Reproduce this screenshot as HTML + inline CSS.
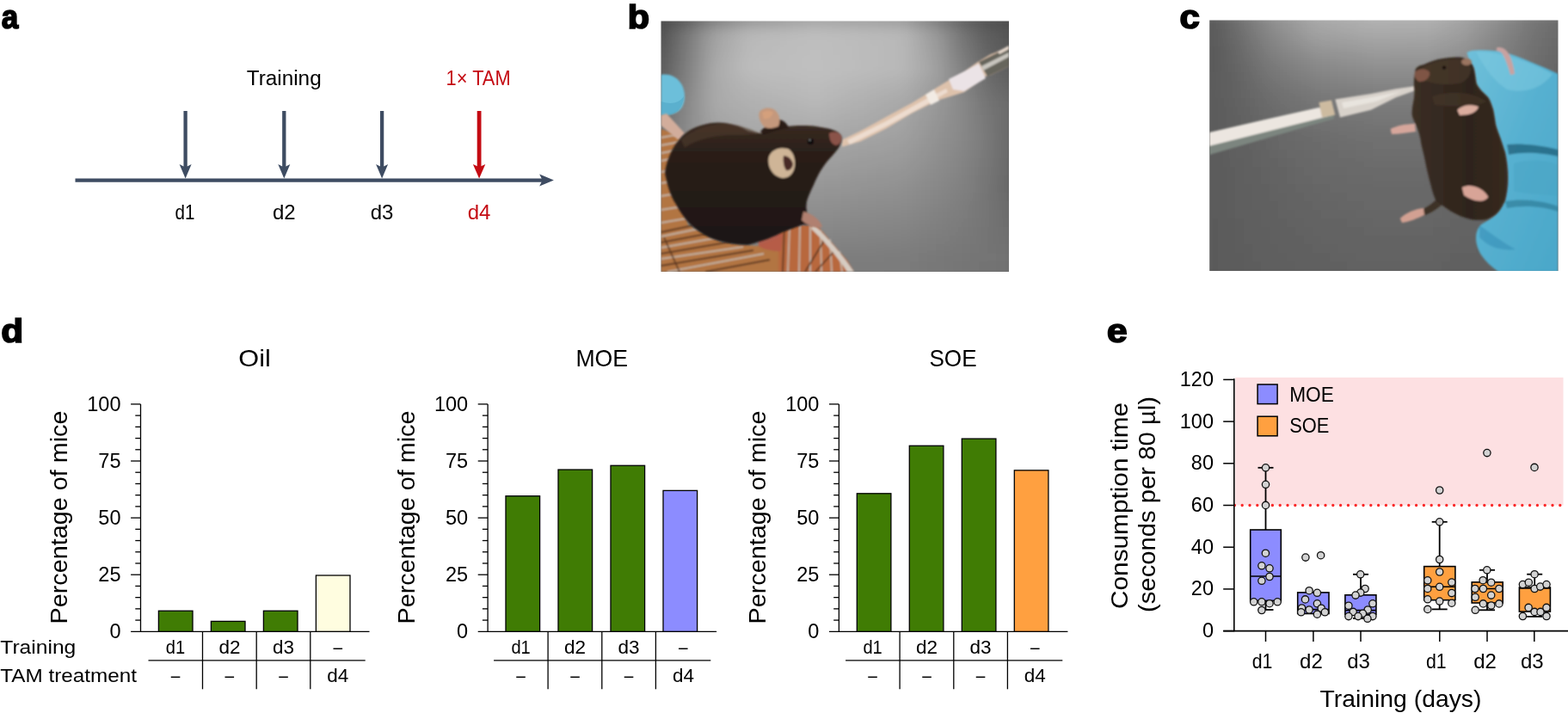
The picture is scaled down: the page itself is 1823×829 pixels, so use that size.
<!DOCTYPE html>
<html><head><meta charset="utf-8"><title>Figure</title>
<style>
html,body{margin:0;padding:0;background:#fff;}
body{width:1823px;height:829px;overflow:hidden;}
svg{display:block;}
svg text{font-family:'Liberation Sans', Arial, sans-serif;}
</style></head>
<body>
<svg width="1823" height="829" viewBox="0 0 1823 829">
<rect width="1823" height="829" fill="#fff"/>
<defs>
<clipPath id="cb"><rect x="768.5" y="24.5" width="404.5" height="291.5"/></clipPath>
<clipPath id="cc"><rect x="1406.2" y="23.5" width="405.3" height="291.5"/></clipPath>
<filter id="bgblur" x="-5%" y="-5%" width="110%" height="110%"><feGaussianBlur stdDeviation="6"/></filter>
<filter id="soft" x="-10%" y="-10%" width="120%" height="120%"><feGaussianBlur stdDeviation="1.1"/></filter>
<filter id="soft2" x="-10%" y="-10%" width="120%" height="120%"><feGaussianBlur stdDeviation="2"/></filter>
<linearGradient id="pip" x1="0" y1="0" x2="0.3" y2="1">
 <stop offset="0" stop-color="#efe6dc"/><stop offset="0.5" stop-color="#e2cdb9"/><stop offset="1" stop-color="#caa993"/>
</linearGradient>
<linearGradient id="glove" x1="0" y1="0" x2="1" y2="1">
 <stop offset="0" stop-color="#6fc0da"/><stop offset="0.5" stop-color="#56b0d0"/><stop offset="1" stop-color="#4aa7c9"/>
</linearGradient>
<linearGradient id="mb" x1="0" y1="0" x2="0" y2="1">
 <stop offset="0" stop-color="#3a2b22"/><stop offset="0.25" stop-color="#2a1f19"/><stop offset="1" stop-color="#1d1613"/>
</linearGradient>
<linearGradient id="mc" x1="0" y1="0" x2="1" y2="0">
 <stop offset="0" stop-color="#3b2e24"/><stop offset="0.6" stop-color="#2e241c"/><stop offset="1" stop-color="#372a20"/>
</linearGradient>
</defs>
<g clip-path="url(#cb)">
<g filter="url(#bgblur)"><rect x="758" y="14" width="10.6" height="10.6" fill="#494949"/>
<rect x="768" y="14" width="10.6" height="10.6" fill="#4b4b4b"/>
<rect x="778" y="14" width="10.6" height="10.6" fill="#515151"/>
<rect x="788" y="14" width="10.6" height="10.6" fill="#565656"/>
<rect x="798" y="14" width="10.6" height="10.6" fill="#5d5d5d"/>
<rect x="808" y="14" width="10.6" height="10.6" fill="#686868"/>
<rect x="818" y="14" width="10.6" height="10.6" fill="#737373"/>
<rect x="828" y="14" width="10.6" height="10.6" fill="#7c7c7c"/>
<rect x="838" y="14" width="10.6" height="10.6" fill="#828282"/>
<rect x="848" y="14" width="10.6" height="10.6" fill="#888888"/>
<rect x="858" y="14" width="10.6" height="10.6" fill="#8e8e8e"/>
<rect x="868" y="14" width="10.6" height="10.6" fill="#929292"/>
<rect x="878" y="14" width="10.6" height="10.6" fill="#949494"/>
<rect x="888" y="14" width="10.6" height="10.6" fill="#969696"/>
<rect x="898" y="14" width="10.6" height="10.6" fill="#989898"/>
<rect x="908" y="14" width="10.6" height="10.6" fill="#9a9a9a"/>
<rect x="918" y="14" width="10.6" height="10.6" fill="#9c9c9c"/>
<rect x="928" y="14" width="10.6" height="10.6" fill="#9e9e9e"/>
<rect x="938" y="14" width="10.6" height="10.6" fill="#a0a0a0"/>
<rect x="948" y="14" width="10.6" height="10.6" fill="#a1a1a1"/>
<rect x="958" y="14" width="10.6" height="10.6" fill="#a0a0a0"/>
<rect x="968" y="14" width="10.6" height="10.6" fill="#9f9f9f"/>
<rect x="978" y="14" width="10.6" height="10.6" fill="#9f9f9f"/>
<rect x="988" y="14" width="10.6" height="10.6" fill="#9e9e9e"/>
<rect x="998" y="14" width="10.6" height="10.6" fill="#9d9d9d"/>
<rect x="1008" y="14" width="10.6" height="10.6" fill="#9c9c9c"/>
<rect x="1018" y="14" width="10.6" height="10.6" fill="#9b9b9b"/>
<rect x="1028" y="14" width="10.6" height="10.6" fill="#9b9b9b"/>
<rect x="1038" y="14" width="10.6" height="10.6" fill="#9a9a9a"/>
<rect x="1048" y="14" width="10.6" height="10.6" fill="#979797"/>
<rect x="1058" y="14" width="10.6" height="10.6" fill="#8f8f8f"/>
<rect x="1068" y="14" width="10.6" height="10.6" fill="#878787"/>
<rect x="1078" y="14" width="10.6" height="10.6" fill="#7f7f7f"/>
<rect x="1088" y="14" width="10.6" height="10.6" fill="#767676"/>
<rect x="1098" y="14" width="10.6" height="10.6" fill="#6e6e6e"/>
<rect x="1108" y="14" width="10.6" height="10.6" fill="#666666"/>
<rect x="1118" y="14" width="10.6" height="10.6" fill="#5f5f5f"/>
<rect x="1128" y="14" width="10.6" height="10.6" fill="#595959"/>
<rect x="1138" y="14" width="10.6" height="10.6" fill="#545454"/>
<rect x="1148" y="14" width="10.6" height="10.6" fill="#505050"/>
<rect x="1158" y="14" width="10.6" height="10.6" fill="#4e4e4e"/>
<rect x="1168" y="14" width="10.6" height="10.6" fill="#4c4c4c"/>
<rect x="1178" y="14" width="10.6" height="10.6" fill="#4c4c4c"/>
<rect x="758" y="24" width="10.6" height="10.6" fill="#4c4c4c"/>
<rect x="768" y="24" width="10.6" height="10.6" fill="#505050"/>
<rect x="778" y="24" width="10.6" height="10.6" fill="#595959"/>
<rect x="788" y="24" width="10.6" height="10.6" fill="#616161"/>
<rect x="798" y="24" width="10.6" height="10.6" fill="#6b6b6b"/>
<rect x="808" y="24" width="10.6" height="10.6" fill="#777777"/>
<rect x="818" y="24" width="10.6" height="10.6" fill="#838383"/>
<rect x="828" y="24" width="10.6" height="10.6" fill="#8c8c8c"/>
<rect x="838" y="24" width="10.6" height="10.6" fill="#929292"/>
<rect x="848" y="24" width="10.6" height="10.6" fill="#989898"/>
<rect x="858" y="24" width="10.6" height="10.6" fill="#9e9e9e"/>
<rect x="868" y="24" width="10.6" height="10.6" fill="#a3a3a3"/>
<rect x="878" y="24" width="10.6" height="10.6" fill="#a4a4a4"/>
<rect x="888" y="24" width="10.6" height="10.6" fill="#a6a6a6"/>
<rect x="898" y="24" width="10.6" height="10.6" fill="#a7a7a7"/>
<rect x="908" y="24" width="10.6" height="10.6" fill="#a9a9a9"/>
<rect x="918" y="24" width="10.6" height="10.6" fill="#ababab"/>
<rect x="928" y="24" width="10.6" height="10.6" fill="#acacac"/>
<rect x="938" y="24" width="10.6" height="10.6" fill="#aeaeae"/>
<rect x="948" y="24" width="10.6" height="10.6" fill="#aeaeae"/>
<rect x="958" y="24" width="10.6" height="10.6" fill="#aeaeae"/>
<rect x="968" y="24" width="10.6" height="10.6" fill="#adadad"/>
<rect x="978" y="24" width="10.6" height="10.6" fill="#acacac"/>
<rect x="988" y="24" width="10.6" height="10.6" fill="#ababab"/>
<rect x="998" y="24" width="10.6" height="10.6" fill="#aaaaaa"/>
<rect x="1008" y="24" width="10.6" height="10.6" fill="#aaaaaa"/>
<rect x="1018" y="24" width="10.6" height="10.6" fill="#a9a9a9"/>
<rect x="1028" y="24" width="10.6" height="10.6" fill="#a8a8a8"/>
<rect x="1038" y="24" width="10.6" height="10.6" fill="#a7a7a7"/>
<rect x="1048" y="24" width="10.6" height="10.6" fill="#a4a4a4"/>
<rect x="1058" y="24" width="10.6" height="10.6" fill="#9c9c9c"/>
<rect x="1068" y="24" width="10.6" height="10.6" fill="#949494"/>
<rect x="1078" y="24" width="10.6" height="10.6" fill="#8c8c8c"/>
<rect x="1088" y="24" width="10.6" height="10.6" fill="#838383"/>
<rect x="1098" y="24" width="10.6" height="10.6" fill="#797979"/>
<rect x="1108" y="24" width="10.6" height="10.6" fill="#6e6e6e"/>
<rect x="1118" y="24" width="10.6" height="10.6" fill="#656565"/>
<rect x="1128" y="24" width="10.6" height="10.6" fill="#5f5f5f"/>
<rect x="1138" y="24" width="10.6" height="10.6" fill="#595959"/>
<rect x="1148" y="24" width="10.6" height="10.6" fill="#545454"/>
<rect x="1158" y="24" width="10.6" height="10.6" fill="#525252"/>
<rect x="1168" y="24" width="10.6" height="10.6" fill="#505050"/>
<rect x="1178" y="24" width="10.6" height="10.6" fill="#505050"/>
<rect x="758" y="34" width="10.6" height="10.6" fill="#505050"/>
<rect x="768" y="34" width="10.6" height="10.6" fill="#575757"/>
<rect x="778" y="34" width="10.6" height="10.6" fill="#636363"/>
<rect x="788" y="34" width="10.6" height="10.6" fill="#6f6f6f"/>
<rect x="798" y="34" width="10.6" height="10.6" fill="#7c7c7c"/>
<rect x="808" y="34" width="10.6" height="10.6" fill="#898989"/>
<rect x="818" y="34" width="10.6" height="10.6" fill="#969696"/>
<rect x="828" y="34" width="10.6" height="10.6" fill="#a1a1a1"/>
<rect x="838" y="34" width="10.6" height="10.6" fill="#a7a7a7"/>
<rect x="848" y="34" width="10.6" height="10.6" fill="#adadad"/>
<rect x="858" y="34" width="10.6" height="10.6" fill="#b3b3b3"/>
<rect x="868" y="34" width="10.6" height="10.6" fill="#b7b7b7"/>
<rect x="878" y="34" width="10.6" height="10.6" fill="#b8b8b8"/>
<rect x="888" y="34" width="10.6" height="10.6" fill="#b9b9b9"/>
<rect x="898" y="34" width="10.6" height="10.6" fill="#bababa"/>
<rect x="908" y="34" width="10.6" height="10.6" fill="#bababa"/>
<rect x="918" y="34" width="10.6" height="10.6" fill="#bbbbbb"/>
<rect x="928" y="34" width="10.6" height="10.6" fill="#bcbcbc"/>
<rect x="938" y="34" width="10.6" height="10.6" fill="#bdbdbd"/>
<rect x="948" y="34" width="10.6" height="10.6" fill="#bdbdbd"/>
<rect x="958" y="34" width="10.6" height="10.6" fill="#bcbcbc"/>
<rect x="968" y="34" width="10.6" height="10.6" fill="#bcbcbc"/>
<rect x="978" y="34" width="10.6" height="10.6" fill="#bbbbbb"/>
<rect x="988" y="34" width="10.6" height="10.6" fill="#bbbbbb"/>
<rect x="998" y="34" width="10.6" height="10.6" fill="#bababa"/>
<rect x="1008" y="34" width="10.6" height="10.6" fill="#b9b9b9"/>
<rect x="1018" y="34" width="10.6" height="10.6" fill="#b9b9b9"/>
<rect x="1028" y="34" width="10.6" height="10.6" fill="#b8b8b8"/>
<rect x="1038" y="34" width="10.6" height="10.6" fill="#b8b8b8"/>
<rect x="1048" y="34" width="10.6" height="10.6" fill="#b4b4b4"/>
<rect x="1058" y="34" width="10.6" height="10.6" fill="#acacac"/>
<rect x="1068" y="34" width="10.6" height="10.6" fill="#a4a4a4"/>
<rect x="1078" y="34" width="10.6" height="10.6" fill="#9c9c9c"/>
<rect x="1088" y="34" width="10.6" height="10.6" fill="#939393"/>
<rect x="1098" y="34" width="10.6" height="10.6" fill="#878787"/>
<rect x="1108" y="34" width="10.6" height="10.6" fill="#7b7b7b"/>
<rect x="1118" y="34" width="10.6" height="10.6" fill="#717171"/>
<rect x="1128" y="34" width="10.6" height="10.6" fill="#696969"/>
<rect x="1138" y="34" width="10.6" height="10.6" fill="#616161"/>
<rect x="1148" y="34" width="10.6" height="10.6" fill="#5b5b5b"/>
<rect x="1158" y="34" width="10.6" height="10.6" fill="#585858"/>
<rect x="1168" y="34" width="10.6" height="10.6" fill="#555555"/>
<rect x="1178" y="34" width="10.6" height="10.6" fill="#555555"/>
<rect x="758" y="44" width="10.6" height="10.6" fill="#535353"/>
<rect x="768" y="44" width="10.6" height="10.6" fill="#595959"/>
<rect x="778" y="44" width="10.6" height="10.6" fill="#666666"/>
<rect x="788" y="44" width="10.6" height="10.6" fill="#727272"/>
<rect x="798" y="44" width="10.6" height="10.6" fill="#7f7f7f"/>
<rect x="808" y="44" width="10.6" height="10.6" fill="#8c8c8c"/>
<rect x="818" y="44" width="10.6" height="10.6" fill="#999999"/>
<rect x="828" y="44" width="10.6" height="10.6" fill="#a4a4a4"/>
<rect x="838" y="44" width="10.6" height="10.6" fill="#aaaaaa"/>
<rect x="848" y="44" width="10.6" height="10.6" fill="#afafaf"/>
<rect x="858" y="44" width="10.6" height="10.6" fill="#b5b5b5"/>
<rect x="868" y="44" width="10.6" height="10.6" fill="#b9b9b9"/>
<rect x="878" y="44" width="10.6" height="10.6" fill="#bababa"/>
<rect x="888" y="44" width="10.6" height="10.6" fill="#bbbbbb"/>
<rect x="898" y="44" width="10.6" height="10.6" fill="#bbbbbb"/>
<rect x="908" y="44" width="10.6" height="10.6" fill="#bcbcbc"/>
<rect x="918" y="44" width="10.6" height="10.6" fill="#bdbdbd"/>
<rect x="928" y="44" width="10.6" height="10.6" fill="#bdbdbd"/>
<rect x="938" y="44" width="10.6" height="10.6" fill="#bebebe"/>
<rect x="948" y="44" width="10.6" height="10.6" fill="#bebebe"/>
<rect x="958" y="44" width="10.6" height="10.6" fill="#bebebe"/>
<rect x="968" y="44" width="10.6" height="10.6" fill="#bdbdbd"/>
<rect x="978" y="44" width="10.6" height="10.6" fill="#bcbcbc"/>
<rect x="988" y="44" width="10.6" height="10.6" fill="#bcbcbc"/>
<rect x="998" y="44" width="10.6" height="10.6" fill="#bbbbbb"/>
<rect x="1008" y="44" width="10.6" height="10.6" fill="#bababa"/>
<rect x="1018" y="44" width="10.6" height="10.6" fill="#bababa"/>
<rect x="1028" y="44" width="10.6" height="10.6" fill="#b9b9b9"/>
<rect x="1038" y="44" width="10.6" height="10.6" fill="#b8b8b8"/>
<rect x="1048" y="44" width="10.6" height="10.6" fill="#b5b5b5"/>
<rect x="1058" y="44" width="10.6" height="10.6" fill="#aeaeae"/>
<rect x="1068" y="44" width="10.6" height="10.6" fill="#a6a6a6"/>
<rect x="1078" y="44" width="10.6" height="10.6" fill="#9f9f9f"/>
<rect x="1088" y="44" width="10.6" height="10.6" fill="#969696"/>
<rect x="1098" y="44" width="10.6" height="10.6" fill="#8a8a8a"/>
<rect x="1108" y="44" width="10.6" height="10.6" fill="#7e7e7e"/>
<rect x="1118" y="44" width="10.6" height="10.6" fill="#747474"/>
<rect x="1128" y="44" width="10.6" height="10.6" fill="#6c6c6c"/>
<rect x="1138" y="44" width="10.6" height="10.6" fill="#646464"/>
<rect x="1148" y="44" width="10.6" height="10.6" fill="#5e5e5e"/>
<rect x="1158" y="44" width="10.6" height="10.6" fill="#5a5a5a"/>
<rect x="1168" y="44" width="10.6" height="10.6" fill="#575757"/>
<rect x="1178" y="44" width="10.6" height="10.6" fill="#575757"/>
<rect x="758" y="54" width="10.6" height="10.6" fill="#555555"/>
<rect x="768" y="54" width="10.6" height="10.6" fill="#5c5c5c"/>
<rect x="778" y="54" width="10.6" height="10.6" fill="#686868"/>
<rect x="788" y="54" width="10.6" height="10.6" fill="#747474"/>
<rect x="798" y="54" width="10.6" height="10.6" fill="#818181"/>
<rect x="808" y="54" width="10.6" height="10.6" fill="#8e8e8e"/>
<rect x="818" y="54" width="10.6" height="10.6" fill="#9b9b9b"/>
<rect x="828" y="54" width="10.6" height="10.6" fill="#a6a6a6"/>
<rect x="838" y="54" width="10.6" height="10.6" fill="#ababab"/>
<rect x="848" y="54" width="10.6" height="10.6" fill="#b1b1b1"/>
<rect x="858" y="54" width="10.6" height="10.6" fill="#b6b6b6"/>
<rect x="868" y="54" width="10.6" height="10.6" fill="#bababa"/>
<rect x="878" y="54" width="10.6" height="10.6" fill="#bbbbbb"/>
<rect x="888" y="54" width="10.6" height="10.6" fill="#bbbbbb"/>
<rect x="898" y="54" width="10.6" height="10.6" fill="#bcbcbc"/>
<rect x="908" y="54" width="10.6" height="10.6" fill="#bdbdbd"/>
<rect x="918" y="54" width="10.6" height="10.6" fill="#bdbdbd"/>
<rect x="928" y="54" width="10.6" height="10.6" fill="#bebebe"/>
<rect x="938" y="54" width="10.6" height="10.6" fill="#bfbfbf"/>
<rect x="948" y="54" width="10.6" height="10.6" fill="#bfbfbf"/>
<rect x="958" y="54" width="10.6" height="10.6" fill="#bebebe"/>
<rect x="968" y="54" width="10.6" height="10.6" fill="#bdbdbd"/>
<rect x="978" y="54" width="10.6" height="10.6" fill="#bdbdbd"/>
<rect x="988" y="54" width="10.6" height="10.6" fill="#bcbcbc"/>
<rect x="998" y="54" width="10.6" height="10.6" fill="#bbbbbb"/>
<rect x="1008" y="54" width="10.6" height="10.6" fill="#bbbbbb"/>
<rect x="1018" y="54" width="10.6" height="10.6" fill="#bababa"/>
<rect x="1028" y="54" width="10.6" height="10.6" fill="#b9b9b9"/>
<rect x="1038" y="54" width="10.6" height="10.6" fill="#b8b8b8"/>
<rect x="1048" y="54" width="10.6" height="10.6" fill="#b6b6b6"/>
<rect x="1058" y="54" width="10.6" height="10.6" fill="#afafaf"/>
<rect x="1068" y="54" width="10.6" height="10.6" fill="#a7a7a7"/>
<rect x="1078" y="54" width="10.6" height="10.6" fill="#a0a0a0"/>
<rect x="1088" y="54" width="10.6" height="10.6" fill="#989898"/>
<rect x="1098" y="54" width="10.6" height="10.6" fill="#8d8d8d"/>
<rect x="1108" y="54" width="10.6" height="10.6" fill="#818181"/>
<rect x="1118" y="54" width="10.6" height="10.6" fill="#777777"/>
<rect x="1128" y="54" width="10.6" height="10.6" fill="#6f6f6f"/>
<rect x="1138" y="54" width="10.6" height="10.6" fill="#676767"/>
<rect x="1148" y="54" width="10.6" height="10.6" fill="#616161"/>
<rect x="1158" y="54" width="10.6" height="10.6" fill="#5d5d5d"/>
<rect x="1168" y="54" width="10.6" height="10.6" fill="#595959"/>
<rect x="1178" y="54" width="10.6" height="10.6" fill="#595959"/>
<rect x="758" y="64" width="10.6" height="10.6" fill="#585858"/>
<rect x="768" y="64" width="10.6" height="10.6" fill="#5e5e5e"/>
<rect x="778" y="64" width="10.6" height="10.6" fill="#6a6a6a"/>
<rect x="788" y="64" width="10.6" height="10.6" fill="#767676"/>
<rect x="798" y="64" width="10.6" height="10.6" fill="#838383"/>
<rect x="808" y="64" width="10.6" height="10.6" fill="#909090"/>
<rect x="818" y="64" width="10.6" height="10.6" fill="#9d9d9d"/>
<rect x="828" y="64" width="10.6" height="10.6" fill="#a8a8a8"/>
<rect x="838" y="64" width="10.6" height="10.6" fill="#adadad"/>
<rect x="848" y="64" width="10.6" height="10.6" fill="#b2b2b2"/>
<rect x="858" y="64" width="10.6" height="10.6" fill="#b8b8b8"/>
<rect x="868" y="64" width="10.6" height="10.6" fill="#bbbbbb"/>
<rect x="878" y="64" width="10.6" height="10.6" fill="#bcbcbc"/>
<rect x="888" y="64" width="10.6" height="10.6" fill="#bcbcbc"/>
<rect x="898" y="64" width="10.6" height="10.6" fill="#bdbdbd"/>
<rect x="908" y="64" width="10.6" height="10.6" fill="#bdbdbd"/>
<rect x="918" y="64" width="10.6" height="10.6" fill="#bebebe"/>
<rect x="928" y="64" width="10.6" height="10.6" fill="#bfbfbf"/>
<rect x="938" y="64" width="10.6" height="10.6" fill="#bfbfbf"/>
<rect x="948" y="64" width="10.6" height="10.6" fill="#bfbfbf"/>
<rect x="958" y="64" width="10.6" height="10.6" fill="#bebebe"/>
<rect x="968" y="64" width="10.6" height="10.6" fill="#bebebe"/>
<rect x="978" y="64" width="10.6" height="10.6" fill="#bdbdbd"/>
<rect x="988" y="64" width="10.6" height="10.6" fill="#bcbcbc"/>
<rect x="998" y="64" width="10.6" height="10.6" fill="#bbbbbb"/>
<rect x="1008" y="64" width="10.6" height="10.6" fill="#bbbbbb"/>
<rect x="1018" y="64" width="10.6" height="10.6" fill="#bababa"/>
<rect x="1028" y="64" width="10.6" height="10.6" fill="#b9b9b9"/>
<rect x="1038" y="64" width="10.6" height="10.6" fill="#b8b8b8"/>
<rect x="1048" y="64" width="10.6" height="10.6" fill="#b6b6b6"/>
<rect x="1058" y="64" width="10.6" height="10.6" fill="#afafaf"/>
<rect x="1068" y="64" width="10.6" height="10.6" fill="#a9a9a9"/>
<rect x="1078" y="64" width="10.6" height="10.6" fill="#a2a2a2"/>
<rect x="1088" y="64" width="10.6" height="10.6" fill="#9a9a9a"/>
<rect x="1098" y="64" width="10.6" height="10.6" fill="#8f8f8f"/>
<rect x="1108" y="64" width="10.6" height="10.6" fill="#848484"/>
<rect x="1118" y="64" width="10.6" height="10.6" fill="#7a7a7a"/>
<rect x="1128" y="64" width="10.6" height="10.6" fill="#727272"/>
<rect x="1138" y="64" width="10.6" height="10.6" fill="#6a6a6a"/>
<rect x="1148" y="64" width="10.6" height="10.6" fill="#636363"/>
<rect x="1158" y="64" width="10.6" height="10.6" fill="#5f5f5f"/>
<rect x="1168" y="64" width="10.6" height="10.6" fill="#5c5c5c"/>
<rect x="1178" y="64" width="10.6" height="10.6" fill="#5c5c5c"/>
<rect x="758" y="74" width="10.6" height="10.6" fill="#5a5a5a"/>
<rect x="768" y="74" width="10.6" height="10.6" fill="#606060"/>
<rect x="778" y="74" width="10.6" height="10.6" fill="#6c6c6c"/>
<rect x="788" y="74" width="10.6" height="10.6" fill="#787878"/>
<rect x="798" y="74" width="10.6" height="10.6" fill="#858585"/>
<rect x="808" y="74" width="10.6" height="10.6" fill="#929292"/>
<rect x="818" y="74" width="10.6" height="10.6" fill="#9f9f9f"/>
<rect x="828" y="74" width="10.6" height="10.6" fill="#aaaaaa"/>
<rect x="838" y="74" width="10.6" height="10.6" fill="#afafaf"/>
<rect x="848" y="74" width="10.6" height="10.6" fill="#b4b4b4"/>
<rect x="858" y="74" width="10.6" height="10.6" fill="#b9b9b9"/>
<rect x="868" y="74" width="10.6" height="10.6" fill="#bcbcbc"/>
<rect x="878" y="74" width="10.6" height="10.6" fill="#bdbdbd"/>
<rect x="888" y="74" width="10.6" height="10.6" fill="#bdbdbd"/>
<rect x="898" y="74" width="10.6" height="10.6" fill="#bebebe"/>
<rect x="908" y="74" width="10.6" height="10.6" fill="#bebebe"/>
<rect x="918" y="74" width="10.6" height="10.6" fill="#bfbfbf"/>
<rect x="928" y="74" width="10.6" height="10.6" fill="#bfbfbf"/>
<rect x="938" y="74" width="10.6" height="10.6" fill="#c0c0c0"/>
<rect x="948" y="74" width="10.6" height="10.6" fill="#c0c0c0"/>
<rect x="958" y="74" width="10.6" height="10.6" fill="#bfbfbf"/>
<rect x="968" y="74" width="10.6" height="10.6" fill="#bebebe"/>
<rect x="978" y="74" width="10.6" height="10.6" fill="#bdbdbd"/>
<rect x="988" y="74" width="10.6" height="10.6" fill="#bdbdbd"/>
<rect x="998" y="74" width="10.6" height="10.6" fill="#bcbcbc"/>
<rect x="1008" y="74" width="10.6" height="10.6" fill="#bbbbbb"/>
<rect x="1018" y="74" width="10.6" height="10.6" fill="#bababa"/>
<rect x="1028" y="74" width="10.6" height="10.6" fill="#b9b9b9"/>
<rect x="1038" y="74" width="10.6" height="10.6" fill="#b9b9b9"/>
<rect x="1048" y="74" width="10.6" height="10.6" fill="#b6b6b6"/>
<rect x="1058" y="74" width="10.6" height="10.6" fill="#b0b0b0"/>
<rect x="1068" y="74" width="10.6" height="10.6" fill="#aaaaaa"/>
<rect x="1078" y="74" width="10.6" height="10.6" fill="#a4a4a4"/>
<rect x="1088" y="74" width="10.6" height="10.6" fill="#9c9c9c"/>
<rect x="1098" y="74" width="10.6" height="10.6" fill="#919191"/>
<rect x="1108" y="74" width="10.6" height="10.6" fill="#878787"/>
<rect x="1118" y="74" width="10.6" height="10.6" fill="#7d7d7d"/>
<rect x="1128" y="74" width="10.6" height="10.6" fill="#757575"/>
<rect x="1138" y="74" width="10.6" height="10.6" fill="#6d6d6d"/>
<rect x="1148" y="74" width="10.6" height="10.6" fill="#666666"/>
<rect x="1158" y="74" width="10.6" height="10.6" fill="#626262"/>
<rect x="1168" y="74" width="10.6" height="10.6" fill="#5e5e5e"/>
<rect x="1178" y="74" width="10.6" height="10.6" fill="#5e5e5e"/>
<rect x="758" y="84" width="10.6" height="10.6" fill="#5d5d5d"/>
<rect x="768" y="84" width="10.6" height="10.6" fill="#636363"/>
<rect x="778" y="84" width="10.6" height="10.6" fill="#6f6f6f"/>
<rect x="788" y="84" width="10.6" height="10.6" fill="#7a7a7a"/>
<rect x="798" y="84" width="10.6" height="10.6" fill="#868686"/>
<rect x="808" y="84" width="10.6" height="10.6" fill="#939393"/>
<rect x="818" y="84" width="10.6" height="10.6" fill="#a0a0a0"/>
<rect x="828" y="84" width="10.6" height="10.6" fill="#aaaaaa"/>
<rect x="838" y="84" width="10.6" height="10.6" fill="#aeaeae"/>
<rect x="848" y="84" width="10.6" height="10.6" fill="#b2b2b2"/>
<rect x="858" y="84" width="10.6" height="10.6" fill="#b6b6b6"/>
<rect x="868" y="84" width="10.6" height="10.6" fill="#b9b9b9"/>
<rect x="878" y="84" width="10.6" height="10.6" fill="#bababa"/>
<rect x="888" y="84" width="10.6" height="10.6" fill="#bbbbbb"/>
<rect x="898" y="84" width="10.6" height="10.6" fill="#bbbbbb"/>
<rect x="908" y="84" width="10.6" height="10.6" fill="#bcbcbc"/>
<rect x="918" y="84" width="10.6" height="10.6" fill="#bcbcbc"/>
<rect x="928" y="84" width="10.6" height="10.6" fill="#bdbdbd"/>
<rect x="938" y="84" width="10.6" height="10.6" fill="#bebebe"/>
<rect x="948" y="84" width="10.6" height="10.6" fill="#bebebe"/>
<rect x="958" y="84" width="10.6" height="10.6" fill="#bdbdbd"/>
<rect x="968" y="84" width="10.6" height="10.6" fill="#bcbcbc"/>
<rect x="978" y="84" width="10.6" height="10.6" fill="#bbbbbb"/>
<rect x="988" y="84" width="10.6" height="10.6" fill="#bababa"/>
<rect x="998" y="84" width="10.6" height="10.6" fill="#b9b9b9"/>
<rect x="1008" y="84" width="10.6" height="10.6" fill="#b8b8b8"/>
<rect x="1018" y="84" width="10.6" height="10.6" fill="#b7b7b7"/>
<rect x="1028" y="84" width="10.6" height="10.6" fill="#b6b6b6"/>
<rect x="1038" y="84" width="10.6" height="10.6" fill="#b5b5b5"/>
<rect x="1048" y="84" width="10.6" height="10.6" fill="#b2b2b2"/>
<rect x="1058" y="84" width="10.6" height="10.6" fill="#adadad"/>
<rect x="1068" y="84" width="10.6" height="10.6" fill="#a7a7a7"/>
<rect x="1078" y="84" width="10.6" height="10.6" fill="#a2a2a2"/>
<rect x="1088" y="84" width="10.6" height="10.6" fill="#9b9b9b"/>
<rect x="1098" y="84" width="10.6" height="10.6" fill="#919191"/>
<rect x="1108" y="84" width="10.6" height="10.6" fill="#888888"/>
<rect x="1118" y="84" width="10.6" height="10.6" fill="#7f7f7f"/>
<rect x="1128" y="84" width="10.6" height="10.6" fill="#787878"/>
<rect x="1138" y="84" width="10.6" height="10.6" fill="#707070"/>
<rect x="1148" y="84" width="10.6" height="10.6" fill="#696969"/>
<rect x="1158" y="84" width="10.6" height="10.6" fill="#656565"/>
<rect x="1168" y="84" width="10.6" height="10.6" fill="#616161"/>
<rect x="1178" y="84" width="10.6" height="10.6" fill="#616161"/>
<rect x="758" y="94" width="10.6" height="10.6" fill="#606060"/>
<rect x="768" y="94" width="10.6" height="10.6" fill="#666666"/>
<rect x="778" y="94" width="10.6" height="10.6" fill="#717171"/>
<rect x="788" y="94" width="10.6" height="10.6" fill="#7d7d7d"/>
<rect x="798" y="94" width="10.6" height="10.6" fill="#888888"/>
<rect x="808" y="94" width="10.6" height="10.6" fill="#949494"/>
<rect x="818" y="94" width="10.6" height="10.6" fill="#a0a0a0"/>
<rect x="828" y="94" width="10.6" height="10.6" fill="#a9a9a9"/>
<rect x="838" y="94" width="10.6" height="10.6" fill="#adadad"/>
<rect x="848" y="94" width="10.6" height="10.6" fill="#b0b0b0"/>
<rect x="858" y="94" width="10.6" height="10.6" fill="#b4b4b4"/>
<rect x="868" y="94" width="10.6" height="10.6" fill="#b6b6b6"/>
<rect x="878" y="94" width="10.6" height="10.6" fill="#b7b7b7"/>
<rect x="888" y="94" width="10.6" height="10.6" fill="#b8b8b8"/>
<rect x="898" y="94" width="10.6" height="10.6" fill="#b9b9b9"/>
<rect x="908" y="94" width="10.6" height="10.6" fill="#b9b9b9"/>
<rect x="918" y="94" width="10.6" height="10.6" fill="#bababa"/>
<rect x="928" y="94" width="10.6" height="10.6" fill="#bbbbbb"/>
<rect x="938" y="94" width="10.6" height="10.6" fill="#bcbcbc"/>
<rect x="948" y="94" width="10.6" height="10.6" fill="#bcbcbc"/>
<rect x="958" y="94" width="10.6" height="10.6" fill="#bababa"/>
<rect x="968" y="94" width="10.6" height="10.6" fill="#b9b9b9"/>
<rect x="978" y="94" width="10.6" height="10.6" fill="#b8b8b8"/>
<rect x="988" y="94" width="10.6" height="10.6" fill="#b7b7b7"/>
<rect x="998" y="94" width="10.6" height="10.6" fill="#b6b6b6"/>
<rect x="1008" y="94" width="10.6" height="10.6" fill="#b5b5b5"/>
<rect x="1018" y="94" width="10.6" height="10.6" fill="#b3b3b3"/>
<rect x="1028" y="94" width="10.6" height="10.6" fill="#b2b2b2"/>
<rect x="1038" y="94" width="10.6" height="10.6" fill="#b1b1b1"/>
<rect x="1048" y="94" width="10.6" height="10.6" fill="#aeaeae"/>
<rect x="1058" y="94" width="10.6" height="10.6" fill="#a9a9a9"/>
<rect x="1068" y="94" width="10.6" height="10.6" fill="#a4a4a4"/>
<rect x="1078" y="94" width="10.6" height="10.6" fill="#9f9f9f"/>
<rect x="1088" y="94" width="10.6" height="10.6" fill="#999999"/>
<rect x="1098" y="94" width="10.6" height="10.6" fill="#919191"/>
<rect x="1108" y="94" width="10.6" height="10.6" fill="#898989"/>
<rect x="1118" y="94" width="10.6" height="10.6" fill="#818181"/>
<rect x="1128" y="94" width="10.6" height="10.6" fill="#7a7a7a"/>
<rect x="1138" y="94" width="10.6" height="10.6" fill="#737373"/>
<rect x="1148" y="94" width="10.6" height="10.6" fill="#6c6c6c"/>
<rect x="1158" y="94" width="10.6" height="10.6" fill="#686868"/>
<rect x="1168" y="94" width="10.6" height="10.6" fill="#646464"/>
<rect x="1178" y="94" width="10.6" height="10.6" fill="#646464"/>
<rect x="758" y="104" width="10.6" height="10.6" fill="#636363"/>
<rect x="768" y="104" width="10.6" height="10.6" fill="#696969"/>
<rect x="778" y="104" width="10.6" height="10.6" fill="#747474"/>
<rect x="788" y="104" width="10.6" height="10.6" fill="#7f7f7f"/>
<rect x="798" y="104" width="10.6" height="10.6" fill="#8a8a8a"/>
<rect x="808" y="104" width="10.6" height="10.6" fill="#959595"/>
<rect x="818" y="104" width="10.6" height="10.6" fill="#a1a1a1"/>
<rect x="828" y="104" width="10.6" height="10.6" fill="#a9a9a9"/>
<rect x="838" y="104" width="10.6" height="10.6" fill="#acacac"/>
<rect x="848" y="104" width="10.6" height="10.6" fill="#afafaf"/>
<rect x="858" y="104" width="10.6" height="10.6" fill="#b1b1b1"/>
<rect x="868" y="104" width="10.6" height="10.6" fill="#b3b3b3"/>
<rect x="878" y="104" width="10.6" height="10.6" fill="#b4b4b4"/>
<rect x="888" y="104" width="10.6" height="10.6" fill="#b5b5b5"/>
<rect x="898" y="104" width="10.6" height="10.6" fill="#b6b6b6"/>
<rect x="908" y="104" width="10.6" height="10.6" fill="#b7b7b7"/>
<rect x="918" y="104" width="10.6" height="10.6" fill="#b8b8b8"/>
<rect x="928" y="104" width="10.6" height="10.6" fill="#b9b9b9"/>
<rect x="938" y="104" width="10.6" height="10.6" fill="#bababa"/>
<rect x="948" y="104" width="10.6" height="10.6" fill="#bababa"/>
<rect x="958" y="104" width="10.6" height="10.6" fill="#b8b8b8"/>
<rect x="968" y="104" width="10.6" height="10.6" fill="#b7b7b7"/>
<rect x="978" y="104" width="10.6" height="10.6" fill="#b5b5b5"/>
<rect x="988" y="104" width="10.6" height="10.6" fill="#b4b4b4"/>
<rect x="998" y="104" width="10.6" height="10.6" fill="#b3b3b3"/>
<rect x="1008" y="104" width="10.6" height="10.6" fill="#b1b1b1"/>
<rect x="1018" y="104" width="10.6" height="10.6" fill="#b0b0b0"/>
<rect x="1028" y="104" width="10.6" height="10.6" fill="#aeaeae"/>
<rect x="1038" y="104" width="10.6" height="10.6" fill="#adadad"/>
<rect x="1048" y="104" width="10.6" height="10.6" fill="#ababab"/>
<rect x="1058" y="104" width="10.6" height="10.6" fill="#a6a6a6"/>
<rect x="1068" y="104" width="10.6" height="10.6" fill="#a2a2a2"/>
<rect x="1078" y="104" width="10.6" height="10.6" fill="#9d9d9d"/>
<rect x="1088" y="104" width="10.6" height="10.6" fill="#989898"/>
<rect x="1098" y="104" width="10.6" height="10.6" fill="#919191"/>
<rect x="1108" y="104" width="10.6" height="10.6" fill="#8a8a8a"/>
<rect x="1118" y="104" width="10.6" height="10.6" fill="#838383"/>
<rect x="1128" y="104" width="10.6" height="10.6" fill="#7c7c7c"/>
<rect x="1138" y="104" width="10.6" height="10.6" fill="#757575"/>
<rect x="1148" y="104" width="10.6" height="10.6" fill="#6f6f6f"/>
<rect x="1158" y="104" width="10.6" height="10.6" fill="#6b6b6b"/>
<rect x="1168" y="104" width="10.6" height="10.6" fill="#676767"/>
<rect x="1178" y="104" width="10.6" height="10.6" fill="#676767"/>
<rect x="758" y="114" width="10.6" height="10.6" fill="#666666"/>
<rect x="768" y="114" width="10.6" height="10.6" fill="#6c6c6c"/>
<rect x="778" y="114" width="10.6" height="10.6" fill="#767676"/>
<rect x="788" y="114" width="10.6" height="10.6" fill="#818181"/>
<rect x="798" y="114" width="10.6" height="10.6" fill="#8c8c8c"/>
<rect x="808" y="114" width="10.6" height="10.6" fill="#969696"/>
<rect x="818" y="114" width="10.6" height="10.6" fill="#a1a1a1"/>
<rect x="828" y="114" width="10.6" height="10.6" fill="#a9a9a9"/>
<rect x="838" y="114" width="10.6" height="10.6" fill="#ababab"/>
<rect x="848" y="114" width="10.6" height="10.6" fill="#adadad"/>
<rect x="858" y="114" width="10.6" height="10.6" fill="#afafaf"/>
<rect x="868" y="114" width="10.6" height="10.6" fill="#b0b0b0"/>
<rect x="878" y="114" width="10.6" height="10.6" fill="#b1b1b1"/>
<rect x="888" y="114" width="10.6" height="10.6" fill="#b2b2b2"/>
<rect x="898" y="114" width="10.6" height="10.6" fill="#b3b3b3"/>
<rect x="908" y="114" width="10.6" height="10.6" fill="#b4b4b4"/>
<rect x="918" y="114" width="10.6" height="10.6" fill="#b5b5b5"/>
<rect x="928" y="114" width="10.6" height="10.6" fill="#b6b6b6"/>
<rect x="938" y="114" width="10.6" height="10.6" fill="#b7b7b7"/>
<rect x="948" y="114" width="10.6" height="10.6" fill="#b8b8b8"/>
<rect x="958" y="114" width="10.6" height="10.6" fill="#b6b6b6"/>
<rect x="968" y="114" width="10.6" height="10.6" fill="#b4b4b4"/>
<rect x="978" y="114" width="10.6" height="10.6" fill="#b3b3b3"/>
<rect x="988" y="114" width="10.6" height="10.6" fill="#b1b1b1"/>
<rect x="998" y="114" width="10.6" height="10.6" fill="#b0b0b0"/>
<rect x="1008" y="114" width="10.6" height="10.6" fill="#aeaeae"/>
<rect x="1018" y="114" width="10.6" height="10.6" fill="#acacac"/>
<rect x="1028" y="114" width="10.6" height="10.6" fill="#ababab"/>
<rect x="1038" y="114" width="10.6" height="10.6" fill="#a9a9a9"/>
<rect x="1048" y="114" width="10.6" height="10.6" fill="#a7a7a7"/>
<rect x="1058" y="114" width="10.6" height="10.6" fill="#a3a3a3"/>
<rect x="1068" y="114" width="10.6" height="10.6" fill="#9f9f9f"/>
<rect x="1078" y="114" width="10.6" height="10.6" fill="#9b9b9b"/>
<rect x="1088" y="114" width="10.6" height="10.6" fill="#969696"/>
<rect x="1098" y="114" width="10.6" height="10.6" fill="#919191"/>
<rect x="1108" y="114" width="10.6" height="10.6" fill="#8b8b8b"/>
<rect x="1118" y="114" width="10.6" height="10.6" fill="#868686"/>
<rect x="1128" y="114" width="10.6" height="10.6" fill="#7f7f7f"/>
<rect x="1138" y="114" width="10.6" height="10.6" fill="#787878"/>
<rect x="1148" y="114" width="10.6" height="10.6" fill="#727272"/>
<rect x="1158" y="114" width="10.6" height="10.6" fill="#6e6e6e"/>
<rect x="1168" y="114" width="10.6" height="10.6" fill="#6a6a6a"/>
<rect x="1178" y="114" width="10.6" height="10.6" fill="#6a6a6a"/>
<rect x="758" y="124" width="10.6" height="10.6" fill="#696969"/>
<rect x="768" y="124" width="10.6" height="10.6" fill="#6e6e6e"/>
<rect x="778" y="124" width="10.6" height="10.6" fill="#787878"/>
<rect x="788" y="124" width="10.6" height="10.6" fill="#828282"/>
<rect x="798" y="124" width="10.6" height="10.6" fill="#8c8c8c"/>
<rect x="808" y="124" width="10.6" height="10.6" fill="#969696"/>
<rect x="818" y="124" width="10.6" height="10.6" fill="#a0a0a0"/>
<rect x="828" y="124" width="10.6" height="10.6" fill="#a7a7a7"/>
<rect x="838" y="124" width="10.6" height="10.6" fill="#a9a9a9"/>
<rect x="848" y="124" width="10.6" height="10.6" fill="#ababab"/>
<rect x="858" y="124" width="10.6" height="10.6" fill="#acacac"/>
<rect x="868" y="124" width="10.6" height="10.6" fill="#aeaeae"/>
<rect x="878" y="124" width="10.6" height="10.6" fill="#afafaf"/>
<rect x="888" y="124" width="10.6" height="10.6" fill="#b0b0b0"/>
<rect x="898" y="124" width="10.6" height="10.6" fill="#b0b0b0"/>
<rect x="908" y="124" width="10.6" height="10.6" fill="#b1b1b1"/>
<rect x="918" y="124" width="10.6" height="10.6" fill="#b2b2b2"/>
<rect x="928" y="124" width="10.6" height="10.6" fill="#b3b3b3"/>
<rect x="938" y="124" width="10.6" height="10.6" fill="#b4b4b4"/>
<rect x="948" y="124" width="10.6" height="10.6" fill="#b4b4b4"/>
<rect x="958" y="124" width="10.6" height="10.6" fill="#b2b2b2"/>
<rect x="968" y="124" width="10.6" height="10.6" fill="#b1b1b1"/>
<rect x="978" y="124" width="10.6" height="10.6" fill="#afafaf"/>
<rect x="988" y="124" width="10.6" height="10.6" fill="#aeaeae"/>
<rect x="998" y="124" width="10.6" height="10.6" fill="#adadad"/>
<rect x="1008" y="124" width="10.6" height="10.6" fill="#ababab"/>
<rect x="1018" y="124" width="10.6" height="10.6" fill="#aaaaaa"/>
<rect x="1028" y="124" width="10.6" height="10.6" fill="#a8a8a8"/>
<rect x="1038" y="124" width="10.6" height="10.6" fill="#a7a7a7"/>
<rect x="1048" y="124" width="10.6" height="10.6" fill="#a5a5a5"/>
<rect x="1058" y="124" width="10.6" height="10.6" fill="#a1a1a1"/>
<rect x="1068" y="124" width="10.6" height="10.6" fill="#9d9d9d"/>
<rect x="1078" y="124" width="10.6" height="10.6" fill="#999999"/>
<rect x="1088" y="124" width="10.6" height="10.6" fill="#959595"/>
<rect x="1098" y="124" width="10.6" height="10.6" fill="#909090"/>
<rect x="1108" y="124" width="10.6" height="10.6" fill="#8b8b8b"/>
<rect x="1118" y="124" width="10.6" height="10.6" fill="#868686"/>
<rect x="1128" y="124" width="10.6" height="10.6" fill="#7f7f7f"/>
<rect x="1138" y="124" width="10.6" height="10.6" fill="#797979"/>
<rect x="1148" y="124" width="10.6" height="10.6" fill="#737373"/>
<rect x="1158" y="124" width="10.6" height="10.6" fill="#6f6f6f"/>
<rect x="1168" y="124" width="10.6" height="10.6" fill="#6a6a6a"/>
<rect x="1178" y="124" width="10.6" height="10.6" fill="#6a6a6a"/>
<rect x="758" y="134" width="10.6" height="10.6" fill="#6b6b6b"/>
<rect x="768" y="134" width="10.6" height="10.6" fill="#707070"/>
<rect x="778" y="134" width="10.6" height="10.6" fill="#7a7a7a"/>
<rect x="788" y="134" width="10.6" height="10.6" fill="#848484"/>
<rect x="798" y="134" width="10.6" height="10.6" fill="#8d8d8d"/>
<rect x="808" y="134" width="10.6" height="10.6" fill="#969696"/>
<rect x="818" y="134" width="10.6" height="10.6" fill="#9e9e9e"/>
<rect x="828" y="134" width="10.6" height="10.6" fill="#a5a5a5"/>
<rect x="838" y="134" width="10.6" height="10.6" fill="#a6a6a6"/>
<rect x="848" y="134" width="10.6" height="10.6" fill="#a8a8a8"/>
<rect x="858" y="134" width="10.6" height="10.6" fill="#aaaaaa"/>
<rect x="868" y="134" width="10.6" height="10.6" fill="#ababab"/>
<rect x="878" y="134" width="10.6" height="10.6" fill="#acacac"/>
<rect x="888" y="134" width="10.6" height="10.6" fill="#adadad"/>
<rect x="898" y="134" width="10.6" height="10.6" fill="#adadad"/>
<rect x="908" y="134" width="10.6" height="10.6" fill="#aeaeae"/>
<rect x="918" y="134" width="10.6" height="10.6" fill="#afafaf"/>
<rect x="928" y="134" width="10.6" height="10.6" fill="#afafaf"/>
<rect x="938" y="134" width="10.6" height="10.6" fill="#b0b0b0"/>
<rect x="948" y="134" width="10.6" height="10.6" fill="#b0b0b0"/>
<rect x="958" y="134" width="10.6" height="10.6" fill="#afafaf"/>
<rect x="968" y="134" width="10.6" height="10.6" fill="#adadad"/>
<rect x="978" y="134" width="10.6" height="10.6" fill="#acacac"/>
<rect x="988" y="134" width="10.6" height="10.6" fill="#ababab"/>
<rect x="998" y="134" width="10.6" height="10.6" fill="#aaaaaa"/>
<rect x="1008" y="134" width="10.6" height="10.6" fill="#a9a9a9"/>
<rect x="1018" y="134" width="10.6" height="10.6" fill="#a7a7a7"/>
<rect x="1028" y="134" width="10.6" height="10.6" fill="#a6a6a6"/>
<rect x="1038" y="134" width="10.6" height="10.6" fill="#a5a5a5"/>
<rect x="1048" y="134" width="10.6" height="10.6" fill="#a3a3a3"/>
<rect x="1058" y="134" width="10.6" height="10.6" fill="#9f9f9f"/>
<rect x="1068" y="134" width="10.6" height="10.6" fill="#9b9b9b"/>
<rect x="1078" y="134" width="10.6" height="10.6" fill="#989898"/>
<rect x="1088" y="134" width="10.6" height="10.6" fill="#949494"/>
<rect x="1098" y="134" width="10.6" height="10.6" fill="#8f8f8f"/>
<rect x="1108" y="134" width="10.6" height="10.6" fill="#8b8b8b"/>
<rect x="1118" y="134" width="10.6" height="10.6" fill="#868686"/>
<rect x="1128" y="134" width="10.6" height="10.6" fill="#808080"/>
<rect x="1138" y="134" width="10.6" height="10.6" fill="#7a7a7a"/>
<rect x="1148" y="134" width="10.6" height="10.6" fill="#747474"/>
<rect x="1158" y="134" width="10.6" height="10.6" fill="#6f6f6f"/>
<rect x="1168" y="134" width="10.6" height="10.6" fill="#6a6a6a"/>
<rect x="1178" y="134" width="10.6" height="10.6" fill="#6a6a6a"/>
<rect x="758" y="144" width="10.6" height="10.6" fill="#6e6e6e"/>
<rect x="768" y="144" width="10.6" height="10.6" fill="#727272"/>
<rect x="778" y="144" width="10.6" height="10.6" fill="#7c7c7c"/>
<rect x="788" y="144" width="10.6" height="10.6" fill="#858585"/>
<rect x="798" y="144" width="10.6" height="10.6" fill="#8e8e8e"/>
<rect x="808" y="144" width="10.6" height="10.6" fill="#959595"/>
<rect x="818" y="144" width="10.6" height="10.6" fill="#9d9d9d"/>
<rect x="828" y="144" width="10.6" height="10.6" fill="#a3a3a3"/>
<rect x="838" y="144" width="10.6" height="10.6" fill="#a4a4a4"/>
<rect x="848" y="144" width="10.6" height="10.6" fill="#a6a6a6"/>
<rect x="858" y="144" width="10.6" height="10.6" fill="#a8a8a8"/>
<rect x="868" y="144" width="10.6" height="10.6" fill="#a9a9a9"/>
<rect x="878" y="144" width="10.6" height="10.6" fill="#a9a9a9"/>
<rect x="888" y="144" width="10.6" height="10.6" fill="#aaaaaa"/>
<rect x="898" y="144" width="10.6" height="10.6" fill="#aaaaaa"/>
<rect x="908" y="144" width="10.6" height="10.6" fill="#ababab"/>
<rect x="918" y="144" width="10.6" height="10.6" fill="#ababab"/>
<rect x="928" y="144" width="10.6" height="10.6" fill="#ababab"/>
<rect x="938" y="144" width="10.6" height="10.6" fill="#acacac"/>
<rect x="948" y="144" width="10.6" height="10.6" fill="#acacac"/>
<rect x="958" y="144" width="10.6" height="10.6" fill="#ababab"/>
<rect x="968" y="144" width="10.6" height="10.6" fill="#aaaaaa"/>
<rect x="978" y="144" width="10.6" height="10.6" fill="#a9a9a9"/>
<rect x="988" y="144" width="10.6" height="10.6" fill="#a8a8a8"/>
<rect x="998" y="144" width="10.6" height="10.6" fill="#a7a7a7"/>
<rect x="1008" y="144" width="10.6" height="10.6" fill="#a6a6a6"/>
<rect x="1018" y="144" width="10.6" height="10.6" fill="#a5a5a5"/>
<rect x="1028" y="144" width="10.6" height="10.6" fill="#a4a4a4"/>
<rect x="1038" y="144" width="10.6" height="10.6" fill="#a3a3a3"/>
<rect x="1048" y="144" width="10.6" height="10.6" fill="#a1a1a1"/>
<rect x="1058" y="144" width="10.6" height="10.6" fill="#9d9d9d"/>
<rect x="1068" y="144" width="10.6" height="10.6" fill="#9a9a9a"/>
<rect x="1078" y="144" width="10.6" height="10.6" fill="#969696"/>
<rect x="1088" y="144" width="10.6" height="10.6" fill="#929292"/>
<rect x="1098" y="144" width="10.6" height="10.6" fill="#8e8e8e"/>
<rect x="1108" y="144" width="10.6" height="10.6" fill="#8b8b8b"/>
<rect x="1118" y="144" width="10.6" height="10.6" fill="#868686"/>
<rect x="1128" y="144" width="10.6" height="10.6" fill="#808080"/>
<rect x="1138" y="144" width="10.6" height="10.6" fill="#7b7b7b"/>
<rect x="1148" y="144" width="10.6" height="10.6" fill="#757575"/>
<rect x="1158" y="144" width="10.6" height="10.6" fill="#6f6f6f"/>
<rect x="1168" y="144" width="10.6" height="10.6" fill="#6a6a6a"/>
<rect x="1178" y="144" width="10.6" height="10.6" fill="#6a6a6a"/>
<rect x="758" y="154" width="10.6" height="10.6" fill="#707070"/>
<rect x="768" y="154" width="10.6" height="10.6" fill="#757575"/>
<rect x="778" y="154" width="10.6" height="10.6" fill="#7d7d7d"/>
<rect x="788" y="154" width="10.6" height="10.6" fill="#868686"/>
<rect x="798" y="154" width="10.6" height="10.6" fill="#8e8e8e"/>
<rect x="808" y="154" width="10.6" height="10.6" fill="#959595"/>
<rect x="818" y="154" width="10.6" height="10.6" fill="#9c9c9c"/>
<rect x="828" y="154" width="10.6" height="10.6" fill="#a1a1a1"/>
<rect x="838" y="154" width="10.6" height="10.6" fill="#a2a2a2"/>
<rect x="848" y="154" width="10.6" height="10.6" fill="#a4a4a4"/>
<rect x="858" y="154" width="10.6" height="10.6" fill="#a5a5a5"/>
<rect x="868" y="154" width="10.6" height="10.6" fill="#a6a6a6"/>
<rect x="878" y="154" width="10.6" height="10.6" fill="#a6a6a6"/>
<rect x="888" y="154" width="10.6" height="10.6" fill="#a7a7a7"/>
<rect x="898" y="154" width="10.6" height="10.6" fill="#a7a7a7"/>
<rect x="908" y="154" width="10.6" height="10.6" fill="#a7a7a7"/>
<rect x="918" y="154" width="10.6" height="10.6" fill="#a8a8a8"/>
<rect x="928" y="154" width="10.6" height="10.6" fill="#a8a8a8"/>
<rect x="938" y="154" width="10.6" height="10.6" fill="#a8a8a8"/>
<rect x="948" y="154" width="10.6" height="10.6" fill="#a8a8a8"/>
<rect x="958" y="154" width="10.6" height="10.6" fill="#a7a7a7"/>
<rect x="968" y="154" width="10.6" height="10.6" fill="#a6a6a6"/>
<rect x="978" y="154" width="10.6" height="10.6" fill="#a5a5a5"/>
<rect x="988" y="154" width="10.6" height="10.6" fill="#a5a5a5"/>
<rect x="998" y="154" width="10.6" height="10.6" fill="#a4a4a4"/>
<rect x="1008" y="154" width="10.6" height="10.6" fill="#a3a3a3"/>
<rect x="1018" y="154" width="10.6" height="10.6" fill="#a2a2a2"/>
<rect x="1028" y="154" width="10.6" height="10.6" fill="#a1a1a1"/>
<rect x="1038" y="154" width="10.6" height="10.6" fill="#a1a1a1"/>
<rect x="1048" y="154" width="10.6" height="10.6" fill="#9f9f9f"/>
<rect x="1058" y="154" width="10.6" height="10.6" fill="#9b9b9b"/>
<rect x="1068" y="154" width="10.6" height="10.6" fill="#989898"/>
<rect x="1078" y="154" width="10.6" height="10.6" fill="#949494"/>
<rect x="1088" y="154" width="10.6" height="10.6" fill="#919191"/>
<rect x="1098" y="154" width="10.6" height="10.6" fill="#8e8e8e"/>
<rect x="1108" y="154" width="10.6" height="10.6" fill="#8a8a8a"/>
<rect x="1118" y="154" width="10.6" height="10.6" fill="#868686"/>
<rect x="1128" y="154" width="10.6" height="10.6" fill="#818181"/>
<rect x="1138" y="154" width="10.6" height="10.6" fill="#7b7b7b"/>
<rect x="1148" y="154" width="10.6" height="10.6" fill="#767676"/>
<rect x="1158" y="154" width="10.6" height="10.6" fill="#707070"/>
<rect x="1168" y="154" width="10.6" height="10.6" fill="#6a6a6a"/>
<rect x="1178" y="154" width="10.6" height="10.6" fill="#6a6a6a"/>
<rect x="758" y="164" width="10.6" height="10.6" fill="#717171"/>
<rect x="768" y="164" width="10.6" height="10.6" fill="#757575"/>
<rect x="778" y="164" width="10.6" height="10.6" fill="#7e7e7e"/>
<rect x="788" y="164" width="10.6" height="10.6" fill="#868686"/>
<rect x="798" y="164" width="10.6" height="10.6" fill="#8d8d8d"/>
<rect x="808" y="164" width="10.6" height="10.6" fill="#949494"/>
<rect x="818" y="164" width="10.6" height="10.6" fill="#9a9a9a"/>
<rect x="828" y="164" width="10.6" height="10.6" fill="#9e9e9e"/>
<rect x="838" y="164" width="10.6" height="10.6" fill="#9f9f9f"/>
<rect x="848" y="164" width="10.6" height="10.6" fill="#a1a1a1"/>
<rect x="858" y="164" width="10.6" height="10.6" fill="#a2a2a2"/>
<rect x="868" y="164" width="10.6" height="10.6" fill="#a3a3a3"/>
<rect x="878" y="164" width="10.6" height="10.6" fill="#a3a3a3"/>
<rect x="888" y="164" width="10.6" height="10.6" fill="#a4a4a4"/>
<rect x="898" y="164" width="10.6" height="10.6" fill="#a4a4a4"/>
<rect x="908" y="164" width="10.6" height="10.6" fill="#a4a4a4"/>
<rect x="918" y="164" width="10.6" height="10.6" fill="#a4a4a4"/>
<rect x="928" y="164" width="10.6" height="10.6" fill="#a5a5a5"/>
<rect x="938" y="164" width="10.6" height="10.6" fill="#a5a5a5"/>
<rect x="948" y="164" width="10.6" height="10.6" fill="#a5a5a5"/>
<rect x="958" y="164" width="10.6" height="10.6" fill="#a4a4a4"/>
<rect x="968" y="164" width="10.6" height="10.6" fill="#a3a3a3"/>
<rect x="978" y="164" width="10.6" height="10.6" fill="#a3a3a3"/>
<rect x="988" y="164" width="10.6" height="10.6" fill="#a2a2a2"/>
<rect x="998" y="164" width="10.6" height="10.6" fill="#a1a1a1"/>
<rect x="1008" y="164" width="10.6" height="10.6" fill="#a0a0a0"/>
<rect x="1018" y="164" width="10.6" height="10.6" fill="#a0a0a0"/>
<rect x="1028" y="164" width="10.6" height="10.6" fill="#9f9f9f"/>
<rect x="1038" y="164" width="10.6" height="10.6" fill="#9e9e9e"/>
<rect x="1048" y="164" width="10.6" height="10.6" fill="#9c9c9c"/>
<rect x="1058" y="164" width="10.6" height="10.6" fill="#999999"/>
<rect x="1068" y="164" width="10.6" height="10.6" fill="#969696"/>
<rect x="1078" y="164" width="10.6" height="10.6" fill="#939393"/>
<rect x="1088" y="164" width="10.6" height="10.6" fill="#8f8f8f"/>
<rect x="1098" y="164" width="10.6" height="10.6" fill="#8c8c8c"/>
<rect x="1108" y="164" width="10.6" height="10.6" fill="#898989"/>
<rect x="1118" y="164" width="10.6" height="10.6" fill="#858585"/>
<rect x="1128" y="164" width="10.6" height="10.6" fill="#808080"/>
<rect x="1138" y="164" width="10.6" height="10.6" fill="#7b7b7b"/>
<rect x="1148" y="164" width="10.6" height="10.6" fill="#757575"/>
<rect x="1158" y="164" width="10.6" height="10.6" fill="#6f6f6f"/>
<rect x="1168" y="164" width="10.6" height="10.6" fill="#6a6a6a"/>
<rect x="1178" y="164" width="10.6" height="10.6" fill="#6a6a6a"/>
<rect x="758" y="174" width="10.6" height="10.6" fill="#727272"/>
<rect x="768" y="174" width="10.6" height="10.6" fill="#767676"/>
<rect x="778" y="174" width="10.6" height="10.6" fill="#7e7e7e"/>
<rect x="788" y="174" width="10.6" height="10.6" fill="#868686"/>
<rect x="798" y="174" width="10.6" height="10.6" fill="#8d8d8d"/>
<rect x="808" y="174" width="10.6" height="10.6" fill="#929292"/>
<rect x="818" y="174" width="10.6" height="10.6" fill="#979797"/>
<rect x="828" y="174" width="10.6" height="10.6" fill="#9b9b9b"/>
<rect x="838" y="174" width="10.6" height="10.6" fill="#9d9d9d"/>
<rect x="848" y="174" width="10.6" height="10.6" fill="#9e9e9e"/>
<rect x="858" y="174" width="10.6" height="10.6" fill="#9f9f9f"/>
<rect x="868" y="174" width="10.6" height="10.6" fill="#a0a0a0"/>
<rect x="878" y="174" width="10.6" height="10.6" fill="#a0a0a0"/>
<rect x="888" y="174" width="10.6" height="10.6" fill="#a1a1a1"/>
<rect x="898" y="174" width="10.6" height="10.6" fill="#a1a1a1"/>
<rect x="908" y="174" width="10.6" height="10.6" fill="#a1a1a1"/>
<rect x="918" y="174" width="10.6" height="10.6" fill="#a1a1a1"/>
<rect x="928" y="174" width="10.6" height="10.6" fill="#a2a2a2"/>
<rect x="938" y="174" width="10.6" height="10.6" fill="#a2a2a2"/>
<rect x="948" y="174" width="10.6" height="10.6" fill="#a2a2a2"/>
<rect x="958" y="174" width="10.6" height="10.6" fill="#a1a1a1"/>
<rect x="968" y="174" width="10.6" height="10.6" fill="#a0a0a0"/>
<rect x="978" y="174" width="10.6" height="10.6" fill="#a0a0a0"/>
<rect x="988" y="174" width="10.6" height="10.6" fill="#9f9f9f"/>
<rect x="998" y="174" width="10.6" height="10.6" fill="#9e9e9e"/>
<rect x="1008" y="174" width="10.6" height="10.6" fill="#9d9d9d"/>
<rect x="1018" y="174" width="10.6" height="10.6" fill="#9d9d9d"/>
<rect x="1028" y="174" width="10.6" height="10.6" fill="#9c9c9c"/>
<rect x="1038" y="174" width="10.6" height="10.6" fill="#9b9b9b"/>
<rect x="1048" y="174" width="10.6" height="10.6" fill="#9a9a9a"/>
<rect x="1058" y="174" width="10.6" height="10.6" fill="#979797"/>
<rect x="1068" y="174" width="10.6" height="10.6" fill="#949494"/>
<rect x="1078" y="174" width="10.6" height="10.6" fill="#919191"/>
<rect x="1088" y="174" width="10.6" height="10.6" fill="#8e8e8e"/>
<rect x="1098" y="174" width="10.6" height="10.6" fill="#8b8b8b"/>
<rect x="1108" y="174" width="10.6" height="10.6" fill="#878787"/>
<rect x="1118" y="174" width="10.6" height="10.6" fill="#848484"/>
<rect x="1128" y="174" width="10.6" height="10.6" fill="#7f7f7f"/>
<rect x="1138" y="174" width="10.6" height="10.6" fill="#7a7a7a"/>
<rect x="1148" y="174" width="10.6" height="10.6" fill="#757575"/>
<rect x="1158" y="174" width="10.6" height="10.6" fill="#6f6f6f"/>
<rect x="1168" y="174" width="10.6" height="10.6" fill="#696969"/>
<rect x="1178" y="174" width="10.6" height="10.6" fill="#696969"/>
<rect x="758" y="184" width="10.6" height="10.6" fill="#727272"/>
<rect x="768" y="184" width="10.6" height="10.6" fill="#767676"/>
<rect x="778" y="184" width="10.6" height="10.6" fill="#7e7e7e"/>
<rect x="788" y="184" width="10.6" height="10.6" fill="#858585"/>
<rect x="798" y="184" width="10.6" height="10.6" fill="#8c8c8c"/>
<rect x="808" y="184" width="10.6" height="10.6" fill="#909090"/>
<rect x="818" y="184" width="10.6" height="10.6" fill="#959595"/>
<rect x="828" y="184" width="10.6" height="10.6" fill="#999999"/>
<rect x="838" y="184" width="10.6" height="10.6" fill="#9a9a9a"/>
<rect x="848" y="184" width="10.6" height="10.6" fill="#9b9b9b"/>
<rect x="858" y="184" width="10.6" height="10.6" fill="#9c9c9c"/>
<rect x="868" y="184" width="10.6" height="10.6" fill="#9d9d9d"/>
<rect x="878" y="184" width="10.6" height="10.6" fill="#9d9d9d"/>
<rect x="888" y="184" width="10.6" height="10.6" fill="#9e9e9e"/>
<rect x="898" y="184" width="10.6" height="10.6" fill="#9e9e9e"/>
<rect x="908" y="184" width="10.6" height="10.6" fill="#9e9e9e"/>
<rect x="918" y="184" width="10.6" height="10.6" fill="#9e9e9e"/>
<rect x="928" y="184" width="10.6" height="10.6" fill="#9f9f9f"/>
<rect x="938" y="184" width="10.6" height="10.6" fill="#9f9f9f"/>
<rect x="948" y="184" width="10.6" height="10.6" fill="#9f9f9f"/>
<rect x="958" y="184" width="10.6" height="10.6" fill="#9e9e9e"/>
<rect x="968" y="184" width="10.6" height="10.6" fill="#9e9e9e"/>
<rect x="978" y="184" width="10.6" height="10.6" fill="#9d9d9d"/>
<rect x="988" y="184" width="10.6" height="10.6" fill="#9c9c9c"/>
<rect x="998" y="184" width="10.6" height="10.6" fill="#9b9b9b"/>
<rect x="1008" y="184" width="10.6" height="10.6" fill="#9b9b9b"/>
<rect x="1018" y="184" width="10.6" height="10.6" fill="#9a9a9a"/>
<rect x="1028" y="184" width="10.6" height="10.6" fill="#999999"/>
<rect x="1038" y="184" width="10.6" height="10.6" fill="#999999"/>
<rect x="1048" y="184" width="10.6" height="10.6" fill="#979797"/>
<rect x="1058" y="184" width="10.6" height="10.6" fill="#949494"/>
<rect x="1068" y="184" width="10.6" height="10.6" fill="#929292"/>
<rect x="1078" y="184" width="10.6" height="10.6" fill="#8f8f8f"/>
<rect x="1088" y="184" width="10.6" height="10.6" fill="#8c8c8c"/>
<rect x="1098" y="184" width="10.6" height="10.6" fill="#898989"/>
<rect x="1108" y="184" width="10.6" height="10.6" fill="#868686"/>
<rect x="1118" y="184" width="10.6" height="10.6" fill="#828282"/>
<rect x="1128" y="184" width="10.6" height="10.6" fill="#7e7e7e"/>
<rect x="1138" y="184" width="10.6" height="10.6" fill="#797979"/>
<rect x="1148" y="184" width="10.6" height="10.6" fill="#747474"/>
<rect x="1158" y="184" width="10.6" height="10.6" fill="#6e6e6e"/>
<rect x="1168" y="184" width="10.6" height="10.6" fill="#696969"/>
<rect x="1178" y="184" width="10.6" height="10.6" fill="#696969"/>
<rect x="758" y="194" width="10.6" height="10.6" fill="#737373"/>
<rect x="768" y="194" width="10.6" height="10.6" fill="#777777"/>
<rect x="778" y="194" width="10.6" height="10.6" fill="#7e7e7e"/>
<rect x="788" y="194" width="10.6" height="10.6" fill="#858585"/>
<rect x="798" y="194" width="10.6" height="10.6" fill="#8b8b8b"/>
<rect x="808" y="194" width="10.6" height="10.6" fill="#8f8f8f"/>
<rect x="818" y="194" width="10.6" height="10.6" fill="#939393"/>
<rect x="828" y="194" width="10.6" height="10.6" fill="#969696"/>
<rect x="838" y="194" width="10.6" height="10.6" fill="#979797"/>
<rect x="848" y="194" width="10.6" height="10.6" fill="#989898"/>
<rect x="858" y="194" width="10.6" height="10.6" fill="#999999"/>
<rect x="868" y="194" width="10.6" height="10.6" fill="#9a9a9a"/>
<rect x="878" y="194" width="10.6" height="10.6" fill="#9a9a9a"/>
<rect x="888" y="194" width="10.6" height="10.6" fill="#9b9b9b"/>
<rect x="898" y="194" width="10.6" height="10.6" fill="#9b9b9b"/>
<rect x="908" y="194" width="10.6" height="10.6" fill="#9b9b9b"/>
<rect x="918" y="194" width="10.6" height="10.6" fill="#9b9b9b"/>
<rect x="928" y="194" width="10.6" height="10.6" fill="#9c9c9c"/>
<rect x="938" y="194" width="10.6" height="10.6" fill="#9c9c9c"/>
<rect x="948" y="194" width="10.6" height="10.6" fill="#9c9c9c"/>
<rect x="958" y="194" width="10.6" height="10.6" fill="#9b9b9b"/>
<rect x="968" y="194" width="10.6" height="10.6" fill="#9b9b9b"/>
<rect x="978" y="194" width="10.6" height="10.6" fill="#9a9a9a"/>
<rect x="988" y="194" width="10.6" height="10.6" fill="#999999"/>
<rect x="998" y="194" width="10.6" height="10.6" fill="#999999"/>
<rect x="1008" y="194" width="10.6" height="10.6" fill="#989898"/>
<rect x="1018" y="194" width="10.6" height="10.6" fill="#979797"/>
<rect x="1028" y="194" width="10.6" height="10.6" fill="#979797"/>
<rect x="1038" y="194" width="10.6" height="10.6" fill="#969696"/>
<rect x="1048" y="194" width="10.6" height="10.6" fill="#959595"/>
<rect x="1058" y="194" width="10.6" height="10.6" fill="#929292"/>
<rect x="1068" y="194" width="10.6" height="10.6" fill="#909090"/>
<rect x="1078" y="194" width="10.6" height="10.6" fill="#8d8d8d"/>
<rect x="1088" y="194" width="10.6" height="10.6" fill="#8a8a8a"/>
<rect x="1098" y="194" width="10.6" height="10.6" fill="#888888"/>
<rect x="1108" y="194" width="10.6" height="10.6" fill="#858585"/>
<rect x="1118" y="194" width="10.6" height="10.6" fill="#818181"/>
<rect x="1128" y="194" width="10.6" height="10.6" fill="#7d7d7d"/>
<rect x="1138" y="194" width="10.6" height="10.6" fill="#787878"/>
<rect x="1148" y="194" width="10.6" height="10.6" fill="#737373"/>
<rect x="1158" y="194" width="10.6" height="10.6" fill="#6e6e6e"/>
<rect x="1168" y="194" width="10.6" height="10.6" fill="#696969"/>
<rect x="1178" y="194" width="10.6" height="10.6" fill="#696969"/>
<rect x="758" y="204" width="10.6" height="10.6" fill="#747474"/>
<rect x="768" y="204" width="10.6" height="10.6" fill="#777777"/>
<rect x="778" y="204" width="10.6" height="10.6" fill="#7e7e7e"/>
<rect x="788" y="204" width="10.6" height="10.6" fill="#848484"/>
<rect x="798" y="204" width="10.6" height="10.6" fill="#8a8a8a"/>
<rect x="808" y="204" width="10.6" height="10.6" fill="#8d8d8d"/>
<rect x="818" y="204" width="10.6" height="10.6" fill="#919191"/>
<rect x="828" y="204" width="10.6" height="10.6" fill="#939393"/>
<rect x="838" y="204" width="10.6" height="10.6" fill="#949494"/>
<rect x="848" y="204" width="10.6" height="10.6" fill="#959595"/>
<rect x="858" y="204" width="10.6" height="10.6" fill="#969696"/>
<rect x="868" y="204" width="10.6" height="10.6" fill="#979797"/>
<rect x="878" y="204" width="10.6" height="10.6" fill="#979797"/>
<rect x="888" y="204" width="10.6" height="10.6" fill="#989898"/>
<rect x="898" y="204" width="10.6" height="10.6" fill="#989898"/>
<rect x="908" y="204" width="10.6" height="10.6" fill="#989898"/>
<rect x="918" y="204" width="10.6" height="10.6" fill="#989898"/>
<rect x="928" y="204" width="10.6" height="10.6" fill="#999999"/>
<rect x="938" y="204" width="10.6" height="10.6" fill="#999999"/>
<rect x="948" y="204" width="10.6" height="10.6" fill="#999999"/>
<rect x="958" y="204" width="10.6" height="10.6" fill="#989898"/>
<rect x="968" y="204" width="10.6" height="10.6" fill="#989898"/>
<rect x="978" y="204" width="10.6" height="10.6" fill="#979797"/>
<rect x="988" y="204" width="10.6" height="10.6" fill="#969696"/>
<rect x="998" y="204" width="10.6" height="10.6" fill="#969696"/>
<rect x="1008" y="204" width="10.6" height="10.6" fill="#959595"/>
<rect x="1018" y="204" width="10.6" height="10.6" fill="#949494"/>
<rect x="1028" y="204" width="10.6" height="10.6" fill="#949494"/>
<rect x="1038" y="204" width="10.6" height="10.6" fill="#939393"/>
<rect x="1048" y="204" width="10.6" height="10.6" fill="#929292"/>
<rect x="1058" y="204" width="10.6" height="10.6" fill="#909090"/>
<rect x="1068" y="204" width="10.6" height="10.6" fill="#8d8d8d"/>
<rect x="1078" y="204" width="10.6" height="10.6" fill="#8b8b8b"/>
<rect x="1088" y="204" width="10.6" height="10.6" fill="#898989"/>
<rect x="1098" y="204" width="10.6" height="10.6" fill="#868686"/>
<rect x="1108" y="204" width="10.6" height="10.6" fill="#838383"/>
<rect x="1118" y="204" width="10.6" height="10.6" fill="#808080"/>
<rect x="1128" y="204" width="10.6" height="10.6" fill="#7c7c7c"/>
<rect x="1138" y="204" width="10.6" height="10.6" fill="#777777"/>
<rect x="1148" y="204" width="10.6" height="10.6" fill="#737373"/>
<rect x="1158" y="204" width="10.6" height="10.6" fill="#6d6d6d"/>
<rect x="1168" y="204" width="10.6" height="10.6" fill="#686868"/>
<rect x="1178" y="204" width="10.6" height="10.6" fill="#686868"/>
<rect x="758" y="214" width="10.6" height="10.6" fill="#747474"/>
<rect x="768" y="214" width="10.6" height="10.6" fill="#777777"/>
<rect x="778" y="214" width="10.6" height="10.6" fill="#7e7e7e"/>
<rect x="788" y="214" width="10.6" height="10.6" fill="#848484"/>
<rect x="798" y="214" width="10.6" height="10.6" fill="#898989"/>
<rect x="808" y="214" width="10.6" height="10.6" fill="#8c8c8c"/>
<rect x="818" y="214" width="10.6" height="10.6" fill="#8e8e8e"/>
<rect x="828" y="214" width="10.6" height="10.6" fill="#909090"/>
<rect x="838" y="214" width="10.6" height="10.6" fill="#919191"/>
<rect x="848" y="214" width="10.6" height="10.6" fill="#929292"/>
<rect x="858" y="214" width="10.6" height="10.6" fill="#939393"/>
<rect x="868" y="214" width="10.6" height="10.6" fill="#949494"/>
<rect x="878" y="214" width="10.6" height="10.6" fill="#949494"/>
<rect x="888" y="214" width="10.6" height="10.6" fill="#959595"/>
<rect x="898" y="214" width="10.6" height="10.6" fill="#959595"/>
<rect x="908" y="214" width="10.6" height="10.6" fill="#959595"/>
<rect x="918" y="214" width="10.6" height="10.6" fill="#959595"/>
<rect x="928" y="214" width="10.6" height="10.6" fill="#969696"/>
<rect x="938" y="214" width="10.6" height="10.6" fill="#969696"/>
<rect x="948" y="214" width="10.6" height="10.6" fill="#969696"/>
<rect x="958" y="214" width="10.6" height="10.6" fill="#959595"/>
<rect x="968" y="214" width="10.6" height="10.6" fill="#959595"/>
<rect x="978" y="214" width="10.6" height="10.6" fill="#949494"/>
<rect x="988" y="214" width="10.6" height="10.6" fill="#949494"/>
<rect x="998" y="214" width="10.6" height="10.6" fill="#939393"/>
<rect x="1008" y="214" width="10.6" height="10.6" fill="#929292"/>
<rect x="1018" y="214" width="10.6" height="10.6" fill="#929292"/>
<rect x="1028" y="214" width="10.6" height="10.6" fill="#919191"/>
<rect x="1038" y="214" width="10.6" height="10.6" fill="#919191"/>
<rect x="1048" y="214" width="10.6" height="10.6" fill="#8f8f8f"/>
<rect x="1058" y="214" width="10.6" height="10.6" fill="#8d8d8d"/>
<rect x="1068" y="214" width="10.6" height="10.6" fill="#8b8b8b"/>
<rect x="1078" y="214" width="10.6" height="10.6" fill="#898989"/>
<rect x="1088" y="214" width="10.6" height="10.6" fill="#878787"/>
<rect x="1098" y="214" width="10.6" height="10.6" fill="#848484"/>
<rect x="1108" y="214" width="10.6" height="10.6" fill="#828282"/>
<rect x="1118" y="214" width="10.6" height="10.6" fill="#7f7f7f"/>
<rect x="1128" y="214" width="10.6" height="10.6" fill="#7b7b7b"/>
<rect x="1138" y="214" width="10.6" height="10.6" fill="#777777"/>
<rect x="1148" y="214" width="10.6" height="10.6" fill="#727272"/>
<rect x="1158" y="214" width="10.6" height="10.6" fill="#6d6d6d"/>
<rect x="1168" y="214" width="10.6" height="10.6" fill="#686868"/>
<rect x="1178" y="214" width="10.6" height="10.6" fill="#686868"/>
<rect x="758" y="224" width="10.6" height="10.6" fill="#757575"/>
<rect x="768" y="224" width="10.6" height="10.6" fill="#787878"/>
<rect x="778" y="224" width="10.6" height="10.6" fill="#7d7d7d"/>
<rect x="788" y="224" width="10.6" height="10.6" fill="#838383"/>
<rect x="798" y="224" width="10.6" height="10.6" fill="#878787"/>
<rect x="808" y="224" width="10.6" height="10.6" fill="#8a8a8a"/>
<rect x="818" y="224" width="10.6" height="10.6" fill="#8c8c8c"/>
<rect x="828" y="224" width="10.6" height="10.6" fill="#8e8e8e"/>
<rect x="838" y="224" width="10.6" height="10.6" fill="#8f8f8f"/>
<rect x="848" y="224" width="10.6" height="10.6" fill="#909090"/>
<rect x="858" y="224" width="10.6" height="10.6" fill="#919191"/>
<rect x="868" y="224" width="10.6" height="10.6" fill="#919191"/>
<rect x="878" y="224" width="10.6" height="10.6" fill="#929292"/>
<rect x="888" y="224" width="10.6" height="10.6" fill="#929292"/>
<rect x="898" y="224" width="10.6" height="10.6" fill="#929292"/>
<rect x="908" y="224" width="10.6" height="10.6" fill="#929292"/>
<rect x="918" y="224" width="10.6" height="10.6" fill="#939393"/>
<rect x="928" y="224" width="10.6" height="10.6" fill="#939393"/>
<rect x="938" y="224" width="10.6" height="10.6" fill="#939393"/>
<rect x="948" y="224" width="10.6" height="10.6" fill="#939393"/>
<rect x="958" y="224" width="10.6" height="10.6" fill="#929292"/>
<rect x="968" y="224" width="10.6" height="10.6" fill="#929292"/>
<rect x="978" y="224" width="10.6" height="10.6" fill="#919191"/>
<rect x="988" y="224" width="10.6" height="10.6" fill="#919191"/>
<rect x="998" y="224" width="10.6" height="10.6" fill="#909090"/>
<rect x="1008" y="224" width="10.6" height="10.6" fill="#909090"/>
<rect x="1018" y="224" width="10.6" height="10.6" fill="#8f8f8f"/>
<rect x="1028" y="224" width="10.6" height="10.6" fill="#8f8f8f"/>
<rect x="1038" y="224" width="10.6" height="10.6" fill="#8e8e8e"/>
<rect x="1048" y="224" width="10.6" height="10.6" fill="#8d8d8d"/>
<rect x="1058" y="224" width="10.6" height="10.6" fill="#8b8b8b"/>
<rect x="1068" y="224" width="10.6" height="10.6" fill="#898989"/>
<rect x="1078" y="224" width="10.6" height="10.6" fill="#878787"/>
<rect x="1088" y="224" width="10.6" height="10.6" fill="#858585"/>
<rect x="1098" y="224" width="10.6" height="10.6" fill="#838383"/>
<rect x="1108" y="224" width="10.6" height="10.6" fill="#808080"/>
<rect x="1118" y="224" width="10.6" height="10.6" fill="#7e7e7e"/>
<rect x="1128" y="224" width="10.6" height="10.6" fill="#7a7a7a"/>
<rect x="1138" y="224" width="10.6" height="10.6" fill="#767676"/>
<rect x="1148" y="224" width="10.6" height="10.6" fill="#727272"/>
<rect x="1158" y="224" width="10.6" height="10.6" fill="#6e6e6e"/>
<rect x="1168" y="224" width="10.6" height="10.6" fill="#696969"/>
<rect x="1178" y="224" width="10.6" height="10.6" fill="#696969"/>
<rect x="758" y="234" width="10.6" height="10.6" fill="#757575"/>
<rect x="768" y="234" width="10.6" height="10.6" fill="#787878"/>
<rect x="778" y="234" width="10.6" height="10.6" fill="#7d7d7d"/>
<rect x="788" y="234" width="10.6" height="10.6" fill="#828282"/>
<rect x="798" y="234" width="10.6" height="10.6" fill="#868686"/>
<rect x="808" y="234" width="10.6" height="10.6" fill="#888888"/>
<rect x="818" y="234" width="10.6" height="10.6" fill="#8a8a8a"/>
<rect x="828" y="234" width="10.6" height="10.6" fill="#8c8c8c"/>
<rect x="838" y="234" width="10.6" height="10.6" fill="#8d8d8d"/>
<rect x="848" y="234" width="10.6" height="10.6" fill="#8d8d8d"/>
<rect x="858" y="234" width="10.6" height="10.6" fill="#8e8e8e"/>
<rect x="868" y="234" width="10.6" height="10.6" fill="#8f8f8f"/>
<rect x="878" y="234" width="10.6" height="10.6" fill="#8f8f8f"/>
<rect x="888" y="234" width="10.6" height="10.6" fill="#8f8f8f"/>
<rect x="898" y="234" width="10.6" height="10.6" fill="#8f8f8f"/>
<rect x="908" y="234" width="10.6" height="10.6" fill="#8f8f8f"/>
<rect x="918" y="234" width="10.6" height="10.6" fill="#909090"/>
<rect x="928" y="234" width="10.6" height="10.6" fill="#909090"/>
<rect x="938" y="234" width="10.6" height="10.6" fill="#909090"/>
<rect x="948" y="234" width="10.6" height="10.6" fill="#909090"/>
<rect x="958" y="234" width="10.6" height="10.6" fill="#8f8f8f"/>
<rect x="968" y="234" width="10.6" height="10.6" fill="#8f8f8f"/>
<rect x="978" y="234" width="10.6" height="10.6" fill="#8e8e8e"/>
<rect x="988" y="234" width="10.6" height="10.6" fill="#8e8e8e"/>
<rect x="998" y="234" width="10.6" height="10.6" fill="#8d8d8d"/>
<rect x="1008" y="234" width="10.6" height="10.6" fill="#8d8d8d"/>
<rect x="1018" y="234" width="10.6" height="10.6" fill="#8c8c8c"/>
<rect x="1028" y="234" width="10.6" height="10.6" fill="#8c8c8c"/>
<rect x="1038" y="234" width="10.6" height="10.6" fill="#8b8b8b"/>
<rect x="1048" y="234" width="10.6" height="10.6" fill="#8b8b8b"/>
<rect x="1058" y="234" width="10.6" height="10.6" fill="#898989"/>
<rect x="1068" y="234" width="10.6" height="10.6" fill="#878787"/>
<rect x="1078" y="234" width="10.6" height="10.6" fill="#858585"/>
<rect x="1088" y="234" width="10.6" height="10.6" fill="#838383"/>
<rect x="1098" y="234" width="10.6" height="10.6" fill="#818181"/>
<rect x="1108" y="234" width="10.6" height="10.6" fill="#7f7f7f"/>
<rect x="1118" y="234" width="10.6" height="10.6" fill="#7c7c7c"/>
<rect x="1128" y="234" width="10.6" height="10.6" fill="#797979"/>
<rect x="1138" y="234" width="10.6" height="10.6" fill="#767676"/>
<rect x="1148" y="234" width="10.6" height="10.6" fill="#737373"/>
<rect x="1158" y="234" width="10.6" height="10.6" fill="#6e6e6e"/>
<rect x="1168" y="234" width="10.6" height="10.6" fill="#6a6a6a"/>
<rect x="1178" y="234" width="10.6" height="10.6" fill="#6a6a6a"/>
<rect x="758" y="244" width="10.6" height="10.6" fill="#767676"/>
<rect x="768" y="244" width="10.6" height="10.6" fill="#787878"/>
<rect x="778" y="244" width="10.6" height="10.6" fill="#7c7c7c"/>
<rect x="788" y="244" width="10.6" height="10.6" fill="#818181"/>
<rect x="798" y="244" width="10.6" height="10.6" fill="#848484"/>
<rect x="808" y="244" width="10.6" height="10.6" fill="#868686"/>
<rect x="818" y="244" width="10.6" height="10.6" fill="#888888"/>
<rect x="828" y="244" width="10.6" height="10.6" fill="#8a8a8a"/>
<rect x="838" y="244" width="10.6" height="10.6" fill="#8a8a8a"/>
<rect x="848" y="244" width="10.6" height="10.6" fill="#8b8b8b"/>
<rect x="858" y="244" width="10.6" height="10.6" fill="#8b8b8b"/>
<rect x="868" y="244" width="10.6" height="10.6" fill="#8c8c8c"/>
<rect x="878" y="244" width="10.6" height="10.6" fill="#8c8c8c"/>
<rect x="888" y="244" width="10.6" height="10.6" fill="#8c8c8c"/>
<rect x="898" y="244" width="10.6" height="10.6" fill="#8c8c8c"/>
<rect x="908" y="244" width="10.6" height="10.6" fill="#8d8d8d"/>
<rect x="918" y="244" width="10.6" height="10.6" fill="#8d8d8d"/>
<rect x="928" y="244" width="10.6" height="10.6" fill="#8d8d8d"/>
<rect x="938" y="244" width="10.6" height="10.6" fill="#8d8d8d"/>
<rect x="948" y="244" width="10.6" height="10.6" fill="#8d8d8d"/>
<rect x="958" y="244" width="10.6" height="10.6" fill="#8d8d8d"/>
<rect x="968" y="244" width="10.6" height="10.6" fill="#8c8c8c"/>
<rect x="978" y="244" width="10.6" height="10.6" fill="#8c8c8c"/>
<rect x="988" y="244" width="10.6" height="10.6" fill="#8b8b8b"/>
<rect x="998" y="244" width="10.6" height="10.6" fill="#8b8b8b"/>
<rect x="1008" y="244" width="10.6" height="10.6" fill="#8a8a8a"/>
<rect x="1018" y="244" width="10.6" height="10.6" fill="#8a8a8a"/>
<rect x="1028" y="244" width="10.6" height="10.6" fill="#898989"/>
<rect x="1038" y="244" width="10.6" height="10.6" fill="#898989"/>
<rect x="1048" y="244" width="10.6" height="10.6" fill="#888888"/>
<rect x="1058" y="244" width="10.6" height="10.6" fill="#868686"/>
<rect x="1068" y="244" width="10.6" height="10.6" fill="#858585"/>
<rect x="1078" y="244" width="10.6" height="10.6" fill="#838383"/>
<rect x="1088" y="244" width="10.6" height="10.6" fill="#818181"/>
<rect x="1098" y="244" width="10.6" height="10.6" fill="#7f7f7f"/>
<rect x="1108" y="244" width="10.6" height="10.6" fill="#7e7e7e"/>
<rect x="1118" y="244" width="10.6" height="10.6" fill="#7b7b7b"/>
<rect x="1128" y="244" width="10.6" height="10.6" fill="#797979"/>
<rect x="1138" y="244" width="10.6" height="10.6" fill="#767676"/>
<rect x="1148" y="244" width="10.6" height="10.6" fill="#737373"/>
<rect x="1158" y="244" width="10.6" height="10.6" fill="#6f6f6f"/>
<rect x="1168" y="244" width="10.6" height="10.6" fill="#6c6c6c"/>
<rect x="1178" y="244" width="10.6" height="10.6" fill="#6c6c6c"/>
<rect x="758" y="254" width="10.6" height="10.6" fill="#767676"/>
<rect x="768" y="254" width="10.6" height="10.6" fill="#787878"/>
<rect x="778" y="254" width="10.6" height="10.6" fill="#7c7c7c"/>
<rect x="788" y="254" width="10.6" height="10.6" fill="#808080"/>
<rect x="798" y="254" width="10.6" height="10.6" fill="#838383"/>
<rect x="808" y="254" width="10.6" height="10.6" fill="#848484"/>
<rect x="818" y="254" width="10.6" height="10.6" fill="#868686"/>
<rect x="828" y="254" width="10.6" height="10.6" fill="#878787"/>
<rect x="838" y="254" width="10.6" height="10.6" fill="#888888"/>
<rect x="848" y="254" width="10.6" height="10.6" fill="#888888"/>
<rect x="858" y="254" width="10.6" height="10.6" fill="#898989"/>
<rect x="868" y="254" width="10.6" height="10.6" fill="#898989"/>
<rect x="878" y="254" width="10.6" height="10.6" fill="#898989"/>
<rect x="888" y="254" width="10.6" height="10.6" fill="#898989"/>
<rect x="898" y="254" width="10.6" height="10.6" fill="#8a8a8a"/>
<rect x="908" y="254" width="10.6" height="10.6" fill="#8a8a8a"/>
<rect x="918" y="254" width="10.6" height="10.6" fill="#8a8a8a"/>
<rect x="928" y="254" width="10.6" height="10.6" fill="#8a8a8a"/>
<rect x="938" y="254" width="10.6" height="10.6" fill="#8a8a8a"/>
<rect x="948" y="254" width="10.6" height="10.6" fill="#8a8a8a"/>
<rect x="958" y="254" width="10.6" height="10.6" fill="#8a8a8a"/>
<rect x="968" y="254" width="10.6" height="10.6" fill="#898989"/>
<rect x="978" y="254" width="10.6" height="10.6" fill="#898989"/>
<rect x="988" y="254" width="10.6" height="10.6" fill="#888888"/>
<rect x="998" y="254" width="10.6" height="10.6" fill="#888888"/>
<rect x="1008" y="254" width="10.6" height="10.6" fill="#888888"/>
<rect x="1018" y="254" width="10.6" height="10.6" fill="#878787"/>
<rect x="1028" y="254" width="10.6" height="10.6" fill="#878787"/>
<rect x="1038" y="254" width="10.6" height="10.6" fill="#868686"/>
<rect x="1048" y="254" width="10.6" height="10.6" fill="#868686"/>
<rect x="1058" y="254" width="10.6" height="10.6" fill="#848484"/>
<rect x="1068" y="254" width="10.6" height="10.6" fill="#838383"/>
<rect x="1078" y="254" width="10.6" height="10.6" fill="#818181"/>
<rect x="1088" y="254" width="10.6" height="10.6" fill="#808080"/>
<rect x="1098" y="254" width="10.6" height="10.6" fill="#7e7e7e"/>
<rect x="1108" y="254" width="10.6" height="10.6" fill="#7c7c7c"/>
<rect x="1118" y="254" width="10.6" height="10.6" fill="#7a7a7a"/>
<rect x="1128" y="254" width="10.6" height="10.6" fill="#787878"/>
<rect x="1138" y="254" width="10.6" height="10.6" fill="#767676"/>
<rect x="1148" y="254" width="10.6" height="10.6" fill="#737373"/>
<rect x="1158" y="254" width="10.6" height="10.6" fill="#707070"/>
<rect x="1168" y="254" width="10.6" height="10.6" fill="#6d6d6d"/>
<rect x="1178" y="254" width="10.6" height="10.6" fill="#6d6d6d"/>
<rect x="758" y="264" width="10.6" height="10.6" fill="#777777"/>
<rect x="768" y="264" width="10.6" height="10.6" fill="#787878"/>
<rect x="778" y="264" width="10.6" height="10.6" fill="#7b7b7b"/>
<rect x="788" y="264" width="10.6" height="10.6" fill="#7f7f7f"/>
<rect x="798" y="264" width="10.6" height="10.6" fill="#818181"/>
<rect x="808" y="264" width="10.6" height="10.6" fill="#838383"/>
<rect x="818" y="264" width="10.6" height="10.6" fill="#848484"/>
<rect x="828" y="264" width="10.6" height="10.6" fill="#858585"/>
<rect x="838" y="264" width="10.6" height="10.6" fill="#858585"/>
<rect x="848" y="264" width="10.6" height="10.6" fill="#868686"/>
<rect x="858" y="264" width="10.6" height="10.6" fill="#868686"/>
<rect x="868" y="264" width="10.6" height="10.6" fill="#868686"/>
<rect x="878" y="264" width="10.6" height="10.6" fill="#878787"/>
<rect x="888" y="264" width="10.6" height="10.6" fill="#878787"/>
<rect x="898" y="264" width="10.6" height="10.6" fill="#878787"/>
<rect x="908" y="264" width="10.6" height="10.6" fill="#878787"/>
<rect x="918" y="264" width="10.6" height="10.6" fill="#878787"/>
<rect x="928" y="264" width="10.6" height="10.6" fill="#878787"/>
<rect x="938" y="264" width="10.6" height="10.6" fill="#878787"/>
<rect x="948" y="264" width="10.6" height="10.6" fill="#878787"/>
<rect x="958" y="264" width="10.6" height="10.6" fill="#878787"/>
<rect x="968" y="264" width="10.6" height="10.6" fill="#868686"/>
<rect x="978" y="264" width="10.6" height="10.6" fill="#868686"/>
<rect x="988" y="264" width="10.6" height="10.6" fill="#868686"/>
<rect x="998" y="264" width="10.6" height="10.6" fill="#858585"/>
<rect x="1008" y="264" width="10.6" height="10.6" fill="#858585"/>
<rect x="1018" y="264" width="10.6" height="10.6" fill="#858585"/>
<rect x="1028" y="264" width="10.6" height="10.6" fill="#848484"/>
<rect x="1038" y="264" width="10.6" height="10.6" fill="#848484"/>
<rect x="1048" y="264" width="10.6" height="10.6" fill="#838383"/>
<rect x="1058" y="264" width="10.6" height="10.6" fill="#828282"/>
<rect x="1068" y="264" width="10.6" height="10.6" fill="#808080"/>
<rect x="1078" y="264" width="10.6" height="10.6" fill="#7f7f7f"/>
<rect x="1088" y="264" width="10.6" height="10.6" fill="#7e7e7e"/>
<rect x="1098" y="264" width="10.6" height="10.6" fill="#7c7c7c"/>
<rect x="1108" y="264" width="10.6" height="10.6" fill="#7b7b7b"/>
<rect x="1118" y="264" width="10.6" height="10.6" fill="#797979"/>
<rect x="1128" y="264" width="10.6" height="10.6" fill="#777777"/>
<rect x="1138" y="264" width="10.6" height="10.6" fill="#757575"/>
<rect x="1148" y="264" width="10.6" height="10.6" fill="#737373"/>
<rect x="1158" y="264" width="10.6" height="10.6" fill="#717171"/>
<rect x="1168" y="264" width="10.6" height="10.6" fill="#6e6e6e"/>
<rect x="1178" y="264" width="10.6" height="10.6" fill="#6e6e6e"/>
<rect x="758" y="274" width="10.6" height="10.6" fill="#777777"/>
<rect x="768" y="274" width="10.6" height="10.6" fill="#787878"/>
<rect x="778" y="274" width="10.6" height="10.6" fill="#7b7b7b"/>
<rect x="788" y="274" width="10.6" height="10.6" fill="#7d7d7d"/>
<rect x="798" y="274" width="10.6" height="10.6" fill="#7f7f7f"/>
<rect x="808" y="274" width="10.6" height="10.6" fill="#818181"/>
<rect x="818" y="274" width="10.6" height="10.6" fill="#828282"/>
<rect x="828" y="274" width="10.6" height="10.6" fill="#838383"/>
<rect x="838" y="274" width="10.6" height="10.6" fill="#838383"/>
<rect x="848" y="274" width="10.6" height="10.6" fill="#838383"/>
<rect x="858" y="274" width="10.6" height="10.6" fill="#838383"/>
<rect x="868" y="274" width="10.6" height="10.6" fill="#848484"/>
<rect x="878" y="274" width="10.6" height="10.6" fill="#848484"/>
<rect x="888" y="274" width="10.6" height="10.6" fill="#848484"/>
<rect x="898" y="274" width="10.6" height="10.6" fill="#848484"/>
<rect x="908" y="274" width="10.6" height="10.6" fill="#848484"/>
<rect x="918" y="274" width="10.6" height="10.6" fill="#848484"/>
<rect x="928" y="274" width="10.6" height="10.6" fill="#848484"/>
<rect x="938" y="274" width="10.6" height="10.6" fill="#848484"/>
<rect x="948" y="274" width="10.6" height="10.6" fill="#848484"/>
<rect x="958" y="274" width="10.6" height="10.6" fill="#848484"/>
<rect x="968" y="274" width="10.6" height="10.6" fill="#838383"/>
<rect x="978" y="274" width="10.6" height="10.6" fill="#838383"/>
<rect x="988" y="274" width="10.6" height="10.6" fill="#838383"/>
<rect x="998" y="274" width="10.6" height="10.6" fill="#838383"/>
<rect x="1008" y="274" width="10.6" height="10.6" fill="#828282"/>
<rect x="1018" y="274" width="10.6" height="10.6" fill="#828282"/>
<rect x="1028" y="274" width="10.6" height="10.6" fill="#828282"/>
<rect x="1038" y="274" width="10.6" height="10.6" fill="#818181"/>
<rect x="1048" y="274" width="10.6" height="10.6" fill="#818181"/>
<rect x="1058" y="274" width="10.6" height="10.6" fill="#7f7f7f"/>
<rect x="1068" y="274" width="10.6" height="10.6" fill="#7e7e7e"/>
<rect x="1078" y="274" width="10.6" height="10.6" fill="#7d7d7d"/>
<rect x="1088" y="274" width="10.6" height="10.6" fill="#7c7c7c"/>
<rect x="1098" y="274" width="10.6" height="10.6" fill="#7b7b7b"/>
<rect x="1108" y="274" width="10.6" height="10.6" fill="#797979"/>
<rect x="1118" y="274" width="10.6" height="10.6" fill="#787878"/>
<rect x="1128" y="274" width="10.6" height="10.6" fill="#777777"/>
<rect x="1138" y="274" width="10.6" height="10.6" fill="#757575"/>
<rect x="1148" y="274" width="10.6" height="10.6" fill="#737373"/>
<rect x="1158" y="274" width="10.6" height="10.6" fill="#717171"/>
<rect x="1168" y="274" width="10.6" height="10.6" fill="#6f6f6f"/>
<rect x="1178" y="274" width="10.6" height="10.6" fill="#6f6f6f"/>
<rect x="758" y="284" width="10.6" height="10.6" fill="#787878"/>
<rect x="768" y="284" width="10.6" height="10.6" fill="#797979"/>
<rect x="778" y="284" width="10.6" height="10.6" fill="#7a7a7a"/>
<rect x="788" y="284" width="10.6" height="10.6" fill="#7c7c7c"/>
<rect x="798" y="284" width="10.6" height="10.6" fill="#7e7e7e"/>
<rect x="808" y="284" width="10.6" height="10.6" fill="#7f7f7f"/>
<rect x="818" y="284" width="10.6" height="10.6" fill="#808080"/>
<rect x="828" y="284" width="10.6" height="10.6" fill="#808080"/>
<rect x="838" y="284" width="10.6" height="10.6" fill="#818181"/>
<rect x="848" y="284" width="10.6" height="10.6" fill="#818181"/>
<rect x="858" y="284" width="10.6" height="10.6" fill="#818181"/>
<rect x="868" y="284" width="10.6" height="10.6" fill="#818181"/>
<rect x="878" y="284" width="10.6" height="10.6" fill="#818181"/>
<rect x="888" y="284" width="10.6" height="10.6" fill="#818181"/>
<rect x="898" y="284" width="10.6" height="10.6" fill="#818181"/>
<rect x="908" y="284" width="10.6" height="10.6" fill="#818181"/>
<rect x="918" y="284" width="10.6" height="10.6" fill="#818181"/>
<rect x="928" y="284" width="10.6" height="10.6" fill="#818181"/>
<rect x="938" y="284" width="10.6" height="10.6" fill="#818181"/>
<rect x="948" y="284" width="10.6" height="10.6" fill="#818181"/>
<rect x="958" y="284" width="10.6" height="10.6" fill="#818181"/>
<rect x="968" y="284" width="10.6" height="10.6" fill="#818181"/>
<rect x="978" y="284" width="10.6" height="10.6" fill="#808080"/>
<rect x="988" y="284" width="10.6" height="10.6" fill="#808080"/>
<rect x="998" y="284" width="10.6" height="10.6" fill="#808080"/>
<rect x="1008" y="284" width="10.6" height="10.6" fill="#808080"/>
<rect x="1018" y="284" width="10.6" height="10.6" fill="#7f7f7f"/>
<rect x="1028" y="284" width="10.6" height="10.6" fill="#7f7f7f"/>
<rect x="1038" y="284" width="10.6" height="10.6" fill="#7f7f7f"/>
<rect x="1048" y="284" width="10.6" height="10.6" fill="#7e7e7e"/>
<rect x="1058" y="284" width="10.6" height="10.6" fill="#7d7d7d"/>
<rect x="1068" y="284" width="10.6" height="10.6" fill="#7c7c7c"/>
<rect x="1078" y="284" width="10.6" height="10.6" fill="#7b7b7b"/>
<rect x="1088" y="284" width="10.6" height="10.6" fill="#7a7a7a"/>
<rect x="1098" y="284" width="10.6" height="10.6" fill="#797979"/>
<rect x="1108" y="284" width="10.6" height="10.6" fill="#787878"/>
<rect x="1118" y="284" width="10.6" height="10.6" fill="#777777"/>
<rect x="1128" y="284" width="10.6" height="10.6" fill="#767676"/>
<rect x="1138" y="284" width="10.6" height="10.6" fill="#757575"/>
<rect x="1148" y="284" width="10.6" height="10.6" fill="#737373"/>
<rect x="1158" y="284" width="10.6" height="10.6" fill="#727272"/>
<rect x="1168" y="284" width="10.6" height="10.6" fill="#717171"/>
<rect x="1178" y="284" width="10.6" height="10.6" fill="#717171"/>
<rect x="758" y="294" width="10.6" height="10.6" fill="#787878"/>
<rect x="768" y="294" width="10.6" height="10.6" fill="#797979"/>
<rect x="778" y="294" width="10.6" height="10.6" fill="#7a7a7a"/>
<rect x="788" y="294" width="10.6" height="10.6" fill="#7b7b7b"/>
<rect x="798" y="294" width="10.6" height="10.6" fill="#7c7c7c"/>
<rect x="808" y="294" width="10.6" height="10.6" fill="#7d7d7d"/>
<rect x="818" y="294" width="10.6" height="10.6" fill="#7e7e7e"/>
<rect x="828" y="294" width="10.6" height="10.6" fill="#7e7e7e"/>
<rect x="838" y="294" width="10.6" height="10.6" fill="#7e7e7e"/>
<rect x="848" y="294" width="10.6" height="10.6" fill="#7e7e7e"/>
<rect x="858" y="294" width="10.6" height="10.6" fill="#7e7e7e"/>
<rect x="868" y="294" width="10.6" height="10.6" fill="#7e7e7e"/>
<rect x="878" y="294" width="10.6" height="10.6" fill="#7e7e7e"/>
<rect x="888" y="294" width="10.6" height="10.6" fill="#7e7e7e"/>
<rect x="898" y="294" width="10.6" height="10.6" fill="#7e7e7e"/>
<rect x="908" y="294" width="10.6" height="10.6" fill="#7e7e7e"/>
<rect x="918" y="294" width="10.6" height="10.6" fill="#7e7e7e"/>
<rect x="928" y="294" width="10.6" height="10.6" fill="#7e7e7e"/>
<rect x="938" y="294" width="10.6" height="10.6" fill="#7e7e7e"/>
<rect x="948" y="294" width="10.6" height="10.6" fill="#7e7e7e"/>
<rect x="958" y="294" width="10.6" height="10.6" fill="#7e7e7e"/>
<rect x="968" y="294" width="10.6" height="10.6" fill="#7e7e7e"/>
<rect x="978" y="294" width="10.6" height="10.6" fill="#7d7d7d"/>
<rect x="988" y="294" width="10.6" height="10.6" fill="#7d7d7d"/>
<rect x="998" y="294" width="10.6" height="10.6" fill="#7d7d7d"/>
<rect x="1008" y="294" width="10.6" height="10.6" fill="#7d7d7d"/>
<rect x="1018" y="294" width="10.6" height="10.6" fill="#7d7d7d"/>
<rect x="1028" y="294" width="10.6" height="10.6" fill="#7c7c7c"/>
<rect x="1038" y="294" width="10.6" height="10.6" fill="#7c7c7c"/>
<rect x="1048" y="294" width="10.6" height="10.6" fill="#7c7c7c"/>
<rect x="1058" y="294" width="10.6" height="10.6" fill="#7b7b7b"/>
<rect x="1068" y="294" width="10.6" height="10.6" fill="#7a7a7a"/>
<rect x="1078" y="294" width="10.6" height="10.6" fill="#797979"/>
<rect x="1088" y="294" width="10.6" height="10.6" fill="#787878"/>
<rect x="1098" y="294" width="10.6" height="10.6" fill="#777777"/>
<rect x="1108" y="294" width="10.6" height="10.6" fill="#777777"/>
<rect x="1118" y="294" width="10.6" height="10.6" fill="#767676"/>
<rect x="1128" y="294" width="10.6" height="10.6" fill="#757575"/>
<rect x="1138" y="294" width="10.6" height="10.6" fill="#747474"/>
<rect x="1148" y="294" width="10.6" height="10.6" fill="#747474"/>
<rect x="1158" y="294" width="10.6" height="10.6" fill="#737373"/>
<rect x="1168" y="294" width="10.6" height="10.6" fill="#727272"/>
<rect x="1178" y="294" width="10.6" height="10.6" fill="#727272"/>
<rect x="758" y="304" width="10.6" height="10.6" fill="#787878"/>
<rect x="768" y="304" width="10.6" height="10.6" fill="#787878"/>
<rect x="778" y="304" width="10.6" height="10.6" fill="#797979"/>
<rect x="788" y="304" width="10.6" height="10.6" fill="#7a7a7a"/>
<rect x="798" y="304" width="10.6" height="10.6" fill="#7b7b7b"/>
<rect x="808" y="304" width="10.6" height="10.6" fill="#7c7c7c"/>
<rect x="818" y="304" width="10.6" height="10.6" fill="#7c7c7c"/>
<rect x="828" y="304" width="10.6" height="10.6" fill="#7d7d7d"/>
<rect x="838" y="304" width="10.6" height="10.6" fill="#7d7d7d"/>
<rect x="848" y="304" width="10.6" height="10.6" fill="#7d7d7d"/>
<rect x="858" y="304" width="10.6" height="10.6" fill="#7d7d7d"/>
<rect x="868" y="304" width="10.6" height="10.6" fill="#7d7d7d"/>
<rect x="878" y="304" width="10.6" height="10.6" fill="#7d7d7d"/>
<rect x="888" y="304" width="10.6" height="10.6" fill="#7d7d7d"/>
<rect x="898" y="304" width="10.6" height="10.6" fill="#7d7d7d"/>
<rect x="908" y="304" width="10.6" height="10.6" fill="#7d7d7d"/>
<rect x="918" y="304" width="10.6" height="10.6" fill="#7d7d7d"/>
<rect x="928" y="304" width="10.6" height="10.6" fill="#7d7d7d"/>
<rect x="938" y="304" width="10.6" height="10.6" fill="#7d7d7d"/>
<rect x="948" y="304" width="10.6" height="10.6" fill="#7d7d7d"/>
<rect x="958" y="304" width="10.6" height="10.6" fill="#7d7d7d"/>
<rect x="968" y="304" width="10.6" height="10.6" fill="#7c7c7c"/>
<rect x="978" y="304" width="10.6" height="10.6" fill="#7c7c7c"/>
<rect x="988" y="304" width="10.6" height="10.6" fill="#7c7c7c"/>
<rect x="998" y="304" width="10.6" height="10.6" fill="#7c7c7c"/>
<rect x="1008" y="304" width="10.6" height="10.6" fill="#7c7c7c"/>
<rect x="1018" y="304" width="10.6" height="10.6" fill="#7b7b7b"/>
<rect x="1028" y="304" width="10.6" height="10.6" fill="#7b7b7b"/>
<rect x="1038" y="304" width="10.6" height="10.6" fill="#7b7b7b"/>
<rect x="1048" y="304" width="10.6" height="10.6" fill="#7b7b7b"/>
<rect x="1058" y="304" width="10.6" height="10.6" fill="#7a7a7a"/>
<rect x="1068" y="304" width="10.6" height="10.6" fill="#797979"/>
<rect x="1078" y="304" width="10.6" height="10.6" fill="#787878"/>
<rect x="1088" y="304" width="10.6" height="10.6" fill="#787878"/>
<rect x="1098" y="304" width="10.6" height="10.6" fill="#777777"/>
<rect x="1108" y="304" width="10.6" height="10.6" fill="#767676"/>
<rect x="1118" y="304" width="10.6" height="10.6" fill="#757575"/>
<rect x="1128" y="304" width="10.6" height="10.6" fill="#747474"/>
<rect x="1138" y="304" width="10.6" height="10.6" fill="#737373"/>
<rect x="1148" y="304" width="10.6" height="10.6" fill="#737373"/>
<rect x="1158" y="304" width="10.6" height="10.6" fill="#727272"/>
<rect x="1168" y="304" width="10.6" height="10.6" fill="#717171"/>
<rect x="1178" y="304" width="10.6" height="10.6" fill="#717171"/>
<rect x="758" y="314" width="10.6" height="10.6" fill="#787878"/>
<rect x="768" y="314" width="10.6" height="10.6" fill="#787878"/>
<rect x="778" y="314" width="10.6" height="10.6" fill="#797979"/>
<rect x="788" y="314" width="10.6" height="10.6" fill="#7a7a7a"/>
<rect x="798" y="314" width="10.6" height="10.6" fill="#7a7a7a"/>
<rect x="808" y="314" width="10.6" height="10.6" fill="#7b7b7b"/>
<rect x="818" y="314" width="10.6" height="10.6" fill="#7c7c7c"/>
<rect x="828" y="314" width="10.6" height="10.6" fill="#7c7c7c"/>
<rect x="838" y="314" width="10.6" height="10.6" fill="#7c7c7c"/>
<rect x="848" y="314" width="10.6" height="10.6" fill="#7c7c7c"/>
<rect x="858" y="314" width="10.6" height="10.6" fill="#7c7c7c"/>
<rect x="868" y="314" width="10.6" height="10.6" fill="#7c7c7c"/>
<rect x="878" y="314" width="10.6" height="10.6" fill="#7c7c7c"/>
<rect x="888" y="314" width="10.6" height="10.6" fill="#7c7c7c"/>
<rect x="898" y="314" width="10.6" height="10.6" fill="#7c7c7c"/>
<rect x="908" y="314" width="10.6" height="10.6" fill="#7c7c7c"/>
<rect x="918" y="314" width="10.6" height="10.6" fill="#7c7c7c"/>
<rect x="928" y="314" width="10.6" height="10.6" fill="#7c7c7c"/>
<rect x="938" y="314" width="10.6" height="10.6" fill="#7c7c7c"/>
<rect x="948" y="314" width="10.6" height="10.6" fill="#7c7c7c"/>
<rect x="958" y="314" width="10.6" height="10.6" fill="#7c7c7c"/>
<rect x="968" y="314" width="10.6" height="10.6" fill="#7c7c7c"/>
<rect x="978" y="314" width="10.6" height="10.6" fill="#7b7b7b"/>
<rect x="988" y="314" width="10.6" height="10.6" fill="#7b7b7b"/>
<rect x="998" y="314" width="10.6" height="10.6" fill="#7b7b7b"/>
<rect x="1008" y="314" width="10.6" height="10.6" fill="#7b7b7b"/>
<rect x="1018" y="314" width="10.6" height="10.6" fill="#7b7b7b"/>
<rect x="1028" y="314" width="10.6" height="10.6" fill="#7a7a7a"/>
<rect x="1038" y="314" width="10.6" height="10.6" fill="#7a7a7a"/>
<rect x="1048" y="314" width="10.6" height="10.6" fill="#7a7a7a"/>
<rect x="1058" y="314" width="10.6" height="10.6" fill="#797979"/>
<rect x="1068" y="314" width="10.6" height="10.6" fill="#797979"/>
<rect x="1078" y="314" width="10.6" height="10.6" fill="#787878"/>
<rect x="1088" y="314" width="10.6" height="10.6" fill="#787878"/>
<rect x="1098" y="314" width="10.6" height="10.6" fill="#767676"/>
<rect x="1108" y="314" width="10.6" height="10.6" fill="#757575"/>
<rect x="1118" y="314" width="10.6" height="10.6" fill="#747474"/>
<rect x="1128" y="314" width="10.6" height="10.6" fill="#737373"/>
<rect x="1138" y="314" width="10.6" height="10.6" fill="#727272"/>
<rect x="1148" y="314" width="10.6" height="10.6" fill="#727272"/>
<rect x="1158" y="314" width="10.6" height="10.6" fill="#717171"/>
<rect x="1168" y="314" width="10.6" height="10.6" fill="#707070"/>
<rect x="1178" y="314" width="10.6" height="10.6" fill="#707070"/>
<rect x="758" y="324" width="10.6" height="10.6" fill="#787878"/>
<rect x="768" y="324" width="10.6" height="10.6" fill="#787878"/>
<rect x="778" y="324" width="10.6" height="10.6" fill="#797979"/>
<rect x="788" y="324" width="10.6" height="10.6" fill="#7a7a7a"/>
<rect x="798" y="324" width="10.6" height="10.6" fill="#7a7a7a"/>
<rect x="808" y="324" width="10.6" height="10.6" fill="#7b7b7b"/>
<rect x="818" y="324" width="10.6" height="10.6" fill="#7c7c7c"/>
<rect x="828" y="324" width="10.6" height="10.6" fill="#7c7c7c"/>
<rect x="838" y="324" width="10.6" height="10.6" fill="#7c7c7c"/>
<rect x="848" y="324" width="10.6" height="10.6" fill="#7c7c7c"/>
<rect x="858" y="324" width="10.6" height="10.6" fill="#7c7c7c"/>
<rect x="868" y="324" width="10.6" height="10.6" fill="#7c7c7c"/>
<rect x="878" y="324" width="10.6" height="10.6" fill="#7c7c7c"/>
<rect x="888" y="324" width="10.6" height="10.6" fill="#7c7c7c"/>
<rect x="898" y="324" width="10.6" height="10.6" fill="#7c7c7c"/>
<rect x="908" y="324" width="10.6" height="10.6" fill="#7c7c7c"/>
<rect x="918" y="324" width="10.6" height="10.6" fill="#7c7c7c"/>
<rect x="928" y="324" width="10.6" height="10.6" fill="#7c7c7c"/>
<rect x="938" y="324" width="10.6" height="10.6" fill="#7c7c7c"/>
<rect x="948" y="324" width="10.6" height="10.6" fill="#7c7c7c"/>
<rect x="958" y="324" width="10.6" height="10.6" fill="#7c7c7c"/>
<rect x="968" y="324" width="10.6" height="10.6" fill="#7c7c7c"/>
<rect x="978" y="324" width="10.6" height="10.6" fill="#7b7b7b"/>
<rect x="988" y="324" width="10.6" height="10.6" fill="#7b7b7b"/>
<rect x="998" y="324" width="10.6" height="10.6" fill="#7b7b7b"/>
<rect x="1008" y="324" width="10.6" height="10.6" fill="#7b7b7b"/>
<rect x="1018" y="324" width="10.6" height="10.6" fill="#7b7b7b"/>
<rect x="1028" y="324" width="10.6" height="10.6" fill="#7a7a7a"/>
<rect x="1038" y="324" width="10.6" height="10.6" fill="#7a7a7a"/>
<rect x="1048" y="324" width="10.6" height="10.6" fill="#7a7a7a"/>
<rect x="1058" y="324" width="10.6" height="10.6" fill="#797979"/>
<rect x="1068" y="324" width="10.6" height="10.6" fill="#797979"/>
<rect x="1078" y="324" width="10.6" height="10.6" fill="#787878"/>
<rect x="1088" y="324" width="10.6" height="10.6" fill="#787878"/>
<rect x="1098" y="324" width="10.6" height="10.6" fill="#767676"/>
<rect x="1108" y="324" width="10.6" height="10.6" fill="#757575"/>
<rect x="1118" y="324" width="10.6" height="10.6" fill="#747474"/>
<rect x="1128" y="324" width="10.6" height="10.6" fill="#737373"/>
<rect x="1138" y="324" width="10.6" height="10.6" fill="#727272"/>
<rect x="1148" y="324" width="10.6" height="10.6" fill="#727272"/>
<rect x="1158" y="324" width="10.6" height="10.6" fill="#717171"/>
<rect x="1168" y="324" width="10.6" height="10.6" fill="#707070"/>
<rect x="1178" y="324" width="10.6" height="10.6" fill="#707070"/></g>
<!-- cage left strip & floor -->
<g filter="url(#soft)">
 <polygon points="768.5,150 790,156 792,230 800,262 840,282 880,286 915,272 935,263 950,262 968,283 985,303 993,316 768.5,316" fill="#b27442"/>
 <polygon points="905,262 935,262 950,262 968,283 985,303 993,316 905,316" fill="#b8683c"/>
 <g stroke="#c4b8ac" stroke-width="2" fill="none" opacity="0.9">
  <path d="M768.5,160 L790,156 M768.5,169 L790,165 M768.5,178 L790,174 M768.5,187 L790,183 M768.5,200 L791,196 M768.5,213 L791,209 M768.5,228 L792,224 M768.5,244 L794,240 M768.5,259 L798,254"/>
  <path d="M768.5,275 L812,266 M768.5,288 L836,276 M768.5,301 L864,287 M776,316 L888,295"/>
  <path d="M918,262 L916,316 M930,262 L929,316 M942,263 L942,316 M954,268 L955,316 M965,278 L967,316 M976,292 L979,316"/>
 </g>
 <g stroke="#4e2e1c" stroke-width="1.8" fill="none" opacity="0.85">
  <path d="M768.5,270 L806,262 M768.5,282 L826,271 M768.5,295 L850,281 M768.5,309 L876,291 M820,316 L895,302"/>
  <path d="M772,276 L790,316 M912,262 L910,316 M936,316 L958,280 M948,316 L970,292"/>
 </g>
 <path d="M946,261 C962,276 978,294 993,316 L985,316 C973,298 959,281 943,266 Z" fill="#d6ccc2"/>
 <path d="M880,268 C890,266 902,268 910,272 L908,292 C898,292 888,290 882,286 Z" fill="#b65a48" opacity="0.9"/>
</g>
<!-- glove + stick -->
<path d="M768.5,87 C785,84 797,98 796,114 C795,128 786,134 772,134 L768.5,134 Z" fill="#6cbfda" filter="url(#soft)"/>
<path d="M768.5,118 C780,122 790,120 795,112 C794,126 786,134 772,134 L768.5,134 Z" fill="#4aa2c2" opacity="0.5"/>
<polygon points="768.5,134 775,132 796,155 789,163 768.5,146" fill="#d2ad9b" filter="url(#soft)"/>
<!-- pipette -->
<g filter="url(#soft)">
 <polygon points="979,162.4 1000,152.6 1030,136 1060.5,119.4 1075.6,110.3 1099.7,95.2 1120.8,83.2 1136,72.6 1151,63.6 1173,54.5 1173,77.1 1151,87.7 1143.5,89.2 1136,96.8 1120.8,107.3 1090.7,116.4 1060.5,131.4 1030.3,149.5 1000.2,164.6 979,170.7" fill="#e2c4ad" opacity="0.95"/>
 <polygon points="985,163 1030,141 1075,116 1100,103 1102,107 1078,121 1032,146 988,168" fill="#f1e4d8" opacity="0.8"/>
 <polygon points="1103,92 1121,83 1138,74 1146,91 1136,97 1121,106 1108,104" fill="#ebe3e6"/>
 <polygon points="1076,110 1086,104 1092,117 1082,122" fill="#f2ebe4"/>
 <polygon points="1138,72 1173,54.5 1173,77.1 1148,89" fill="#66655c"/>
 <polygon points="1141,77 1173,61 1173,66 1143,82" fill="#c9c6bf"/>
 <polygon points="1160,60 1173,53 1173,57 1162,63" fill="#e6d8cc"/>
</g>
<!-- mouse b -->
<g filter="url(#soft)">
 <path d="M774.7,208.5 C773,203 773,200 773.6,197.3 C775,190 777,184 779.2,179.3 C782,172 786,166 790.4,161.4 C794,157 799,153 803.9,150.2 C810,147 817,145 824,143.5 C831,142 839,142 846.5,143.5 C854,145 862,148 870,152.4 C876,154 881,155 886,155 C890,153 894,150 900,148 C906,147 911,147 917,146.8 C923,146 930,146 936,146.1 C943,146 949,147 955,148 C961,149 966,150 970.3,151.8 C974,153 976,155 977.9,156.9 C979,159 979,162 978.5,164.5 C977,168 976,171 974,173.4 C972,176 970,178 967.7,181 C965,184 962,187 960.1,189.8 C957,194 955,197 952.5,201.3 C950,206 948,210 946,215 C943,221 940,227 938,234 C937,240 937,244 939,248 C944,252 949,257 951,261 C946,263 940,262 934,261 C926,264 918,267 910,270 C900,275 888,280 870,284.7 C862,285 854,284 846.5,282.5 C838,281 831,279 824,275.7 C816,272 808,266 801.6,260 C796,254 790,246 786,237.6 C781,230 777,220 774.7,208.5 Z" fill="url(#mb)"/>
 <path d="M792,162 C806,150 826,143 848,144 C862,146 872,150 884,155 C870,158 852,156 836,158 C818,160 804,166 796,172 Z" fill="#4f3b2c" opacity="0.6"/>
 <path d="M884,153 C890,146 898,140 906,139 C912,140 916,145 917,149 C908,150 896,154 888,157 Z" fill="#2a1d17"/>
 <path d="M883,130 C887,125 895,124 901,128 C906,132 908,140 905,147 C900,149 893,150 889,148 C884,143 881,136 883,130 Z" fill="#c4987c"/>
 <path d="M886,131 C890,128 896,128 899,131 C897,136 893,139 888,138 Z" fill="#d8a27a" opacity="0.8"/>
 <path d="M895,180 C899,173 908,171 916,173 C922,176 925,184 924,193 C923,201 918,207 910,207 C902,206 896,200 894,192 C893,187 893,183 895,180 Z" fill="#cfb597"/>
 <path d="M911,181 C916,181 921,185 922,191 C921,196 918,199 914,198 C911,194 910,187 911,181 Z" fill="#4a2b28"/>
 <circle cx="942.4" cy="164.5" r="3.6" fill="#0a0807"/>
 <circle cx="941.5" cy="162.8" r="1" fill="#9a9a9a"/>
 <path d="M964,155 C970,152 976,154 978,158 C979,163 977,168 972,169 C967,168 964,163 964,155 Z" fill="#8a5248"/>
 <path d="M934,246 C944,248 954,256 956,264 C948,266 938,262 932,256 Z" fill="#b08070"/>
</g>

</g>
<g clip-path="url(#cc)">
<g filter="url(#bgblur)"><rect x="1396" y="14" width="10.6" height="10.6" fill="#585858"/>
<rect x="1406" y="14" width="10.6" height="10.6" fill="#5c5c5c"/>
<rect x="1416" y="14" width="10.6" height="10.6" fill="#636363"/>
<rect x="1426" y="14" width="10.6" height="10.6" fill="#6a6a6a"/>
<rect x="1436" y="14" width="10.6" height="10.6" fill="#717171"/>
<rect x="1446" y="14" width="10.6" height="10.6" fill="#797979"/>
<rect x="1456" y="14" width="10.6" height="10.6" fill="#818181"/>
<rect x="1466" y="14" width="10.6" height="10.6" fill="#898989"/>
<rect x="1476" y="14" width="10.6" height="10.6" fill="#919191"/>
<rect x="1486" y="14" width="10.6" height="10.6" fill="#959595"/>
<rect x="1496" y="14" width="10.6" height="10.6" fill="#9a9a9a"/>
<rect x="1506" y="14" width="10.6" height="10.6" fill="#9f9f9f"/>
<rect x="1516" y="14" width="10.6" height="10.6" fill="#a4a4a4"/>
<rect x="1526" y="14" width="10.6" height="10.6" fill="#a8a8a8"/>
<rect x="1536" y="14" width="10.6" height="10.6" fill="#aaaaaa"/>
<rect x="1546" y="14" width="10.6" height="10.6" fill="#ababab"/>
<rect x="1556" y="14" width="10.6" height="10.6" fill="#acacac"/>
<rect x="1566" y="14" width="10.6" height="10.6" fill="#aeaeae"/>
<rect x="1576" y="14" width="10.6" height="10.6" fill="#afafaf"/>
<rect x="1586" y="14" width="10.6" height="10.6" fill="#b1b1b1"/>
<rect x="1596" y="14" width="10.6" height="10.6" fill="#b2b2b2"/>
<rect x="1606" y="14" width="10.6" height="10.6" fill="#b2b2b2"/>
<rect x="1616" y="14" width="10.6" height="10.6" fill="#b1b1b1"/>
<rect x="1626" y="14" width="10.6" height="10.6" fill="#b1b1b1"/>
<rect x="1636" y="14" width="10.6" height="10.6" fill="#b1b1b1"/>
<rect x="1646" y="14" width="10.6" height="10.6" fill="#b0b0b0"/>
<rect x="1656" y="14" width="10.6" height="10.6" fill="#b0b0b0"/>
<rect x="1666" y="14" width="10.6" height="10.6" fill="#adadad"/>
<rect x="1676" y="14" width="10.6" height="10.6" fill="#aaaaaa"/>
<rect x="1686" y="14" width="10.6" height="10.6" fill="#a7a7a7"/>
<rect x="1696" y="14" width="10.6" height="10.6" fill="#a3a3a3"/>
<rect x="1706" y="14" width="10.6" height="10.6" fill="#9e9e9e"/>
<rect x="1716" y="14" width="10.6" height="10.6" fill="#999999"/>
<rect x="1726" y="14" width="10.6" height="10.6" fill="#949494"/>
<rect x="1736" y="14" width="10.6" height="10.6" fill="#8f8f8f"/>
<rect x="1746" y="14" width="10.6" height="10.6" fill="#898989"/>
<rect x="1756" y="14" width="10.6" height="10.6" fill="#838383"/>
<rect x="1766" y="14" width="10.6" height="10.6" fill="#7d7d7d"/>
<rect x="1776" y="14" width="10.6" height="10.6" fill="#787878"/>
<rect x="1786" y="14" width="10.6" height="10.6" fill="#747474"/>
<rect x="1796" y="14" width="10.6" height="10.6" fill="#707070"/>
<rect x="1806" y="14" width="10.6" height="10.6" fill="#6c6c6c"/>
<rect x="1816" y="14" width="10.6" height="10.6" fill="#6c6c6c"/>
<rect x="1396" y="24" width="10.6" height="10.6" fill="#585858"/>
<rect x="1406" y="24" width="10.6" height="10.6" fill="#5b5b5b"/>
<rect x="1416" y="24" width="10.6" height="10.6" fill="#626262"/>
<rect x="1426" y="24" width="10.6" height="10.6" fill="#696969"/>
<rect x="1436" y="24" width="10.6" height="10.6" fill="#707070"/>
<rect x="1446" y="24" width="10.6" height="10.6" fill="#787878"/>
<rect x="1456" y="24" width="10.6" height="10.6" fill="#7f7f7f"/>
<rect x="1466" y="24" width="10.6" height="10.6" fill="#878787"/>
<rect x="1476" y="24" width="10.6" height="10.6" fill="#8e8e8e"/>
<rect x="1486" y="24" width="10.6" height="10.6" fill="#939393"/>
<rect x="1496" y="24" width="10.6" height="10.6" fill="#989898"/>
<rect x="1506" y="24" width="10.6" height="10.6" fill="#9d9d9d"/>
<rect x="1516" y="24" width="10.6" height="10.6" fill="#a2a2a2"/>
<rect x="1526" y="24" width="10.6" height="10.6" fill="#a6a6a6"/>
<rect x="1536" y="24" width="10.6" height="10.6" fill="#a7a7a7"/>
<rect x="1546" y="24" width="10.6" height="10.6" fill="#a9a9a9"/>
<rect x="1556" y="24" width="10.6" height="10.6" fill="#aaaaaa"/>
<rect x="1566" y="24" width="10.6" height="10.6" fill="#ababab"/>
<rect x="1576" y="24" width="10.6" height="10.6" fill="#adadad"/>
<rect x="1586" y="24" width="10.6" height="10.6" fill="#aeaeae"/>
<rect x="1596" y="24" width="10.6" height="10.6" fill="#afafaf"/>
<rect x="1606" y="24" width="10.6" height="10.6" fill="#afafaf"/>
<rect x="1616" y="24" width="10.6" height="10.6" fill="#aeaeae"/>
<rect x="1626" y="24" width="10.6" height="10.6" fill="#aeaeae"/>
<rect x="1636" y="24" width="10.6" height="10.6" fill="#aeaeae"/>
<rect x="1646" y="24" width="10.6" height="10.6" fill="#adadad"/>
<rect x="1656" y="24" width="10.6" height="10.6" fill="#adadad"/>
<rect x="1666" y="24" width="10.6" height="10.6" fill="#aaaaaa"/>
<rect x="1676" y="24" width="10.6" height="10.6" fill="#a7a7a7"/>
<rect x="1686" y="24" width="10.6" height="10.6" fill="#a4a4a4"/>
<rect x="1696" y="24" width="10.6" height="10.6" fill="#a1a1a1"/>
<rect x="1706" y="24" width="10.6" height="10.6" fill="#9c9c9c"/>
<rect x="1716" y="24" width="10.6" height="10.6" fill="#979797"/>
<rect x="1726" y="24" width="10.6" height="10.6" fill="#929292"/>
<rect x="1736" y="24" width="10.6" height="10.6" fill="#8d8d8d"/>
<rect x="1746" y="24" width="10.6" height="10.6" fill="#878787"/>
<rect x="1756" y="24" width="10.6" height="10.6" fill="#828282"/>
<rect x="1766" y="24" width="10.6" height="10.6" fill="#7c7c7c"/>
<rect x="1776" y="24" width="10.6" height="10.6" fill="#767676"/>
<rect x="1786" y="24" width="10.6" height="10.6" fill="#737373"/>
<rect x="1796" y="24" width="10.6" height="10.6" fill="#6f6f6f"/>
<rect x="1806" y="24" width="10.6" height="10.6" fill="#6b6b6b"/>
<rect x="1816" y="24" width="10.6" height="10.6" fill="#6b6b6b"/>
<rect x="1396" y="34" width="10.6" height="10.6" fill="#585858"/>
<rect x="1406" y="34" width="10.6" height="10.6" fill="#5b5b5b"/>
<rect x="1416" y="34" width="10.6" height="10.6" fill="#616161"/>
<rect x="1426" y="34" width="10.6" height="10.6" fill="#676767"/>
<rect x="1436" y="34" width="10.6" height="10.6" fill="#6d6d6d"/>
<rect x="1446" y="34" width="10.6" height="10.6" fill="#747474"/>
<rect x="1456" y="34" width="10.6" height="10.6" fill="#7b7b7b"/>
<rect x="1466" y="34" width="10.6" height="10.6" fill="#838383"/>
<rect x="1476" y="34" width="10.6" height="10.6" fill="#898989"/>
<rect x="1486" y="34" width="10.6" height="10.6" fill="#8e8e8e"/>
<rect x="1496" y="34" width="10.6" height="10.6" fill="#939393"/>
<rect x="1506" y="34" width="10.6" height="10.6" fill="#989898"/>
<rect x="1516" y="34" width="10.6" height="10.6" fill="#9d9d9d"/>
<rect x="1526" y="34" width="10.6" height="10.6" fill="#a1a1a1"/>
<rect x="1536" y="34" width="10.6" height="10.6" fill="#a2a2a2"/>
<rect x="1546" y="34" width="10.6" height="10.6" fill="#a3a3a3"/>
<rect x="1556" y="34" width="10.6" height="10.6" fill="#a4a4a4"/>
<rect x="1566" y="34" width="10.6" height="10.6" fill="#a6a6a6"/>
<rect x="1576" y="34" width="10.6" height="10.6" fill="#a7a7a7"/>
<rect x="1586" y="34" width="10.6" height="10.6" fill="#a8a8a8"/>
<rect x="1596" y="34" width="10.6" height="10.6" fill="#a9a9a9"/>
<rect x="1606" y="34" width="10.6" height="10.6" fill="#a9a9a9"/>
<rect x="1616" y="34" width="10.6" height="10.6" fill="#a8a8a8"/>
<rect x="1626" y="34" width="10.6" height="10.6" fill="#a8a8a8"/>
<rect x="1636" y="34" width="10.6" height="10.6" fill="#a8a8a8"/>
<rect x="1646" y="34" width="10.6" height="10.6" fill="#a7a7a7"/>
<rect x="1656" y="34" width="10.6" height="10.6" fill="#a7a7a7"/>
<rect x="1666" y="34" width="10.6" height="10.6" fill="#a4a4a4"/>
<rect x="1676" y="34" width="10.6" height="10.6" fill="#a2a2a2"/>
<rect x="1686" y="34" width="10.6" height="10.6" fill="#9f9f9f"/>
<rect x="1696" y="34" width="10.6" height="10.6" fill="#9c9c9c"/>
<rect x="1706" y="34" width="10.6" height="10.6" fill="#979797"/>
<rect x="1716" y="34" width="10.6" height="10.6" fill="#929292"/>
<rect x="1726" y="34" width="10.6" height="10.6" fill="#8d8d8d"/>
<rect x="1736" y="34" width="10.6" height="10.6" fill="#888888"/>
<rect x="1746" y="34" width="10.6" height="10.6" fill="#838383"/>
<rect x="1756" y="34" width="10.6" height="10.6" fill="#7e7e7e"/>
<rect x="1766" y="34" width="10.6" height="10.6" fill="#797979"/>
<rect x="1776" y="34" width="10.6" height="10.6" fill="#747474"/>
<rect x="1786" y="34" width="10.6" height="10.6" fill="#717171"/>
<rect x="1796" y="34" width="10.6" height="10.6" fill="#6d6d6d"/>
<rect x="1806" y="34" width="10.6" height="10.6" fill="#6a6a6a"/>
<rect x="1816" y="34" width="10.6" height="10.6" fill="#6a6a6a"/>
<rect x="1396" y="44" width="10.6" height="10.6" fill="#585858"/>
<rect x="1406" y="44" width="10.6" height="10.6" fill="#5b5b5b"/>
<rect x="1416" y="44" width="10.6" height="10.6" fill="#606060"/>
<rect x="1426" y="44" width="10.6" height="10.6" fill="#666666"/>
<rect x="1436" y="44" width="10.6" height="10.6" fill="#6b6b6b"/>
<rect x="1446" y="44" width="10.6" height="10.6" fill="#727272"/>
<rect x="1456" y="44" width="10.6" height="10.6" fill="#787878"/>
<rect x="1466" y="44" width="10.6" height="10.6" fill="#7f7f7f"/>
<rect x="1476" y="44" width="10.6" height="10.6" fill="#858585"/>
<rect x="1486" y="44" width="10.6" height="10.6" fill="#898989"/>
<rect x="1496" y="44" width="10.6" height="10.6" fill="#8e8e8e"/>
<rect x="1506" y="44" width="10.6" height="10.6" fill="#929292"/>
<rect x="1516" y="44" width="10.6" height="10.6" fill="#979797"/>
<rect x="1526" y="44" width="10.6" height="10.6" fill="#9a9a9a"/>
<rect x="1536" y="44" width="10.6" height="10.6" fill="#9c9c9c"/>
<rect x="1546" y="44" width="10.6" height="10.6" fill="#9d9d9d"/>
<rect x="1556" y="44" width="10.6" height="10.6" fill="#9e9e9e"/>
<rect x="1566" y="44" width="10.6" height="10.6" fill="#9f9f9f"/>
<rect x="1576" y="44" width="10.6" height="10.6" fill="#a0a0a0"/>
<rect x="1586" y="44" width="10.6" height="10.6" fill="#a1a1a1"/>
<rect x="1596" y="44" width="10.6" height="10.6" fill="#a2a2a2"/>
<rect x="1606" y="44" width="10.6" height="10.6" fill="#a2a2a2"/>
<rect x="1616" y="44" width="10.6" height="10.6" fill="#a2a2a2"/>
<rect x="1626" y="44" width="10.6" height="10.6" fill="#a2a2a2"/>
<rect x="1636" y="44" width="10.6" height="10.6" fill="#a1a1a1"/>
<rect x="1646" y="44" width="10.6" height="10.6" fill="#a1a1a1"/>
<rect x="1656" y="44" width="10.6" height="10.6" fill="#a1a1a1"/>
<rect x="1666" y="44" width="10.6" height="10.6" fill="#9e9e9e"/>
<rect x="1676" y="44" width="10.6" height="10.6" fill="#9c9c9c"/>
<rect x="1686" y="44" width="10.6" height="10.6" fill="#9a9a9a"/>
<rect x="1696" y="44" width="10.6" height="10.6" fill="#979797"/>
<rect x="1706" y="44" width="10.6" height="10.6" fill="#939393"/>
<rect x="1716" y="44" width="10.6" height="10.6" fill="#8e8e8e"/>
<rect x="1726" y="44" width="10.6" height="10.6" fill="#8a8a8a"/>
<rect x="1736" y="44" width="10.6" height="10.6" fill="#858585"/>
<rect x="1746" y="44" width="10.6" height="10.6" fill="#808080"/>
<rect x="1756" y="44" width="10.6" height="10.6" fill="#7c7c7c"/>
<rect x="1766" y="44" width="10.6" height="10.6" fill="#777777"/>
<rect x="1776" y="44" width="10.6" height="10.6" fill="#727272"/>
<rect x="1786" y="44" width="10.6" height="10.6" fill="#6f6f6f"/>
<rect x="1796" y="44" width="10.6" height="10.6" fill="#6c6c6c"/>
<rect x="1806" y="44" width="10.6" height="10.6" fill="#696969"/>
<rect x="1816" y="44" width="10.6" height="10.6" fill="#696969"/>
<rect x="1396" y="54" width="10.6" height="10.6" fill="#585858"/>
<rect x="1406" y="54" width="10.6" height="10.6" fill="#5a5a5a"/>
<rect x="1416" y="54" width="10.6" height="10.6" fill="#5f5f5f"/>
<rect x="1426" y="54" width="10.6" height="10.6" fill="#646464"/>
<rect x="1436" y="54" width="10.6" height="10.6" fill="#696969"/>
<rect x="1446" y="54" width="10.6" height="10.6" fill="#6f6f6f"/>
<rect x="1456" y="54" width="10.6" height="10.6" fill="#757575"/>
<rect x="1466" y="54" width="10.6" height="10.6" fill="#7b7b7b"/>
<rect x="1476" y="54" width="10.6" height="10.6" fill="#818181"/>
<rect x="1486" y="54" width="10.6" height="10.6" fill="#858585"/>
<rect x="1496" y="54" width="10.6" height="10.6" fill="#898989"/>
<rect x="1506" y="54" width="10.6" height="10.6" fill="#8c8c8c"/>
<rect x="1516" y="54" width="10.6" height="10.6" fill="#909090"/>
<rect x="1526" y="54" width="10.6" height="10.6" fill="#949494"/>
<rect x="1536" y="54" width="10.6" height="10.6" fill="#959595"/>
<rect x="1546" y="54" width="10.6" height="10.6" fill="#969696"/>
<rect x="1556" y="54" width="10.6" height="10.6" fill="#979797"/>
<rect x="1566" y="54" width="10.6" height="10.6" fill="#989898"/>
<rect x="1576" y="54" width="10.6" height="10.6" fill="#9a9a9a"/>
<rect x="1586" y="54" width="10.6" height="10.6" fill="#9b9b9b"/>
<rect x="1596" y="54" width="10.6" height="10.6" fill="#9c9c9c"/>
<rect x="1606" y="54" width="10.6" height="10.6" fill="#9c9c9c"/>
<rect x="1616" y="54" width="10.6" height="10.6" fill="#9b9b9b"/>
<rect x="1626" y="54" width="10.6" height="10.6" fill="#9b9b9b"/>
<rect x="1636" y="54" width="10.6" height="10.6" fill="#9b9b9b"/>
<rect x="1646" y="54" width="10.6" height="10.6" fill="#9b9b9b"/>
<rect x="1656" y="54" width="10.6" height="10.6" fill="#9b9b9b"/>
<rect x="1666" y="54" width="10.6" height="10.6" fill="#989898"/>
<rect x="1676" y="54" width="10.6" height="10.6" fill="#969696"/>
<rect x="1686" y="54" width="10.6" height="10.6" fill="#949494"/>
<rect x="1696" y="54" width="10.6" height="10.6" fill="#929292"/>
<rect x="1706" y="54" width="10.6" height="10.6" fill="#8e8e8e"/>
<rect x="1716" y="54" width="10.6" height="10.6" fill="#8a8a8a"/>
<rect x="1726" y="54" width="10.6" height="10.6" fill="#868686"/>
<rect x="1736" y="54" width="10.6" height="10.6" fill="#838383"/>
<rect x="1746" y="54" width="10.6" height="10.6" fill="#7e7e7e"/>
<rect x="1756" y="54" width="10.6" height="10.6" fill="#7a7a7a"/>
<rect x="1766" y="54" width="10.6" height="10.6" fill="#757575"/>
<rect x="1776" y="54" width="10.6" height="10.6" fill="#717171"/>
<rect x="1786" y="54" width="10.6" height="10.6" fill="#6e6e6e"/>
<rect x="1796" y="54" width="10.6" height="10.6" fill="#6b6b6b"/>
<rect x="1806" y="54" width="10.6" height="10.6" fill="#686868"/>
<rect x="1816" y="54" width="10.6" height="10.6" fill="#686868"/>
<rect x="1396" y="64" width="10.6" height="10.6" fill="#585858"/>
<rect x="1406" y="64" width="10.6" height="10.6" fill="#5a5a5a"/>
<rect x="1416" y="64" width="10.6" height="10.6" fill="#5e5e5e"/>
<rect x="1426" y="64" width="10.6" height="10.6" fill="#636363"/>
<rect x="1436" y="64" width="10.6" height="10.6" fill="#676767"/>
<rect x="1446" y="64" width="10.6" height="10.6" fill="#6d6d6d"/>
<rect x="1456" y="64" width="10.6" height="10.6" fill="#727272"/>
<rect x="1466" y="64" width="10.6" height="10.6" fill="#787878"/>
<rect x="1476" y="64" width="10.6" height="10.6" fill="#7d7d7d"/>
<rect x="1486" y="64" width="10.6" height="10.6" fill="#808080"/>
<rect x="1496" y="64" width="10.6" height="10.6" fill="#848484"/>
<rect x="1506" y="64" width="10.6" height="10.6" fill="#878787"/>
<rect x="1516" y="64" width="10.6" height="10.6" fill="#8a8a8a"/>
<rect x="1526" y="64" width="10.6" height="10.6" fill="#8d8d8d"/>
<rect x="1536" y="64" width="10.6" height="10.6" fill="#8e8e8e"/>
<rect x="1546" y="64" width="10.6" height="10.6" fill="#8f8f8f"/>
<rect x="1556" y="64" width="10.6" height="10.6" fill="#919191"/>
<rect x="1566" y="64" width="10.6" height="10.6" fill="#929292"/>
<rect x="1576" y="64" width="10.6" height="10.6" fill="#939393"/>
<rect x="1586" y="64" width="10.6" height="10.6" fill="#949494"/>
<rect x="1596" y="64" width="10.6" height="10.6" fill="#959595"/>
<rect x="1606" y="64" width="10.6" height="10.6" fill="#959595"/>
<rect x="1616" y="64" width="10.6" height="10.6" fill="#959595"/>
<rect x="1626" y="64" width="10.6" height="10.6" fill="#959595"/>
<rect x="1636" y="64" width="10.6" height="10.6" fill="#959595"/>
<rect x="1646" y="64" width="10.6" height="10.6" fill="#959595"/>
<rect x="1656" y="64" width="10.6" height="10.6" fill="#959595"/>
<rect x="1666" y="64" width="10.6" height="10.6" fill="#939393"/>
<rect x="1676" y="64" width="10.6" height="10.6" fill="#919191"/>
<rect x="1686" y="64" width="10.6" height="10.6" fill="#8f8f8f"/>
<rect x="1696" y="64" width="10.6" height="10.6" fill="#8c8c8c"/>
<rect x="1706" y="64" width="10.6" height="10.6" fill="#898989"/>
<rect x="1716" y="64" width="10.6" height="10.6" fill="#868686"/>
<rect x="1726" y="64" width="10.6" height="10.6" fill="#838383"/>
<rect x="1736" y="64" width="10.6" height="10.6" fill="#808080"/>
<rect x="1746" y="64" width="10.6" height="10.6" fill="#7c7c7c"/>
<rect x="1756" y="64" width="10.6" height="10.6" fill="#787878"/>
<rect x="1766" y="64" width="10.6" height="10.6" fill="#747474"/>
<rect x="1776" y="64" width="10.6" height="10.6" fill="#707070"/>
<rect x="1786" y="64" width="10.6" height="10.6" fill="#6d6d6d"/>
<rect x="1796" y="64" width="10.6" height="10.6" fill="#696969"/>
<rect x="1806" y="64" width="10.6" height="10.6" fill="#666666"/>
<rect x="1816" y="64" width="10.6" height="10.6" fill="#666666"/>
<rect x="1396" y="74" width="10.6" height="10.6" fill="#585858"/>
<rect x="1406" y="74" width="10.6" height="10.6" fill="#5a5a5a"/>
<rect x="1416" y="74" width="10.6" height="10.6" fill="#5e5e5e"/>
<rect x="1426" y="74" width="10.6" height="10.6" fill="#626262"/>
<rect x="1436" y="74" width="10.6" height="10.6" fill="#666666"/>
<rect x="1446" y="74" width="10.6" height="10.6" fill="#6b6b6b"/>
<rect x="1456" y="74" width="10.6" height="10.6" fill="#707070"/>
<rect x="1466" y="74" width="10.6" height="10.6" fill="#757575"/>
<rect x="1476" y="74" width="10.6" height="10.6" fill="#797979"/>
<rect x="1486" y="74" width="10.6" height="10.6" fill="#7c7c7c"/>
<rect x="1496" y="74" width="10.6" height="10.6" fill="#7f7f7f"/>
<rect x="1506" y="74" width="10.6" height="10.6" fill="#828282"/>
<rect x="1516" y="74" width="10.6" height="10.6" fill="#858585"/>
<rect x="1526" y="74" width="10.6" height="10.6" fill="#888888"/>
<rect x="1536" y="74" width="10.6" height="10.6" fill="#898989"/>
<rect x="1546" y="74" width="10.6" height="10.6" fill="#8a8a8a"/>
<rect x="1556" y="74" width="10.6" height="10.6" fill="#8b8b8b"/>
<rect x="1566" y="74" width="10.6" height="10.6" fill="#8c8c8c"/>
<rect x="1576" y="74" width="10.6" height="10.6" fill="#8d8d8d"/>
<rect x="1586" y="74" width="10.6" height="10.6" fill="#8e8e8e"/>
<rect x="1596" y="74" width="10.6" height="10.6" fill="#8f8f8f"/>
<rect x="1606" y="74" width="10.6" height="10.6" fill="#8f8f8f"/>
<rect x="1616" y="74" width="10.6" height="10.6" fill="#8f8f8f"/>
<rect x="1626" y="74" width="10.6" height="10.6" fill="#8f8f8f"/>
<rect x="1636" y="74" width="10.6" height="10.6" fill="#8f8f8f"/>
<rect x="1646" y="74" width="10.6" height="10.6" fill="#8f8f8f"/>
<rect x="1656" y="74" width="10.6" height="10.6" fill="#8f8f8f"/>
<rect x="1666" y="74" width="10.6" height="10.6" fill="#8d8d8d"/>
<rect x="1676" y="74" width="10.6" height="10.6" fill="#8c8c8c"/>
<rect x="1686" y="74" width="10.6" height="10.6" fill="#8a8a8a"/>
<rect x="1696" y="74" width="10.6" height="10.6" fill="#888888"/>
<rect x="1706" y="74" width="10.6" height="10.6" fill="#858585"/>
<rect x="1716" y="74" width="10.6" height="10.6" fill="#828282"/>
<rect x="1726" y="74" width="10.6" height="10.6" fill="#808080"/>
<rect x="1736" y="74" width="10.6" height="10.6" fill="#7d7d7d"/>
<rect x="1746" y="74" width="10.6" height="10.6" fill="#797979"/>
<rect x="1756" y="74" width="10.6" height="10.6" fill="#767676"/>
<rect x="1766" y="74" width="10.6" height="10.6" fill="#727272"/>
<rect x="1776" y="74" width="10.6" height="10.6" fill="#6e6e6e"/>
<rect x="1786" y="74" width="10.6" height="10.6" fill="#6b6b6b"/>
<rect x="1796" y="74" width="10.6" height="10.6" fill="#686868"/>
<rect x="1806" y="74" width="10.6" height="10.6" fill="#666666"/>
<rect x="1816" y="74" width="10.6" height="10.6" fill="#666666"/>
<rect x="1396" y="84" width="10.6" height="10.6" fill="#595959"/>
<rect x="1406" y="84" width="10.6" height="10.6" fill="#5b5b5b"/>
<rect x="1416" y="84" width="10.6" height="10.6" fill="#5e5e5e"/>
<rect x="1426" y="84" width="10.6" height="10.6" fill="#616161"/>
<rect x="1436" y="84" width="10.6" height="10.6" fill="#656565"/>
<rect x="1446" y="84" width="10.6" height="10.6" fill="#696969"/>
<rect x="1456" y="84" width="10.6" height="10.6" fill="#6d6d6d"/>
<rect x="1466" y="84" width="10.6" height="10.6" fill="#727272"/>
<rect x="1476" y="84" width="10.6" height="10.6" fill="#767676"/>
<rect x="1486" y="84" width="10.6" height="10.6" fill="#787878"/>
<rect x="1496" y="84" width="10.6" height="10.6" fill="#7b7b7b"/>
<rect x="1506" y="84" width="10.6" height="10.6" fill="#7e7e7e"/>
<rect x="1516" y="84" width="10.6" height="10.6" fill="#808080"/>
<rect x="1526" y="84" width="10.6" height="10.6" fill="#838383"/>
<rect x="1536" y="84" width="10.6" height="10.6" fill="#848484"/>
<rect x="1546" y="84" width="10.6" height="10.6" fill="#858585"/>
<rect x="1556" y="84" width="10.6" height="10.6" fill="#868686"/>
<rect x="1566" y="84" width="10.6" height="10.6" fill="#878787"/>
<rect x="1576" y="84" width="10.6" height="10.6" fill="#888888"/>
<rect x="1586" y="84" width="10.6" height="10.6" fill="#898989"/>
<rect x="1596" y="84" width="10.6" height="10.6" fill="#8a8a8a"/>
<rect x="1606" y="84" width="10.6" height="10.6" fill="#8a8a8a"/>
<rect x="1616" y="84" width="10.6" height="10.6" fill="#8a8a8a"/>
<rect x="1626" y="84" width="10.6" height="10.6" fill="#8a8a8a"/>
<rect x="1636" y="84" width="10.6" height="10.6" fill="#8a8a8a"/>
<rect x="1646" y="84" width="10.6" height="10.6" fill="#8a8a8a"/>
<rect x="1656" y="84" width="10.6" height="10.6" fill="#8a8a8a"/>
<rect x="1666" y="84" width="10.6" height="10.6" fill="#888888"/>
<rect x="1676" y="84" width="10.6" height="10.6" fill="#878787"/>
<rect x="1686" y="84" width="10.6" height="10.6" fill="#858585"/>
<rect x="1696" y="84" width="10.6" height="10.6" fill="#838383"/>
<rect x="1706" y="84" width="10.6" height="10.6" fill="#818181"/>
<rect x="1716" y="84" width="10.6" height="10.6" fill="#7f7f7f"/>
<rect x="1726" y="84" width="10.6" height="10.6" fill="#7c7c7c"/>
<rect x="1736" y="84" width="10.6" height="10.6" fill="#7a7a7a"/>
<rect x="1746" y="84" width="10.6" height="10.6" fill="#777777"/>
<rect x="1756" y="84" width="10.6" height="10.6" fill="#737373"/>
<rect x="1766" y="84" width="10.6" height="10.6" fill="#707070"/>
<rect x="1776" y="84" width="10.6" height="10.6" fill="#6d6d6d"/>
<rect x="1786" y="84" width="10.6" height="10.6" fill="#6a6a6a"/>
<rect x="1796" y="84" width="10.6" height="10.6" fill="#686868"/>
<rect x="1806" y="84" width="10.6" height="10.6" fill="#656565"/>
<rect x="1816" y="84" width="10.6" height="10.6" fill="#656565"/>
<rect x="1396" y="94" width="10.6" height="10.6" fill="#595959"/>
<rect x="1406" y="94" width="10.6" height="10.6" fill="#5b5b5b"/>
<rect x="1416" y="94" width="10.6" height="10.6" fill="#5e5e5e"/>
<rect x="1426" y="94" width="10.6" height="10.6" fill="#616161"/>
<rect x="1436" y="94" width="10.6" height="10.6" fill="#646464"/>
<rect x="1446" y="94" width="10.6" height="10.6" fill="#676767"/>
<rect x="1456" y="94" width="10.6" height="10.6" fill="#6b6b6b"/>
<rect x="1466" y="94" width="10.6" height="10.6" fill="#6f6f6f"/>
<rect x="1476" y="94" width="10.6" height="10.6" fill="#727272"/>
<rect x="1486" y="94" width="10.6" height="10.6" fill="#757575"/>
<rect x="1496" y="94" width="10.6" height="10.6" fill="#777777"/>
<rect x="1506" y="94" width="10.6" height="10.6" fill="#797979"/>
<rect x="1516" y="94" width="10.6" height="10.6" fill="#7c7c7c"/>
<rect x="1526" y="94" width="10.6" height="10.6" fill="#7e7e7e"/>
<rect x="1536" y="94" width="10.6" height="10.6" fill="#7f7f7f"/>
<rect x="1546" y="94" width="10.6" height="10.6" fill="#808080"/>
<rect x="1556" y="94" width="10.6" height="10.6" fill="#818181"/>
<rect x="1566" y="94" width="10.6" height="10.6" fill="#828282"/>
<rect x="1576" y="94" width="10.6" height="10.6" fill="#838383"/>
<rect x="1586" y="94" width="10.6" height="10.6" fill="#838383"/>
<rect x="1596" y="94" width="10.6" height="10.6" fill="#848484"/>
<rect x="1606" y="94" width="10.6" height="10.6" fill="#848484"/>
<rect x="1616" y="94" width="10.6" height="10.6" fill="#848484"/>
<rect x="1626" y="94" width="10.6" height="10.6" fill="#848484"/>
<rect x="1636" y="94" width="10.6" height="10.6" fill="#848484"/>
<rect x="1646" y="94" width="10.6" height="10.6" fill="#848484"/>
<rect x="1656" y="94" width="10.6" height="10.6" fill="#848484"/>
<rect x="1666" y="94" width="10.6" height="10.6" fill="#838383"/>
<rect x="1676" y="94" width="10.6" height="10.6" fill="#828282"/>
<rect x="1686" y="94" width="10.6" height="10.6" fill="#808080"/>
<rect x="1696" y="94" width="10.6" height="10.6" fill="#7f7f7f"/>
<rect x="1706" y="94" width="10.6" height="10.6" fill="#7d7d7d"/>
<rect x="1716" y="94" width="10.6" height="10.6" fill="#7b7b7b"/>
<rect x="1726" y="94" width="10.6" height="10.6" fill="#797979"/>
<rect x="1736" y="94" width="10.6" height="10.6" fill="#777777"/>
<rect x="1746" y="94" width="10.6" height="10.6" fill="#747474"/>
<rect x="1756" y="94" width="10.6" height="10.6" fill="#717171"/>
<rect x="1766" y="94" width="10.6" height="10.6" fill="#6e6e6e"/>
<rect x="1776" y="94" width="10.6" height="10.6" fill="#6b6b6b"/>
<rect x="1786" y="94" width="10.6" height="10.6" fill="#696969"/>
<rect x="1796" y="94" width="10.6" height="10.6" fill="#676767"/>
<rect x="1806" y="94" width="10.6" height="10.6" fill="#656565"/>
<rect x="1816" y="94" width="10.6" height="10.6" fill="#656565"/>
<rect x="1396" y="104" width="10.6" height="10.6" fill="#5a5a5a"/>
<rect x="1406" y="104" width="10.6" height="10.6" fill="#5b5b5b"/>
<rect x="1416" y="104" width="10.6" height="10.6" fill="#5e5e5e"/>
<rect x="1426" y="104" width="10.6" height="10.6" fill="#606060"/>
<rect x="1436" y="104" width="10.6" height="10.6" fill="#636363"/>
<rect x="1446" y="104" width="10.6" height="10.6" fill="#666666"/>
<rect x="1456" y="104" width="10.6" height="10.6" fill="#696969"/>
<rect x="1466" y="104" width="10.6" height="10.6" fill="#6c6c6c"/>
<rect x="1476" y="104" width="10.6" height="10.6" fill="#6f6f6f"/>
<rect x="1486" y="104" width="10.6" height="10.6" fill="#717171"/>
<rect x="1496" y="104" width="10.6" height="10.6" fill="#737373"/>
<rect x="1506" y="104" width="10.6" height="10.6" fill="#757575"/>
<rect x="1516" y="104" width="10.6" height="10.6" fill="#777777"/>
<rect x="1526" y="104" width="10.6" height="10.6" fill="#797979"/>
<rect x="1536" y="104" width="10.6" height="10.6" fill="#7a7a7a"/>
<rect x="1546" y="104" width="10.6" height="10.6" fill="#7b7b7b"/>
<rect x="1556" y="104" width="10.6" height="10.6" fill="#7b7b7b"/>
<rect x="1566" y="104" width="10.6" height="10.6" fill="#7c7c7c"/>
<rect x="1576" y="104" width="10.6" height="10.6" fill="#7d7d7d"/>
<rect x="1586" y="104" width="10.6" height="10.6" fill="#7e7e7e"/>
<rect x="1596" y="104" width="10.6" height="10.6" fill="#7f7f7f"/>
<rect x="1606" y="104" width="10.6" height="10.6" fill="#7f7f7f"/>
<rect x="1616" y="104" width="10.6" height="10.6" fill="#7f7f7f"/>
<rect x="1626" y="104" width="10.6" height="10.6" fill="#7f7f7f"/>
<rect x="1636" y="104" width="10.6" height="10.6" fill="#7f7f7f"/>
<rect x="1646" y="104" width="10.6" height="10.6" fill="#7f7f7f"/>
<rect x="1656" y="104" width="10.6" height="10.6" fill="#7f7f7f"/>
<rect x="1666" y="104" width="10.6" height="10.6" fill="#7e7e7e"/>
<rect x="1676" y="104" width="10.6" height="10.6" fill="#7d7d7d"/>
<rect x="1686" y="104" width="10.6" height="10.6" fill="#7c7c7c"/>
<rect x="1696" y="104" width="10.6" height="10.6" fill="#7a7a7a"/>
<rect x="1706" y="104" width="10.6" height="10.6" fill="#797979"/>
<rect x="1716" y="104" width="10.6" height="10.6" fill="#777777"/>
<rect x="1726" y="104" width="10.6" height="10.6" fill="#767676"/>
<rect x="1736" y="104" width="10.6" height="10.6" fill="#747474"/>
<rect x="1746" y="104" width="10.6" height="10.6" fill="#727272"/>
<rect x="1756" y="104" width="10.6" height="10.6" fill="#6f6f6f"/>
<rect x="1766" y="104" width="10.6" height="10.6" fill="#6c6c6c"/>
<rect x="1776" y="104" width="10.6" height="10.6" fill="#6a6a6a"/>
<rect x="1786" y="104" width="10.6" height="10.6" fill="#686868"/>
<rect x="1796" y="104" width="10.6" height="10.6" fill="#666666"/>
<rect x="1806" y="104" width="10.6" height="10.6" fill="#646464"/>
<rect x="1816" y="104" width="10.6" height="10.6" fill="#646464"/>
<rect x="1396" y="114" width="10.6" height="10.6" fill="#5a5a5a"/>
<rect x="1406" y="114" width="10.6" height="10.6" fill="#5b5b5b"/>
<rect x="1416" y="114" width="10.6" height="10.6" fill="#5d5d5d"/>
<rect x="1426" y="114" width="10.6" height="10.6" fill="#606060"/>
<rect x="1436" y="114" width="10.6" height="10.6" fill="#626262"/>
<rect x="1446" y="114" width="10.6" height="10.6" fill="#656565"/>
<rect x="1456" y="114" width="10.6" height="10.6" fill="#676767"/>
<rect x="1466" y="114" width="10.6" height="10.6" fill="#6a6a6a"/>
<rect x="1476" y="114" width="10.6" height="10.6" fill="#6d6d6d"/>
<rect x="1486" y="114" width="10.6" height="10.6" fill="#6f6f6f"/>
<rect x="1496" y="114" width="10.6" height="10.6" fill="#717171"/>
<rect x="1506" y="114" width="10.6" height="10.6" fill="#727272"/>
<rect x="1516" y="114" width="10.6" height="10.6" fill="#747474"/>
<rect x="1526" y="114" width="10.6" height="10.6" fill="#767676"/>
<rect x="1536" y="114" width="10.6" height="10.6" fill="#777777"/>
<rect x="1546" y="114" width="10.6" height="10.6" fill="#787878"/>
<rect x="1556" y="114" width="10.6" height="10.6" fill="#787878"/>
<rect x="1566" y="114" width="10.6" height="10.6" fill="#797979"/>
<rect x="1576" y="114" width="10.6" height="10.6" fill="#7a7a7a"/>
<rect x="1586" y="114" width="10.6" height="10.6" fill="#7b7b7b"/>
<rect x="1596" y="114" width="10.6" height="10.6" fill="#7c7c7c"/>
<rect x="1606" y="114" width="10.6" height="10.6" fill="#7c7c7c"/>
<rect x="1616" y="114" width="10.6" height="10.6" fill="#7c7c7c"/>
<rect x="1626" y="114" width="10.6" height="10.6" fill="#7c7c7c"/>
<rect x="1636" y="114" width="10.6" height="10.6" fill="#7c7c7c"/>
<rect x="1646" y="114" width="10.6" height="10.6" fill="#7c7c7c"/>
<rect x="1656" y="114" width="10.6" height="10.6" fill="#7c7c7c"/>
<rect x="1666" y="114" width="10.6" height="10.6" fill="#7b7b7b"/>
<rect x="1676" y="114" width="10.6" height="10.6" fill="#7a7a7a"/>
<rect x="1686" y="114" width="10.6" height="10.6" fill="#797979"/>
<rect x="1696" y="114" width="10.6" height="10.6" fill="#787878"/>
<rect x="1706" y="114" width="10.6" height="10.6" fill="#767676"/>
<rect x="1716" y="114" width="10.6" height="10.6" fill="#757575"/>
<rect x="1726" y="114" width="10.6" height="10.6" fill="#747474"/>
<rect x="1736" y="114" width="10.6" height="10.6" fill="#727272"/>
<rect x="1746" y="114" width="10.6" height="10.6" fill="#707070"/>
<rect x="1756" y="114" width="10.6" height="10.6" fill="#6e6e6e"/>
<rect x="1766" y="114" width="10.6" height="10.6" fill="#6b6b6b"/>
<rect x="1776" y="114" width="10.6" height="10.6" fill="#696969"/>
<rect x="1786" y="114" width="10.6" height="10.6" fill="#676767"/>
<rect x="1796" y="114" width="10.6" height="10.6" fill="#656565"/>
<rect x="1806" y="114" width="10.6" height="10.6" fill="#646464"/>
<rect x="1816" y="114" width="10.6" height="10.6" fill="#646464"/>
<rect x="1396" y="124" width="10.6" height="10.6" fill="#5a5a5a"/>
<rect x="1406" y="124" width="10.6" height="10.6" fill="#5b5b5b"/>
<rect x="1416" y="124" width="10.6" height="10.6" fill="#5d5d5d"/>
<rect x="1426" y="124" width="10.6" height="10.6" fill="#5f5f5f"/>
<rect x="1436" y="124" width="10.6" height="10.6" fill="#626262"/>
<rect x="1446" y="124" width="10.6" height="10.6" fill="#646464"/>
<rect x="1456" y="124" width="10.6" height="10.6" fill="#666666"/>
<rect x="1466" y="124" width="10.6" height="10.6" fill="#696969"/>
<rect x="1476" y="124" width="10.6" height="10.6" fill="#6b6b6b"/>
<rect x="1486" y="124" width="10.6" height="10.6" fill="#6d6d6d"/>
<rect x="1496" y="124" width="10.6" height="10.6" fill="#6f6f6f"/>
<rect x="1506" y="124" width="10.6" height="10.6" fill="#707070"/>
<rect x="1516" y="124" width="10.6" height="10.6" fill="#727272"/>
<rect x="1526" y="124" width="10.6" height="10.6" fill="#747474"/>
<rect x="1536" y="124" width="10.6" height="10.6" fill="#747474"/>
<rect x="1546" y="124" width="10.6" height="10.6" fill="#757575"/>
<rect x="1556" y="124" width="10.6" height="10.6" fill="#767676"/>
<rect x="1566" y="124" width="10.6" height="10.6" fill="#777777"/>
<rect x="1576" y="124" width="10.6" height="10.6" fill="#777777"/>
<rect x="1586" y="124" width="10.6" height="10.6" fill="#787878"/>
<rect x="1596" y="124" width="10.6" height="10.6" fill="#797979"/>
<rect x="1606" y="124" width="10.6" height="10.6" fill="#797979"/>
<rect x="1616" y="124" width="10.6" height="10.6" fill="#797979"/>
<rect x="1626" y="124" width="10.6" height="10.6" fill="#797979"/>
<rect x="1636" y="124" width="10.6" height="10.6" fill="#797979"/>
<rect x="1646" y="124" width="10.6" height="10.6" fill="#797979"/>
<rect x="1656" y="124" width="10.6" height="10.6" fill="#797979"/>
<rect x="1666" y="124" width="10.6" height="10.6" fill="#787878"/>
<rect x="1676" y="124" width="10.6" height="10.6" fill="#777777"/>
<rect x="1686" y="124" width="10.6" height="10.6" fill="#767676"/>
<rect x="1696" y="124" width="10.6" height="10.6" fill="#757575"/>
<rect x="1706" y="124" width="10.6" height="10.6" fill="#747474"/>
<rect x="1716" y="124" width="10.6" height="10.6" fill="#737373"/>
<rect x="1726" y="124" width="10.6" height="10.6" fill="#717171"/>
<rect x="1736" y="124" width="10.6" height="10.6" fill="#707070"/>
<rect x="1746" y="124" width="10.6" height="10.6" fill="#6e6e6e"/>
<rect x="1756" y="124" width="10.6" height="10.6" fill="#6c6c6c"/>
<rect x="1766" y="124" width="10.6" height="10.6" fill="#6a6a6a"/>
<rect x="1776" y="124" width="10.6" height="10.6" fill="#686868"/>
<rect x="1786" y="124" width="10.6" height="10.6" fill="#676767"/>
<rect x="1796" y="124" width="10.6" height="10.6" fill="#656565"/>
<rect x="1806" y="124" width="10.6" height="10.6" fill="#636363"/>
<rect x="1816" y="124" width="10.6" height="10.6" fill="#636363"/>
<rect x="1396" y="134" width="10.6" height="10.6" fill="#5a5a5a"/>
<rect x="1406" y="134" width="10.6" height="10.6" fill="#5b5b5b"/>
<rect x="1416" y="134" width="10.6" height="10.6" fill="#5d5d5d"/>
<rect x="1426" y="134" width="10.6" height="10.6" fill="#5f5f5f"/>
<rect x="1436" y="134" width="10.6" height="10.6" fill="#616161"/>
<rect x="1446" y="134" width="10.6" height="10.6" fill="#636363"/>
<rect x="1456" y="134" width="10.6" height="10.6" fill="#656565"/>
<rect x="1466" y="134" width="10.6" height="10.6" fill="#686868"/>
<rect x="1476" y="134" width="10.6" height="10.6" fill="#6a6a6a"/>
<rect x="1486" y="134" width="10.6" height="10.6" fill="#6b6b6b"/>
<rect x="1496" y="134" width="10.6" height="10.6" fill="#6d6d6d"/>
<rect x="1506" y="134" width="10.6" height="10.6" fill="#6e6e6e"/>
<rect x="1516" y="134" width="10.6" height="10.6" fill="#707070"/>
<rect x="1526" y="134" width="10.6" height="10.6" fill="#717171"/>
<rect x="1536" y="134" width="10.6" height="10.6" fill="#727272"/>
<rect x="1546" y="134" width="10.6" height="10.6" fill="#737373"/>
<rect x="1556" y="134" width="10.6" height="10.6" fill="#737373"/>
<rect x="1566" y="134" width="10.6" height="10.6" fill="#747474"/>
<rect x="1576" y="134" width="10.6" height="10.6" fill="#757575"/>
<rect x="1586" y="134" width="10.6" height="10.6" fill="#757575"/>
<rect x="1596" y="134" width="10.6" height="10.6" fill="#767676"/>
<rect x="1606" y="134" width="10.6" height="10.6" fill="#767676"/>
<rect x="1616" y="134" width="10.6" height="10.6" fill="#767676"/>
<rect x="1626" y="134" width="10.6" height="10.6" fill="#767676"/>
<rect x="1636" y="134" width="10.6" height="10.6" fill="#767676"/>
<rect x="1646" y="134" width="10.6" height="10.6" fill="#767676"/>
<rect x="1656" y="134" width="10.6" height="10.6" fill="#767676"/>
<rect x="1666" y="134" width="10.6" height="10.6" fill="#757575"/>
<rect x="1676" y="134" width="10.6" height="10.6" fill="#757575"/>
<rect x="1686" y="134" width="10.6" height="10.6" fill="#747474"/>
<rect x="1696" y="134" width="10.6" height="10.6" fill="#737373"/>
<rect x="1706" y="134" width="10.6" height="10.6" fill="#727272"/>
<rect x="1716" y="134" width="10.6" height="10.6" fill="#717171"/>
<rect x="1726" y="134" width="10.6" height="10.6" fill="#6f6f6f"/>
<rect x="1736" y="134" width="10.6" height="10.6" fill="#6e6e6e"/>
<rect x="1746" y="134" width="10.6" height="10.6" fill="#6c6c6c"/>
<rect x="1756" y="134" width="10.6" height="10.6" fill="#6b6b6b"/>
<rect x="1766" y="134" width="10.6" height="10.6" fill="#696969"/>
<rect x="1776" y="134" width="10.6" height="10.6" fill="#686868"/>
<rect x="1786" y="134" width="10.6" height="10.6" fill="#666666"/>
<rect x="1796" y="134" width="10.6" height="10.6" fill="#646464"/>
<rect x="1806" y="134" width="10.6" height="10.6" fill="#636363"/>
<rect x="1816" y="134" width="10.6" height="10.6" fill="#636363"/>
<rect x="1396" y="144" width="10.6" height="10.6" fill="#5a5a5a"/>
<rect x="1406" y="144" width="10.6" height="10.6" fill="#5b5b5b"/>
<rect x="1416" y="144" width="10.6" height="10.6" fill="#5d5d5d"/>
<rect x="1426" y="144" width="10.6" height="10.6" fill="#5f5f5f"/>
<rect x="1436" y="144" width="10.6" height="10.6" fill="#616161"/>
<rect x="1446" y="144" width="10.6" height="10.6" fill="#636363"/>
<rect x="1456" y="144" width="10.6" height="10.6" fill="#646464"/>
<rect x="1466" y="144" width="10.6" height="10.6" fill="#666666"/>
<rect x="1476" y="144" width="10.6" height="10.6" fill="#686868"/>
<rect x="1486" y="144" width="10.6" height="10.6" fill="#696969"/>
<rect x="1496" y="144" width="10.6" height="10.6" fill="#6b6b6b"/>
<rect x="1506" y="144" width="10.6" height="10.6" fill="#6c6c6c"/>
<rect x="1516" y="144" width="10.6" height="10.6" fill="#6e6e6e"/>
<rect x="1526" y="144" width="10.6" height="10.6" fill="#6f6f6f"/>
<rect x="1536" y="144" width="10.6" height="10.6" fill="#6f6f6f"/>
<rect x="1546" y="144" width="10.6" height="10.6" fill="#707070"/>
<rect x="1556" y="144" width="10.6" height="10.6" fill="#717171"/>
<rect x="1566" y="144" width="10.6" height="10.6" fill="#717171"/>
<rect x="1576" y="144" width="10.6" height="10.6" fill="#727272"/>
<rect x="1586" y="144" width="10.6" height="10.6" fill="#737373"/>
<rect x="1596" y="144" width="10.6" height="10.6" fill="#737373"/>
<rect x="1606" y="144" width="10.6" height="10.6" fill="#737373"/>
<rect x="1616" y="144" width="10.6" height="10.6" fill="#737373"/>
<rect x="1626" y="144" width="10.6" height="10.6" fill="#737373"/>
<rect x="1636" y="144" width="10.6" height="10.6" fill="#737373"/>
<rect x="1646" y="144" width="10.6" height="10.6" fill="#737373"/>
<rect x="1656" y="144" width="10.6" height="10.6" fill="#737373"/>
<rect x="1666" y="144" width="10.6" height="10.6" fill="#737373"/>
<rect x="1676" y="144" width="10.6" height="10.6" fill="#727272"/>
<rect x="1686" y="144" width="10.6" height="10.6" fill="#717171"/>
<rect x="1696" y="144" width="10.6" height="10.6" fill="#717171"/>
<rect x="1706" y="144" width="10.6" height="10.6" fill="#707070"/>
<rect x="1716" y="144" width="10.6" height="10.6" fill="#6e6e6e"/>
<rect x="1726" y="144" width="10.6" height="10.6" fill="#6d6d6d"/>
<rect x="1736" y="144" width="10.6" height="10.6" fill="#6c6c6c"/>
<rect x="1746" y="144" width="10.6" height="10.6" fill="#6b6b6b"/>
<rect x="1756" y="144" width="10.6" height="10.6" fill="#696969"/>
<rect x="1766" y="144" width="10.6" height="10.6" fill="#686868"/>
<rect x="1776" y="144" width="10.6" height="10.6" fill="#676767"/>
<rect x="1786" y="144" width="10.6" height="10.6" fill="#656565"/>
<rect x="1796" y="144" width="10.6" height="10.6" fill="#646464"/>
<rect x="1806" y="144" width="10.6" height="10.6" fill="#626262"/>
<rect x="1816" y="144" width="10.6" height="10.6" fill="#626262"/>
<rect x="1396" y="154" width="10.6" height="10.6" fill="#5a5a5a"/>
<rect x="1406" y="154" width="10.6" height="10.6" fill="#5b5b5b"/>
<rect x="1416" y="154" width="10.6" height="10.6" fill="#5d5d5d"/>
<rect x="1426" y="154" width="10.6" height="10.6" fill="#5e5e5e"/>
<rect x="1436" y="154" width="10.6" height="10.6" fill="#606060"/>
<rect x="1446" y="154" width="10.6" height="10.6" fill="#626262"/>
<rect x="1456" y="154" width="10.6" height="10.6" fill="#636363"/>
<rect x="1466" y="154" width="10.6" height="10.6" fill="#656565"/>
<rect x="1476" y="154" width="10.6" height="10.6" fill="#666666"/>
<rect x="1486" y="154" width="10.6" height="10.6" fill="#686868"/>
<rect x="1496" y="154" width="10.6" height="10.6" fill="#696969"/>
<rect x="1506" y="154" width="10.6" height="10.6" fill="#6a6a6a"/>
<rect x="1516" y="154" width="10.6" height="10.6" fill="#6b6b6b"/>
<rect x="1526" y="154" width="10.6" height="10.6" fill="#6c6c6c"/>
<rect x="1536" y="154" width="10.6" height="10.6" fill="#6d6d6d"/>
<rect x="1546" y="154" width="10.6" height="10.6" fill="#6e6e6e"/>
<rect x="1556" y="154" width="10.6" height="10.6" fill="#6e6e6e"/>
<rect x="1566" y="154" width="10.6" height="10.6" fill="#6f6f6f"/>
<rect x="1576" y="154" width="10.6" height="10.6" fill="#6f6f6f"/>
<rect x="1586" y="154" width="10.6" height="10.6" fill="#707070"/>
<rect x="1596" y="154" width="10.6" height="10.6" fill="#707070"/>
<rect x="1606" y="154" width="10.6" height="10.6" fill="#707070"/>
<rect x="1616" y="154" width="10.6" height="10.6" fill="#707070"/>
<rect x="1626" y="154" width="10.6" height="10.6" fill="#707070"/>
<rect x="1636" y="154" width="10.6" height="10.6" fill="#707070"/>
<rect x="1646" y="154" width="10.6" height="10.6" fill="#707070"/>
<rect x="1656" y="154" width="10.6" height="10.6" fill="#707070"/>
<rect x="1666" y="154" width="10.6" height="10.6" fill="#707070"/>
<rect x="1676" y="154" width="10.6" height="10.6" fill="#6f6f6f"/>
<rect x="1686" y="154" width="10.6" height="10.6" fill="#6f6f6f"/>
<rect x="1696" y="154" width="10.6" height="10.6" fill="#6e6e6e"/>
<rect x="1706" y="154" width="10.6" height="10.6" fill="#6d6d6d"/>
<rect x="1716" y="154" width="10.6" height="10.6" fill="#6c6c6c"/>
<rect x="1726" y="154" width="10.6" height="10.6" fill="#6b6b6b"/>
<rect x="1736" y="154" width="10.6" height="10.6" fill="#6a6a6a"/>
<rect x="1746" y="154" width="10.6" height="10.6" fill="#696969"/>
<rect x="1756" y="154" width="10.6" height="10.6" fill="#686868"/>
<rect x="1766" y="154" width="10.6" height="10.6" fill="#676767"/>
<rect x="1776" y="154" width="10.6" height="10.6" fill="#666666"/>
<rect x="1786" y="154" width="10.6" height="10.6" fill="#656565"/>
<rect x="1796" y="154" width="10.6" height="10.6" fill="#636363"/>
<rect x="1806" y="154" width="10.6" height="10.6" fill="#626262"/>
<rect x="1816" y="154" width="10.6" height="10.6" fill="#626262"/>
<rect x="1396" y="164" width="10.6" height="10.6" fill="#5a5a5a"/>
<rect x="1406" y="164" width="10.6" height="10.6" fill="#5b5b5b"/>
<rect x="1416" y="164" width="10.6" height="10.6" fill="#5d5d5d"/>
<rect x="1426" y="164" width="10.6" height="10.6" fill="#5e5e5e"/>
<rect x="1436" y="164" width="10.6" height="10.6" fill="#606060"/>
<rect x="1446" y="164" width="10.6" height="10.6" fill="#616161"/>
<rect x="1456" y="164" width="10.6" height="10.6" fill="#636363"/>
<rect x="1466" y="164" width="10.6" height="10.6" fill="#646464"/>
<rect x="1476" y="164" width="10.6" height="10.6" fill="#666666"/>
<rect x="1486" y="164" width="10.6" height="10.6" fill="#676767"/>
<rect x="1496" y="164" width="10.6" height="10.6" fill="#686868"/>
<rect x="1506" y="164" width="10.6" height="10.6" fill="#696969"/>
<rect x="1516" y="164" width="10.6" height="10.6" fill="#6a6a6a"/>
<rect x="1526" y="164" width="10.6" height="10.6" fill="#6b6b6b"/>
<rect x="1536" y="164" width="10.6" height="10.6" fill="#6c6c6c"/>
<rect x="1546" y="164" width="10.6" height="10.6" fill="#6c6c6c"/>
<rect x="1556" y="164" width="10.6" height="10.6" fill="#6d6d6d"/>
<rect x="1566" y="164" width="10.6" height="10.6" fill="#6d6d6d"/>
<rect x="1576" y="164" width="10.6" height="10.6" fill="#6e6e6e"/>
<rect x="1586" y="164" width="10.6" height="10.6" fill="#6e6e6e"/>
<rect x="1596" y="164" width="10.6" height="10.6" fill="#6f6f6f"/>
<rect x="1606" y="164" width="10.6" height="10.6" fill="#6f6f6f"/>
<rect x="1616" y="164" width="10.6" height="10.6" fill="#6f6f6f"/>
<rect x="1626" y="164" width="10.6" height="10.6" fill="#6f6f6f"/>
<rect x="1636" y="164" width="10.6" height="10.6" fill="#6f6f6f"/>
<rect x="1646" y="164" width="10.6" height="10.6" fill="#6f6f6f"/>
<rect x="1656" y="164" width="10.6" height="10.6" fill="#6f6f6f"/>
<rect x="1666" y="164" width="10.6" height="10.6" fill="#6e6e6e"/>
<rect x="1676" y="164" width="10.6" height="10.6" fill="#6e6e6e"/>
<rect x="1686" y="164" width="10.6" height="10.6" fill="#6d6d6d"/>
<rect x="1696" y="164" width="10.6" height="10.6" fill="#6d6d6d"/>
<rect x="1706" y="164" width="10.6" height="10.6" fill="#6c6c6c"/>
<rect x="1716" y="164" width="10.6" height="10.6" fill="#6b6b6b"/>
<rect x="1726" y="164" width="10.6" height="10.6" fill="#6a6a6a"/>
<rect x="1736" y="164" width="10.6" height="10.6" fill="#696969"/>
<rect x="1746" y="164" width="10.6" height="10.6" fill="#686868"/>
<rect x="1756" y="164" width="10.6" height="10.6" fill="#676767"/>
<rect x="1766" y="164" width="10.6" height="10.6" fill="#666666"/>
<rect x="1776" y="164" width="10.6" height="10.6" fill="#656565"/>
<rect x="1786" y="164" width="10.6" height="10.6" fill="#646464"/>
<rect x="1796" y="164" width="10.6" height="10.6" fill="#636363"/>
<rect x="1806" y="164" width="10.6" height="10.6" fill="#626262"/>
<rect x="1816" y="164" width="10.6" height="10.6" fill="#626262"/>
<rect x="1396" y="174" width="10.6" height="10.6" fill="#5a5a5a"/>
<rect x="1406" y="174" width="10.6" height="10.6" fill="#5b5b5b"/>
<rect x="1416" y="174" width="10.6" height="10.6" fill="#5c5c5c"/>
<rect x="1426" y="174" width="10.6" height="10.6" fill="#5e5e5e"/>
<rect x="1436" y="174" width="10.6" height="10.6" fill="#606060"/>
<rect x="1446" y="174" width="10.6" height="10.6" fill="#616161"/>
<rect x="1456" y="174" width="10.6" height="10.6" fill="#626262"/>
<rect x="1466" y="174" width="10.6" height="10.6" fill="#646464"/>
<rect x="1476" y="174" width="10.6" height="10.6" fill="#656565"/>
<rect x="1486" y="174" width="10.6" height="10.6" fill="#666666"/>
<rect x="1496" y="174" width="10.6" height="10.6" fill="#676767"/>
<rect x="1506" y="174" width="10.6" height="10.6" fill="#686868"/>
<rect x="1516" y="174" width="10.6" height="10.6" fill="#696969"/>
<rect x="1526" y="174" width="10.6" height="10.6" fill="#6a6a6a"/>
<rect x="1536" y="174" width="10.6" height="10.6" fill="#6b6b6b"/>
<rect x="1546" y="174" width="10.6" height="10.6" fill="#6b6b6b"/>
<rect x="1556" y="174" width="10.6" height="10.6" fill="#6c6c6c"/>
<rect x="1566" y="174" width="10.6" height="10.6" fill="#6c6c6c"/>
<rect x="1576" y="174" width="10.6" height="10.6" fill="#6d6d6d"/>
<rect x="1586" y="174" width="10.6" height="10.6" fill="#6d6d6d"/>
<rect x="1596" y="174" width="10.6" height="10.6" fill="#6e6e6e"/>
<rect x="1606" y="174" width="10.6" height="10.6" fill="#6e6e6e"/>
<rect x="1616" y="174" width="10.6" height="10.6" fill="#6e6e6e"/>
<rect x="1626" y="174" width="10.6" height="10.6" fill="#6e6e6e"/>
<rect x="1636" y="174" width="10.6" height="10.6" fill="#6e6e6e"/>
<rect x="1646" y="174" width="10.6" height="10.6" fill="#6e6e6e"/>
<rect x="1656" y="174" width="10.6" height="10.6" fill="#6d6d6d"/>
<rect x="1666" y="174" width="10.6" height="10.6" fill="#6d6d6d"/>
<rect x="1676" y="174" width="10.6" height="10.6" fill="#6c6c6c"/>
<rect x="1686" y="174" width="10.6" height="10.6" fill="#6c6c6c"/>
<rect x="1696" y="174" width="10.6" height="10.6" fill="#6b6b6b"/>
<rect x="1706" y="174" width="10.6" height="10.6" fill="#6b6b6b"/>
<rect x="1716" y="174" width="10.6" height="10.6" fill="#6a6a6a"/>
<rect x="1726" y="174" width="10.6" height="10.6" fill="#696969"/>
<rect x="1736" y="174" width="10.6" height="10.6" fill="#686868"/>
<rect x="1746" y="174" width="10.6" height="10.6" fill="#676767"/>
<rect x="1756" y="174" width="10.6" height="10.6" fill="#666666"/>
<rect x="1766" y="174" width="10.6" height="10.6" fill="#666666"/>
<rect x="1776" y="174" width="10.6" height="10.6" fill="#656565"/>
<rect x="1786" y="174" width="10.6" height="10.6" fill="#646464"/>
<rect x="1796" y="174" width="10.6" height="10.6" fill="#626262"/>
<rect x="1806" y="174" width="10.6" height="10.6" fill="#616161"/>
<rect x="1816" y="174" width="10.6" height="10.6" fill="#616161"/>
<rect x="1396" y="184" width="10.6" height="10.6" fill="#5a5a5a"/>
<rect x="1406" y="184" width="10.6" height="10.6" fill="#5b5b5b"/>
<rect x="1416" y="184" width="10.6" height="10.6" fill="#5c5c5c"/>
<rect x="1426" y="184" width="10.6" height="10.6" fill="#5e5e5e"/>
<rect x="1436" y="184" width="10.6" height="10.6" fill="#5f5f5f"/>
<rect x="1446" y="184" width="10.6" height="10.6" fill="#606060"/>
<rect x="1456" y="184" width="10.6" height="10.6" fill="#626262"/>
<rect x="1466" y="184" width="10.6" height="10.6" fill="#636363"/>
<rect x="1476" y="184" width="10.6" height="10.6" fill="#646464"/>
<rect x="1486" y="184" width="10.6" height="10.6" fill="#656565"/>
<rect x="1496" y="184" width="10.6" height="10.6" fill="#666666"/>
<rect x="1506" y="184" width="10.6" height="10.6" fill="#676767"/>
<rect x="1516" y="184" width="10.6" height="10.6" fill="#686868"/>
<rect x="1526" y="184" width="10.6" height="10.6" fill="#696969"/>
<rect x="1536" y="184" width="10.6" height="10.6" fill="#6a6a6a"/>
<rect x="1546" y="184" width="10.6" height="10.6" fill="#6a6a6a"/>
<rect x="1556" y="184" width="10.6" height="10.6" fill="#6b6b6b"/>
<rect x="1566" y="184" width="10.6" height="10.6" fill="#6b6b6b"/>
<rect x="1576" y="184" width="10.6" height="10.6" fill="#6b6b6b"/>
<rect x="1586" y="184" width="10.6" height="10.6" fill="#6c6c6c"/>
<rect x="1596" y="184" width="10.6" height="10.6" fill="#6c6c6c"/>
<rect x="1606" y="184" width="10.6" height="10.6" fill="#6c6c6c"/>
<rect x="1616" y="184" width="10.6" height="10.6" fill="#6c6c6c"/>
<rect x="1626" y="184" width="10.6" height="10.6" fill="#6c6c6c"/>
<rect x="1636" y="184" width="10.6" height="10.6" fill="#6c6c6c"/>
<rect x="1646" y="184" width="10.6" height="10.6" fill="#6c6c6c"/>
<rect x="1656" y="184" width="10.6" height="10.6" fill="#6c6c6c"/>
<rect x="1666" y="184" width="10.6" height="10.6" fill="#6c6c6c"/>
<rect x="1676" y="184" width="10.6" height="10.6" fill="#6b6b6b"/>
<rect x="1686" y="184" width="10.6" height="10.6" fill="#6b6b6b"/>
<rect x="1696" y="184" width="10.6" height="10.6" fill="#6a6a6a"/>
<rect x="1706" y="184" width="10.6" height="10.6" fill="#696969"/>
<rect x="1716" y="184" width="10.6" height="10.6" fill="#696969"/>
<rect x="1726" y="184" width="10.6" height="10.6" fill="#686868"/>
<rect x="1736" y="184" width="10.6" height="10.6" fill="#676767"/>
<rect x="1746" y="184" width="10.6" height="10.6" fill="#666666"/>
<rect x="1756" y="184" width="10.6" height="10.6" fill="#666666"/>
<rect x="1766" y="184" width="10.6" height="10.6" fill="#656565"/>
<rect x="1776" y="184" width="10.6" height="10.6" fill="#646464"/>
<rect x="1786" y="184" width="10.6" height="10.6" fill="#636363"/>
<rect x="1796" y="184" width="10.6" height="10.6" fill="#626262"/>
<rect x="1806" y="184" width="10.6" height="10.6" fill="#616161"/>
<rect x="1816" y="184" width="10.6" height="10.6" fill="#616161"/>
<rect x="1396" y="194" width="10.6" height="10.6" fill="#5a5a5a"/>
<rect x="1406" y="194" width="10.6" height="10.6" fill="#5b5b5b"/>
<rect x="1416" y="194" width="10.6" height="10.6" fill="#5c5c5c"/>
<rect x="1426" y="194" width="10.6" height="10.6" fill="#5d5d5d"/>
<rect x="1436" y="194" width="10.6" height="10.6" fill="#5f5f5f"/>
<rect x="1446" y="194" width="10.6" height="10.6" fill="#606060"/>
<rect x="1456" y="194" width="10.6" height="10.6" fill="#616161"/>
<rect x="1466" y="194" width="10.6" height="10.6" fill="#626262"/>
<rect x="1476" y="194" width="10.6" height="10.6" fill="#646464"/>
<rect x="1486" y="194" width="10.6" height="10.6" fill="#646464"/>
<rect x="1496" y="194" width="10.6" height="10.6" fill="#656565"/>
<rect x="1506" y="194" width="10.6" height="10.6" fill="#666666"/>
<rect x="1516" y="194" width="10.6" height="10.6" fill="#676767"/>
<rect x="1526" y="194" width="10.6" height="10.6" fill="#686868"/>
<rect x="1536" y="194" width="10.6" height="10.6" fill="#696969"/>
<rect x="1546" y="194" width="10.6" height="10.6" fill="#696969"/>
<rect x="1556" y="194" width="10.6" height="10.6" fill="#696969"/>
<rect x="1566" y="194" width="10.6" height="10.6" fill="#6a6a6a"/>
<rect x="1576" y="194" width="10.6" height="10.6" fill="#6a6a6a"/>
<rect x="1586" y="194" width="10.6" height="10.6" fill="#6b6b6b"/>
<rect x="1596" y="194" width="10.6" height="10.6" fill="#6b6b6b"/>
<rect x="1606" y="194" width="10.6" height="10.6" fill="#6b6b6b"/>
<rect x="1616" y="194" width="10.6" height="10.6" fill="#6b6b6b"/>
<rect x="1626" y="194" width="10.6" height="10.6" fill="#6b6b6b"/>
<rect x="1636" y="194" width="10.6" height="10.6" fill="#6b6b6b"/>
<rect x="1646" y="194" width="10.6" height="10.6" fill="#6b6b6b"/>
<rect x="1656" y="194" width="10.6" height="10.6" fill="#6b6b6b"/>
<rect x="1666" y="194" width="10.6" height="10.6" fill="#6a6a6a"/>
<rect x="1676" y="194" width="10.6" height="10.6" fill="#6a6a6a"/>
<rect x="1686" y="194" width="10.6" height="10.6" fill="#696969"/>
<rect x="1696" y="194" width="10.6" height="10.6" fill="#696969"/>
<rect x="1706" y="194" width="10.6" height="10.6" fill="#686868"/>
<rect x="1716" y="194" width="10.6" height="10.6" fill="#676767"/>
<rect x="1726" y="194" width="10.6" height="10.6" fill="#676767"/>
<rect x="1736" y="194" width="10.6" height="10.6" fill="#666666"/>
<rect x="1746" y="194" width="10.6" height="10.6" fill="#656565"/>
<rect x="1756" y="194" width="10.6" height="10.6" fill="#656565"/>
<rect x="1766" y="194" width="10.6" height="10.6" fill="#646464"/>
<rect x="1776" y="194" width="10.6" height="10.6" fill="#636363"/>
<rect x="1786" y="194" width="10.6" height="10.6" fill="#626262"/>
<rect x="1796" y="194" width="10.6" height="10.6" fill="#626262"/>
<rect x="1806" y="194" width="10.6" height="10.6" fill="#616161"/>
<rect x="1816" y="194" width="10.6" height="10.6" fill="#616161"/>
<rect x="1396" y="204" width="10.6" height="10.6" fill="#5a5a5a"/>
<rect x="1406" y="204" width="10.6" height="10.6" fill="#5b5b5b"/>
<rect x="1416" y="204" width="10.6" height="10.6" fill="#5c5c5c"/>
<rect x="1426" y="204" width="10.6" height="10.6" fill="#5d5d5d"/>
<rect x="1436" y="204" width="10.6" height="10.6" fill="#5f5f5f"/>
<rect x="1446" y="204" width="10.6" height="10.6" fill="#606060"/>
<rect x="1456" y="204" width="10.6" height="10.6" fill="#616161"/>
<rect x="1466" y="204" width="10.6" height="10.6" fill="#626262"/>
<rect x="1476" y="204" width="10.6" height="10.6" fill="#636363"/>
<rect x="1486" y="204" width="10.6" height="10.6" fill="#646464"/>
<rect x="1496" y="204" width="10.6" height="10.6" fill="#656565"/>
<rect x="1506" y="204" width="10.6" height="10.6" fill="#666666"/>
<rect x="1516" y="204" width="10.6" height="10.6" fill="#666666"/>
<rect x="1526" y="204" width="10.6" height="10.6" fill="#676767"/>
<rect x="1536" y="204" width="10.6" height="10.6" fill="#686868"/>
<rect x="1546" y="204" width="10.6" height="10.6" fill="#686868"/>
<rect x="1556" y="204" width="10.6" height="10.6" fill="#686868"/>
<rect x="1566" y="204" width="10.6" height="10.6" fill="#696969"/>
<rect x="1576" y="204" width="10.6" height="10.6" fill="#696969"/>
<rect x="1586" y="204" width="10.6" height="10.6" fill="#696969"/>
<rect x="1596" y="204" width="10.6" height="10.6" fill="#6a6a6a"/>
<rect x="1606" y="204" width="10.6" height="10.6" fill="#6a6a6a"/>
<rect x="1616" y="204" width="10.6" height="10.6" fill="#6a6a6a"/>
<rect x="1626" y="204" width="10.6" height="10.6" fill="#6a6a6a"/>
<rect x="1636" y="204" width="10.6" height="10.6" fill="#6a6a6a"/>
<rect x="1646" y="204" width="10.6" height="10.6" fill="#6a6a6a"/>
<rect x="1656" y="204" width="10.6" height="10.6" fill="#696969"/>
<rect x="1666" y="204" width="10.6" height="10.6" fill="#696969"/>
<rect x="1676" y="204" width="10.6" height="10.6" fill="#686868"/>
<rect x="1686" y="204" width="10.6" height="10.6" fill="#686868"/>
<rect x="1696" y="204" width="10.6" height="10.6" fill="#676767"/>
<rect x="1706" y="204" width="10.6" height="10.6" fill="#676767"/>
<rect x="1716" y="204" width="10.6" height="10.6" fill="#666666"/>
<rect x="1726" y="204" width="10.6" height="10.6" fill="#666666"/>
<rect x="1736" y="204" width="10.6" height="10.6" fill="#656565"/>
<rect x="1746" y="204" width="10.6" height="10.6" fill="#646464"/>
<rect x="1756" y="204" width="10.6" height="10.6" fill="#646464"/>
<rect x="1766" y="204" width="10.6" height="10.6" fill="#636363"/>
<rect x="1776" y="204" width="10.6" height="10.6" fill="#636363"/>
<rect x="1786" y="204" width="10.6" height="10.6" fill="#626262"/>
<rect x="1796" y="204" width="10.6" height="10.6" fill="#616161"/>
<rect x="1806" y="204" width="10.6" height="10.6" fill="#606060"/>
<rect x="1816" y="204" width="10.6" height="10.6" fill="#606060"/>
<rect x="1396" y="214" width="10.6" height="10.6" fill="#5a5a5a"/>
<rect x="1406" y="214" width="10.6" height="10.6" fill="#5b5b5b"/>
<rect x="1416" y="214" width="10.6" height="10.6" fill="#5c5c5c"/>
<rect x="1426" y="214" width="10.6" height="10.6" fill="#5d5d5d"/>
<rect x="1436" y="214" width="10.6" height="10.6" fill="#5e5e5e"/>
<rect x="1446" y="214" width="10.6" height="10.6" fill="#5f5f5f"/>
<rect x="1456" y="214" width="10.6" height="10.6" fill="#606060"/>
<rect x="1466" y="214" width="10.6" height="10.6" fill="#616161"/>
<rect x="1476" y="214" width="10.6" height="10.6" fill="#626262"/>
<rect x="1486" y="214" width="10.6" height="10.6" fill="#636363"/>
<rect x="1496" y="214" width="10.6" height="10.6" fill="#646464"/>
<rect x="1506" y="214" width="10.6" height="10.6" fill="#656565"/>
<rect x="1516" y="214" width="10.6" height="10.6" fill="#656565"/>
<rect x="1526" y="214" width="10.6" height="10.6" fill="#666666"/>
<rect x="1536" y="214" width="10.6" height="10.6" fill="#666666"/>
<rect x="1546" y="214" width="10.6" height="10.6" fill="#676767"/>
<rect x="1556" y="214" width="10.6" height="10.6" fill="#676767"/>
<rect x="1566" y="214" width="10.6" height="10.6" fill="#676767"/>
<rect x="1576" y="214" width="10.6" height="10.6" fill="#686868"/>
<rect x="1586" y="214" width="10.6" height="10.6" fill="#686868"/>
<rect x="1596" y="214" width="10.6" height="10.6" fill="#686868"/>
<rect x="1606" y="214" width="10.6" height="10.6" fill="#686868"/>
<rect x="1616" y="214" width="10.6" height="10.6" fill="#686868"/>
<rect x="1626" y="214" width="10.6" height="10.6" fill="#686868"/>
<rect x="1636" y="214" width="10.6" height="10.6" fill="#686868"/>
<rect x="1646" y="214" width="10.6" height="10.6" fill="#686868"/>
<rect x="1656" y="214" width="10.6" height="10.6" fill="#686868"/>
<rect x="1666" y="214" width="10.6" height="10.6" fill="#686868"/>
<rect x="1676" y="214" width="10.6" height="10.6" fill="#676767"/>
<rect x="1686" y="214" width="10.6" height="10.6" fill="#676767"/>
<rect x="1696" y="214" width="10.6" height="10.6" fill="#666666"/>
<rect x="1706" y="214" width="10.6" height="10.6" fill="#666666"/>
<rect x="1716" y="214" width="10.6" height="10.6" fill="#656565"/>
<rect x="1726" y="214" width="10.6" height="10.6" fill="#656565"/>
<rect x="1736" y="214" width="10.6" height="10.6" fill="#646464"/>
<rect x="1746" y="214" width="10.6" height="10.6" fill="#646464"/>
<rect x="1756" y="214" width="10.6" height="10.6" fill="#636363"/>
<rect x="1766" y="214" width="10.6" height="10.6" fill="#636363"/>
<rect x="1776" y="214" width="10.6" height="10.6" fill="#626262"/>
<rect x="1786" y="214" width="10.6" height="10.6" fill="#616161"/>
<rect x="1796" y="214" width="10.6" height="10.6" fill="#616161"/>
<rect x="1806" y="214" width="10.6" height="10.6" fill="#606060"/>
<rect x="1816" y="214" width="10.6" height="10.6" fill="#606060"/>
<rect x="1396" y="224" width="10.6" height="10.6" fill="#5a5a5a"/>
<rect x="1406" y="224" width="10.6" height="10.6" fill="#5b5b5b"/>
<rect x="1416" y="224" width="10.6" height="10.6" fill="#5c5c5c"/>
<rect x="1426" y="224" width="10.6" height="10.6" fill="#5d5d5d"/>
<rect x="1436" y="224" width="10.6" height="10.6" fill="#5e5e5e"/>
<rect x="1446" y="224" width="10.6" height="10.6" fill="#5f5f5f"/>
<rect x="1456" y="224" width="10.6" height="10.6" fill="#606060"/>
<rect x="1466" y="224" width="10.6" height="10.6" fill="#616161"/>
<rect x="1476" y="224" width="10.6" height="10.6" fill="#626262"/>
<rect x="1486" y="224" width="10.6" height="10.6" fill="#626262"/>
<rect x="1496" y="224" width="10.6" height="10.6" fill="#636363"/>
<rect x="1506" y="224" width="10.6" height="10.6" fill="#646464"/>
<rect x="1516" y="224" width="10.6" height="10.6" fill="#656565"/>
<rect x="1526" y="224" width="10.6" height="10.6" fill="#656565"/>
<rect x="1536" y="224" width="10.6" height="10.6" fill="#666666"/>
<rect x="1546" y="224" width="10.6" height="10.6" fill="#666666"/>
<rect x="1556" y="224" width="10.6" height="10.6" fill="#666666"/>
<rect x="1566" y="224" width="10.6" height="10.6" fill="#676767"/>
<rect x="1576" y="224" width="10.6" height="10.6" fill="#676767"/>
<rect x="1586" y="224" width="10.6" height="10.6" fill="#676767"/>
<rect x="1596" y="224" width="10.6" height="10.6" fill="#676767"/>
<rect x="1606" y="224" width="10.6" height="10.6" fill="#676767"/>
<rect x="1616" y="224" width="10.6" height="10.6" fill="#676767"/>
<rect x="1626" y="224" width="10.6" height="10.6" fill="#676767"/>
<rect x="1636" y="224" width="10.6" height="10.6" fill="#676767"/>
<rect x="1646" y="224" width="10.6" height="10.6" fill="#676767"/>
<rect x="1656" y="224" width="10.6" height="10.6" fill="#676767"/>
<rect x="1666" y="224" width="10.6" height="10.6" fill="#676767"/>
<rect x="1676" y="224" width="10.6" height="10.6" fill="#666666"/>
<rect x="1686" y="224" width="10.6" height="10.6" fill="#666666"/>
<rect x="1696" y="224" width="10.6" height="10.6" fill="#656565"/>
<rect x="1706" y="224" width="10.6" height="10.6" fill="#656565"/>
<rect x="1716" y="224" width="10.6" height="10.6" fill="#646464"/>
<rect x="1726" y="224" width="10.6" height="10.6" fill="#646464"/>
<rect x="1736" y="224" width="10.6" height="10.6" fill="#646464"/>
<rect x="1746" y="224" width="10.6" height="10.6" fill="#636363"/>
<rect x="1756" y="224" width="10.6" height="10.6" fill="#636363"/>
<rect x="1766" y="224" width="10.6" height="10.6" fill="#626262"/>
<rect x="1776" y="224" width="10.6" height="10.6" fill="#626262"/>
<rect x="1786" y="224" width="10.6" height="10.6" fill="#616161"/>
<rect x="1796" y="224" width="10.6" height="10.6" fill="#606060"/>
<rect x="1806" y="224" width="10.6" height="10.6" fill="#606060"/>
<rect x="1816" y="224" width="10.6" height="10.6" fill="#606060"/>
<rect x="1396" y="234" width="10.6" height="10.6" fill="#5a5a5a"/>
<rect x="1406" y="234" width="10.6" height="10.6" fill="#5b5b5b"/>
<rect x="1416" y="234" width="10.6" height="10.6" fill="#5c5c5c"/>
<rect x="1426" y="234" width="10.6" height="10.6" fill="#5d5d5d"/>
<rect x="1436" y="234" width="10.6" height="10.6" fill="#5e5e5e"/>
<rect x="1446" y="234" width="10.6" height="10.6" fill="#5f5f5f"/>
<rect x="1456" y="234" width="10.6" height="10.6" fill="#606060"/>
<rect x="1466" y="234" width="10.6" height="10.6" fill="#606060"/>
<rect x="1476" y="234" width="10.6" height="10.6" fill="#616161"/>
<rect x="1486" y="234" width="10.6" height="10.6" fill="#626262"/>
<rect x="1496" y="234" width="10.6" height="10.6" fill="#636363"/>
<rect x="1506" y="234" width="10.6" height="10.6" fill="#636363"/>
<rect x="1516" y="234" width="10.6" height="10.6" fill="#646464"/>
<rect x="1526" y="234" width="10.6" height="10.6" fill="#656565"/>
<rect x="1536" y="234" width="10.6" height="10.6" fill="#656565"/>
<rect x="1546" y="234" width="10.6" height="10.6" fill="#656565"/>
<rect x="1556" y="234" width="10.6" height="10.6" fill="#666666"/>
<rect x="1566" y="234" width="10.6" height="10.6" fill="#666666"/>
<rect x="1576" y="234" width="10.6" height="10.6" fill="#666666"/>
<rect x="1586" y="234" width="10.6" height="10.6" fill="#676767"/>
<rect x="1596" y="234" width="10.6" height="10.6" fill="#676767"/>
<rect x="1606" y="234" width="10.6" height="10.6" fill="#676767"/>
<rect x="1616" y="234" width="10.6" height="10.6" fill="#676767"/>
<rect x="1626" y="234" width="10.6" height="10.6" fill="#676767"/>
<rect x="1636" y="234" width="10.6" height="10.6" fill="#676767"/>
<rect x="1646" y="234" width="10.6" height="10.6" fill="#676767"/>
<rect x="1656" y="234" width="10.6" height="10.6" fill="#676767"/>
<rect x="1666" y="234" width="10.6" height="10.6" fill="#666666"/>
<rect x="1676" y="234" width="10.6" height="10.6" fill="#666666"/>
<rect x="1686" y="234" width="10.6" height="10.6" fill="#656565"/>
<rect x="1696" y="234" width="10.6" height="10.6" fill="#656565"/>
<rect x="1706" y="234" width="10.6" height="10.6" fill="#646464"/>
<rect x="1716" y="234" width="10.6" height="10.6" fill="#646464"/>
<rect x="1726" y="234" width="10.6" height="10.6" fill="#646464"/>
<rect x="1736" y="234" width="10.6" height="10.6" fill="#636363"/>
<rect x="1746" y="234" width="10.6" height="10.6" fill="#636363"/>
<rect x="1756" y="234" width="10.6" height="10.6" fill="#626262"/>
<rect x="1766" y="234" width="10.6" height="10.6" fill="#626262"/>
<rect x="1776" y="234" width="10.6" height="10.6" fill="#616161"/>
<rect x="1786" y="234" width="10.6" height="10.6" fill="#616161"/>
<rect x="1796" y="234" width="10.6" height="10.6" fill="#606060"/>
<rect x="1806" y="234" width="10.6" height="10.6" fill="#606060"/>
<rect x="1816" y="234" width="10.6" height="10.6" fill="#606060"/>
<rect x="1396" y="244" width="10.6" height="10.6" fill="#5a5a5a"/>
<rect x="1406" y="244" width="10.6" height="10.6" fill="#5b5b5b"/>
<rect x="1416" y="244" width="10.6" height="10.6" fill="#5c5c5c"/>
<rect x="1426" y="244" width="10.6" height="10.6" fill="#5d5d5d"/>
<rect x="1436" y="244" width="10.6" height="10.6" fill="#5e5e5e"/>
<rect x="1446" y="244" width="10.6" height="10.6" fill="#5e5e5e"/>
<rect x="1456" y="244" width="10.6" height="10.6" fill="#5f5f5f"/>
<rect x="1466" y="244" width="10.6" height="10.6" fill="#606060"/>
<rect x="1476" y="244" width="10.6" height="10.6" fill="#616161"/>
<rect x="1486" y="244" width="10.6" height="10.6" fill="#626262"/>
<rect x="1496" y="244" width="10.6" height="10.6" fill="#626262"/>
<rect x="1506" y="244" width="10.6" height="10.6" fill="#636363"/>
<rect x="1516" y="244" width="10.6" height="10.6" fill="#646464"/>
<rect x="1526" y="244" width="10.6" height="10.6" fill="#646464"/>
<rect x="1536" y="244" width="10.6" height="10.6" fill="#656565"/>
<rect x="1546" y="244" width="10.6" height="10.6" fill="#656565"/>
<rect x="1556" y="244" width="10.6" height="10.6" fill="#656565"/>
<rect x="1566" y="244" width="10.6" height="10.6" fill="#656565"/>
<rect x="1576" y="244" width="10.6" height="10.6" fill="#666666"/>
<rect x="1586" y="244" width="10.6" height="10.6" fill="#666666"/>
<rect x="1596" y="244" width="10.6" height="10.6" fill="#666666"/>
<rect x="1606" y="244" width="10.6" height="10.6" fill="#666666"/>
<rect x="1616" y="244" width="10.6" height="10.6" fill="#666666"/>
<rect x="1626" y="244" width="10.6" height="10.6" fill="#666666"/>
<rect x="1636" y="244" width="10.6" height="10.6" fill="#666666"/>
<rect x="1646" y="244" width="10.6" height="10.6" fill="#666666"/>
<rect x="1656" y="244" width="10.6" height="10.6" fill="#666666"/>
<rect x="1666" y="244" width="10.6" height="10.6" fill="#666666"/>
<rect x="1676" y="244" width="10.6" height="10.6" fill="#656565"/>
<rect x="1686" y="244" width="10.6" height="10.6" fill="#656565"/>
<rect x="1696" y="244" width="10.6" height="10.6" fill="#646464"/>
<rect x="1706" y="244" width="10.6" height="10.6" fill="#646464"/>
<rect x="1716" y="244" width="10.6" height="10.6" fill="#636363"/>
<rect x="1726" y="244" width="10.6" height="10.6" fill="#636363"/>
<rect x="1736" y="244" width="10.6" height="10.6" fill="#636363"/>
<rect x="1746" y="244" width="10.6" height="10.6" fill="#626262"/>
<rect x="1756" y="244" width="10.6" height="10.6" fill="#626262"/>
<rect x="1766" y="244" width="10.6" height="10.6" fill="#616161"/>
<rect x="1776" y="244" width="10.6" height="10.6" fill="#616161"/>
<rect x="1786" y="244" width="10.6" height="10.6" fill="#606060"/>
<rect x="1796" y="244" width="10.6" height="10.6" fill="#606060"/>
<rect x="1806" y="244" width="10.6" height="10.6" fill="#5f5f5f"/>
<rect x="1816" y="244" width="10.6" height="10.6" fill="#5f5f5f"/>
<rect x="1396" y="254" width="10.6" height="10.6" fill="#5a5a5a"/>
<rect x="1406" y="254" width="10.6" height="10.6" fill="#5a5a5a"/>
<rect x="1416" y="254" width="10.6" height="10.6" fill="#5b5b5b"/>
<rect x="1426" y="254" width="10.6" height="10.6" fill="#5c5c5c"/>
<rect x="1436" y="254" width="10.6" height="10.6" fill="#5d5d5d"/>
<rect x="1446" y="254" width="10.6" height="10.6" fill="#5e5e5e"/>
<rect x="1456" y="254" width="10.6" height="10.6" fill="#5f5f5f"/>
<rect x="1466" y="254" width="10.6" height="10.6" fill="#606060"/>
<rect x="1476" y="254" width="10.6" height="10.6" fill="#606060"/>
<rect x="1486" y="254" width="10.6" height="10.6" fill="#616161"/>
<rect x="1496" y="254" width="10.6" height="10.6" fill="#626262"/>
<rect x="1506" y="254" width="10.6" height="10.6" fill="#626262"/>
<rect x="1516" y="254" width="10.6" height="10.6" fill="#636363"/>
<rect x="1526" y="254" width="10.6" height="10.6" fill="#646464"/>
<rect x="1536" y="254" width="10.6" height="10.6" fill="#646464"/>
<rect x="1546" y="254" width="10.6" height="10.6" fill="#646464"/>
<rect x="1556" y="254" width="10.6" height="10.6" fill="#646464"/>
<rect x="1566" y="254" width="10.6" height="10.6" fill="#656565"/>
<rect x="1576" y="254" width="10.6" height="10.6" fill="#656565"/>
<rect x="1586" y="254" width="10.6" height="10.6" fill="#656565"/>
<rect x="1596" y="254" width="10.6" height="10.6" fill="#666666"/>
<rect x="1606" y="254" width="10.6" height="10.6" fill="#666666"/>
<rect x="1616" y="254" width="10.6" height="10.6" fill="#666666"/>
<rect x="1626" y="254" width="10.6" height="10.6" fill="#666666"/>
<rect x="1636" y="254" width="10.6" height="10.6" fill="#666666"/>
<rect x="1646" y="254" width="10.6" height="10.6" fill="#666666"/>
<rect x="1656" y="254" width="10.6" height="10.6" fill="#666666"/>
<rect x="1666" y="254" width="10.6" height="10.6" fill="#656565"/>
<rect x="1676" y="254" width="10.6" height="10.6" fill="#656565"/>
<rect x="1686" y="254" width="10.6" height="10.6" fill="#646464"/>
<rect x="1696" y="254" width="10.6" height="10.6" fill="#646464"/>
<rect x="1706" y="254" width="10.6" height="10.6" fill="#636363"/>
<rect x="1716" y="254" width="10.6" height="10.6" fill="#636363"/>
<rect x="1726" y="254" width="10.6" height="10.6" fill="#636363"/>
<rect x="1736" y="254" width="10.6" height="10.6" fill="#626262"/>
<rect x="1746" y="254" width="10.6" height="10.6" fill="#626262"/>
<rect x="1756" y="254" width="10.6" height="10.6" fill="#616161"/>
<rect x="1766" y="254" width="10.6" height="10.6" fill="#616161"/>
<rect x="1776" y="254" width="10.6" height="10.6" fill="#606060"/>
<rect x="1786" y="254" width="10.6" height="10.6" fill="#606060"/>
<rect x="1796" y="254" width="10.6" height="10.6" fill="#606060"/>
<rect x="1806" y="254" width="10.6" height="10.6" fill="#5f5f5f"/>
<rect x="1816" y="254" width="10.6" height="10.6" fill="#5f5f5f"/>
<rect x="1396" y="264" width="10.6" height="10.6" fill="#5a5a5a"/>
<rect x="1406" y="264" width="10.6" height="10.6" fill="#5a5a5a"/>
<rect x="1416" y="264" width="10.6" height="10.6" fill="#5b5b5b"/>
<rect x="1426" y="264" width="10.6" height="10.6" fill="#5c5c5c"/>
<rect x="1436" y="264" width="10.6" height="10.6" fill="#5d5d5d"/>
<rect x="1446" y="264" width="10.6" height="10.6" fill="#5e5e5e"/>
<rect x="1456" y="264" width="10.6" height="10.6" fill="#5f5f5f"/>
<rect x="1466" y="264" width="10.6" height="10.6" fill="#5f5f5f"/>
<rect x="1476" y="264" width="10.6" height="10.6" fill="#606060"/>
<rect x="1486" y="264" width="10.6" height="10.6" fill="#616161"/>
<rect x="1496" y="264" width="10.6" height="10.6" fill="#616161"/>
<rect x="1506" y="264" width="10.6" height="10.6" fill="#626262"/>
<rect x="1516" y="264" width="10.6" height="10.6" fill="#626262"/>
<rect x="1526" y="264" width="10.6" height="10.6" fill="#636363"/>
<rect x="1536" y="264" width="10.6" height="10.6" fill="#636363"/>
<rect x="1546" y="264" width="10.6" height="10.6" fill="#646464"/>
<rect x="1556" y="264" width="10.6" height="10.6" fill="#646464"/>
<rect x="1566" y="264" width="10.6" height="10.6" fill="#646464"/>
<rect x="1576" y="264" width="10.6" height="10.6" fill="#646464"/>
<rect x="1586" y="264" width="10.6" height="10.6" fill="#656565"/>
<rect x="1596" y="264" width="10.6" height="10.6" fill="#656565"/>
<rect x="1606" y="264" width="10.6" height="10.6" fill="#656565"/>
<rect x="1616" y="264" width="10.6" height="10.6" fill="#656565"/>
<rect x="1626" y="264" width="10.6" height="10.6" fill="#656565"/>
<rect x="1636" y="264" width="10.6" height="10.6" fill="#656565"/>
<rect x="1646" y="264" width="10.6" height="10.6" fill="#656565"/>
<rect x="1656" y="264" width="10.6" height="10.6" fill="#656565"/>
<rect x="1666" y="264" width="10.6" height="10.6" fill="#646464"/>
<rect x="1676" y="264" width="10.6" height="10.6" fill="#646464"/>
<rect x="1686" y="264" width="10.6" height="10.6" fill="#636363"/>
<rect x="1696" y="264" width="10.6" height="10.6" fill="#636363"/>
<rect x="1706" y="264" width="10.6" height="10.6" fill="#636363"/>
<rect x="1716" y="264" width="10.6" height="10.6" fill="#626262"/>
<rect x="1726" y="264" width="10.6" height="10.6" fill="#626262"/>
<rect x="1736" y="264" width="10.6" height="10.6" fill="#626262"/>
<rect x="1746" y="264" width="10.6" height="10.6" fill="#616161"/>
<rect x="1756" y="264" width="10.6" height="10.6" fill="#616161"/>
<rect x="1766" y="264" width="10.6" height="10.6" fill="#606060"/>
<rect x="1776" y="264" width="10.6" height="10.6" fill="#606060"/>
<rect x="1786" y="264" width="10.6" height="10.6" fill="#606060"/>
<rect x="1796" y="264" width="10.6" height="10.6" fill="#5f5f5f"/>
<rect x="1806" y="264" width="10.6" height="10.6" fill="#5f5f5f"/>
<rect x="1816" y="264" width="10.6" height="10.6" fill="#5f5f5f"/>
<rect x="1396" y="274" width="10.6" height="10.6" fill="#5a5a5a"/>
<rect x="1406" y="274" width="10.6" height="10.6" fill="#5a5a5a"/>
<rect x="1416" y="274" width="10.6" height="10.6" fill="#5b5b5b"/>
<rect x="1426" y="274" width="10.6" height="10.6" fill="#5c5c5c"/>
<rect x="1436" y="274" width="10.6" height="10.6" fill="#5d5d5d"/>
<rect x="1446" y="274" width="10.6" height="10.6" fill="#5e5e5e"/>
<rect x="1456" y="274" width="10.6" height="10.6" fill="#5e5e5e"/>
<rect x="1466" y="274" width="10.6" height="10.6" fill="#5f5f5f"/>
<rect x="1476" y="274" width="10.6" height="10.6" fill="#606060"/>
<rect x="1486" y="274" width="10.6" height="10.6" fill="#606060"/>
<rect x="1496" y="274" width="10.6" height="10.6" fill="#616161"/>
<rect x="1506" y="274" width="10.6" height="10.6" fill="#616161"/>
<rect x="1516" y="274" width="10.6" height="10.6" fill="#626262"/>
<rect x="1526" y="274" width="10.6" height="10.6" fill="#626262"/>
<rect x="1536" y="274" width="10.6" height="10.6" fill="#636363"/>
<rect x="1546" y="274" width="10.6" height="10.6" fill="#636363"/>
<rect x="1556" y="274" width="10.6" height="10.6" fill="#636363"/>
<rect x="1566" y="274" width="10.6" height="10.6" fill="#636363"/>
<rect x="1576" y="274" width="10.6" height="10.6" fill="#646464"/>
<rect x="1586" y="274" width="10.6" height="10.6" fill="#646464"/>
<rect x="1596" y="274" width="10.6" height="10.6" fill="#646464"/>
<rect x="1606" y="274" width="10.6" height="10.6" fill="#646464"/>
<rect x="1616" y="274" width="10.6" height="10.6" fill="#646464"/>
<rect x="1626" y="274" width="10.6" height="10.6" fill="#646464"/>
<rect x="1636" y="274" width="10.6" height="10.6" fill="#646464"/>
<rect x="1646" y="274" width="10.6" height="10.6" fill="#646464"/>
<rect x="1656" y="274" width="10.6" height="10.6" fill="#646464"/>
<rect x="1666" y="274" width="10.6" height="10.6" fill="#646464"/>
<rect x="1676" y="274" width="10.6" height="10.6" fill="#636363"/>
<rect x="1686" y="274" width="10.6" height="10.6" fill="#636363"/>
<rect x="1696" y="274" width="10.6" height="10.6" fill="#626262"/>
<rect x="1706" y="274" width="10.6" height="10.6" fill="#626262"/>
<rect x="1716" y="274" width="10.6" height="10.6" fill="#626262"/>
<rect x="1726" y="274" width="10.6" height="10.6" fill="#626262"/>
<rect x="1736" y="274" width="10.6" height="10.6" fill="#616161"/>
<rect x="1746" y="274" width="10.6" height="10.6" fill="#616161"/>
<rect x="1756" y="274" width="10.6" height="10.6" fill="#606060"/>
<rect x="1766" y="274" width="10.6" height="10.6" fill="#606060"/>
<rect x="1776" y="274" width="10.6" height="10.6" fill="#606060"/>
<rect x="1786" y="274" width="10.6" height="10.6" fill="#5f5f5f"/>
<rect x="1796" y="274" width="10.6" height="10.6" fill="#5f5f5f"/>
<rect x="1806" y="274" width="10.6" height="10.6" fill="#5f5f5f"/>
<rect x="1816" y="274" width="10.6" height="10.6" fill="#5f5f5f"/>
<rect x="1396" y="284" width="10.6" height="10.6" fill="#5a5a5a"/>
<rect x="1406" y="284" width="10.6" height="10.6" fill="#5a5a5a"/>
<rect x="1416" y="284" width="10.6" height="10.6" fill="#5b5b5b"/>
<rect x="1426" y="284" width="10.6" height="10.6" fill="#5c5c5c"/>
<rect x="1436" y="284" width="10.6" height="10.6" fill="#5d5d5d"/>
<rect x="1446" y="284" width="10.6" height="10.6" fill="#5d5d5d"/>
<rect x="1456" y="284" width="10.6" height="10.6" fill="#5e5e5e"/>
<rect x="1466" y="284" width="10.6" height="10.6" fill="#5f5f5f"/>
<rect x="1476" y="284" width="10.6" height="10.6" fill="#5f5f5f"/>
<rect x="1486" y="284" width="10.6" height="10.6" fill="#606060"/>
<rect x="1496" y="284" width="10.6" height="10.6" fill="#606060"/>
<rect x="1506" y="284" width="10.6" height="10.6" fill="#616161"/>
<rect x="1516" y="284" width="10.6" height="10.6" fill="#616161"/>
<rect x="1526" y="284" width="10.6" height="10.6" fill="#626262"/>
<rect x="1536" y="284" width="10.6" height="10.6" fill="#626262"/>
<rect x="1546" y="284" width="10.6" height="10.6" fill="#626262"/>
<rect x="1556" y="284" width="10.6" height="10.6" fill="#636363"/>
<rect x="1566" y="284" width="10.6" height="10.6" fill="#636363"/>
<rect x="1576" y="284" width="10.6" height="10.6" fill="#636363"/>
<rect x="1586" y="284" width="10.6" height="10.6" fill="#636363"/>
<rect x="1596" y="284" width="10.6" height="10.6" fill="#646464"/>
<rect x="1606" y="284" width="10.6" height="10.6" fill="#646464"/>
<rect x="1616" y="284" width="10.6" height="10.6" fill="#646464"/>
<rect x="1626" y="284" width="10.6" height="10.6" fill="#646464"/>
<rect x="1636" y="284" width="10.6" height="10.6" fill="#646464"/>
<rect x="1646" y="284" width="10.6" height="10.6" fill="#646464"/>
<rect x="1656" y="284" width="10.6" height="10.6" fill="#646464"/>
<rect x="1666" y="284" width="10.6" height="10.6" fill="#636363"/>
<rect x="1676" y="284" width="10.6" height="10.6" fill="#636363"/>
<rect x="1686" y="284" width="10.6" height="10.6" fill="#626262"/>
<rect x="1696" y="284" width="10.6" height="10.6" fill="#626262"/>
<rect x="1706" y="284" width="10.6" height="10.6" fill="#626262"/>
<rect x="1716" y="284" width="10.6" height="10.6" fill="#616161"/>
<rect x="1726" y="284" width="10.6" height="10.6" fill="#616161"/>
<rect x="1736" y="284" width="10.6" height="10.6" fill="#616161"/>
<rect x="1746" y="284" width="10.6" height="10.6" fill="#616161"/>
<rect x="1756" y="284" width="10.6" height="10.6" fill="#606060"/>
<rect x="1766" y="284" width="10.6" height="10.6" fill="#606060"/>
<rect x="1776" y="284" width="10.6" height="10.6" fill="#5f5f5f"/>
<rect x="1786" y="284" width="10.6" height="10.6" fill="#5f5f5f"/>
<rect x="1796" y="284" width="10.6" height="10.6" fill="#5f5f5f"/>
<rect x="1806" y="284" width="10.6" height="10.6" fill="#5f5f5f"/>
<rect x="1816" y="284" width="10.6" height="10.6" fill="#5f5f5f"/>
<rect x="1396" y="294" width="10.6" height="10.6" fill="#5a5a5a"/>
<rect x="1406" y="294" width="10.6" height="10.6" fill="#5a5a5a"/>
<rect x="1416" y="294" width="10.6" height="10.6" fill="#5b5b5b"/>
<rect x="1426" y="294" width="10.6" height="10.6" fill="#5c5c5c"/>
<rect x="1436" y="294" width="10.6" height="10.6" fill="#5c5c5c"/>
<rect x="1446" y="294" width="10.6" height="10.6" fill="#5d5d5d"/>
<rect x="1456" y="294" width="10.6" height="10.6" fill="#5e5e5e"/>
<rect x="1466" y="294" width="10.6" height="10.6" fill="#5e5e5e"/>
<rect x="1476" y="294" width="10.6" height="10.6" fill="#5f5f5f"/>
<rect x="1486" y="294" width="10.6" height="10.6" fill="#5f5f5f"/>
<rect x="1496" y="294" width="10.6" height="10.6" fill="#606060"/>
<rect x="1506" y="294" width="10.6" height="10.6" fill="#606060"/>
<rect x="1516" y="294" width="10.6" height="10.6" fill="#616161"/>
<rect x="1526" y="294" width="10.6" height="10.6" fill="#616161"/>
<rect x="1536" y="294" width="10.6" height="10.6" fill="#616161"/>
<rect x="1546" y="294" width="10.6" height="10.6" fill="#626262"/>
<rect x="1556" y="294" width="10.6" height="10.6" fill="#626262"/>
<rect x="1566" y="294" width="10.6" height="10.6" fill="#626262"/>
<rect x="1576" y="294" width="10.6" height="10.6" fill="#636363"/>
<rect x="1586" y="294" width="10.6" height="10.6" fill="#636363"/>
<rect x="1596" y="294" width="10.6" height="10.6" fill="#636363"/>
<rect x="1606" y="294" width="10.6" height="10.6" fill="#636363"/>
<rect x="1616" y="294" width="10.6" height="10.6" fill="#636363"/>
<rect x="1626" y="294" width="10.6" height="10.6" fill="#636363"/>
<rect x="1636" y="294" width="10.6" height="10.6" fill="#636363"/>
<rect x="1646" y="294" width="10.6" height="10.6" fill="#636363"/>
<rect x="1656" y="294" width="10.6" height="10.6" fill="#636363"/>
<rect x="1666" y="294" width="10.6" height="10.6" fill="#626262"/>
<rect x="1676" y="294" width="10.6" height="10.6" fill="#626262"/>
<rect x="1686" y="294" width="10.6" height="10.6" fill="#616161"/>
<rect x="1696" y="294" width="10.6" height="10.6" fill="#616161"/>
<rect x="1706" y="294" width="10.6" height="10.6" fill="#616161"/>
<rect x="1716" y="294" width="10.6" height="10.6" fill="#616161"/>
<rect x="1726" y="294" width="10.6" height="10.6" fill="#616161"/>
<rect x="1736" y="294" width="10.6" height="10.6" fill="#616161"/>
<rect x="1746" y="294" width="10.6" height="10.6" fill="#606060"/>
<rect x="1756" y="294" width="10.6" height="10.6" fill="#606060"/>
<rect x="1766" y="294" width="10.6" height="10.6" fill="#5f5f5f"/>
<rect x="1776" y="294" width="10.6" height="10.6" fill="#5f5f5f"/>
<rect x="1786" y="294" width="10.6" height="10.6" fill="#5f5f5f"/>
<rect x="1796" y="294" width="10.6" height="10.6" fill="#5e5e5e"/>
<rect x="1806" y="294" width="10.6" height="10.6" fill="#5e5e5e"/>
<rect x="1816" y="294" width="10.6" height="10.6" fill="#5e5e5e"/>
<rect x="1396" y="304" width="10.6" height="10.6" fill="#5a5a5a"/>
<rect x="1406" y="304" width="10.6" height="10.6" fill="#5a5a5a"/>
<rect x="1416" y="304" width="10.6" height="10.6" fill="#5b5b5b"/>
<rect x="1426" y="304" width="10.6" height="10.6" fill="#5c5c5c"/>
<rect x="1436" y="304" width="10.6" height="10.6" fill="#5c5c5c"/>
<rect x="1446" y="304" width="10.6" height="10.6" fill="#5d5d5d"/>
<rect x="1456" y="304" width="10.6" height="10.6" fill="#5d5d5d"/>
<rect x="1466" y="304" width="10.6" height="10.6" fill="#5e5e5e"/>
<rect x="1476" y="304" width="10.6" height="10.6" fill="#5e5e5e"/>
<rect x="1486" y="304" width="10.6" height="10.6" fill="#5f5f5f"/>
<rect x="1496" y="304" width="10.6" height="10.6" fill="#5f5f5f"/>
<rect x="1506" y="304" width="10.6" height="10.6" fill="#606060"/>
<rect x="1516" y="304" width="10.6" height="10.6" fill="#606060"/>
<rect x="1526" y="304" width="10.6" height="10.6" fill="#606060"/>
<rect x="1536" y="304" width="10.6" height="10.6" fill="#616161"/>
<rect x="1546" y="304" width="10.6" height="10.6" fill="#616161"/>
<rect x="1556" y="304" width="10.6" height="10.6" fill="#616161"/>
<rect x="1566" y="304" width="10.6" height="10.6" fill="#626262"/>
<rect x="1576" y="304" width="10.6" height="10.6" fill="#626262"/>
<rect x="1586" y="304" width="10.6" height="10.6" fill="#626262"/>
<rect x="1596" y="304" width="10.6" height="10.6" fill="#626262"/>
<rect x="1606" y="304" width="10.6" height="10.6" fill="#626262"/>
<rect x="1616" y="304" width="10.6" height="10.6" fill="#626262"/>
<rect x="1626" y="304" width="10.6" height="10.6" fill="#626262"/>
<rect x="1636" y="304" width="10.6" height="10.6" fill="#626262"/>
<rect x="1646" y="304" width="10.6" height="10.6" fill="#626262"/>
<rect x="1656" y="304" width="10.6" height="10.6" fill="#626262"/>
<rect x="1666" y="304" width="10.6" height="10.6" fill="#626262"/>
<rect x="1676" y="304" width="10.6" height="10.6" fill="#616161"/>
<rect x="1686" y="304" width="10.6" height="10.6" fill="#616161"/>
<rect x="1696" y="304" width="10.6" height="10.6" fill="#606060"/>
<rect x="1706" y="304" width="10.6" height="10.6" fill="#606060"/>
<rect x="1716" y="304" width="10.6" height="10.6" fill="#606060"/>
<rect x="1726" y="304" width="10.6" height="10.6" fill="#606060"/>
<rect x="1736" y="304" width="10.6" height="10.6" fill="#606060"/>
<rect x="1746" y="304" width="10.6" height="10.6" fill="#606060"/>
<rect x="1756" y="304" width="10.6" height="10.6" fill="#5f5f5f"/>
<rect x="1766" y="304" width="10.6" height="10.6" fill="#5f5f5f"/>
<rect x="1776" y="304" width="10.6" height="10.6" fill="#5e5e5e"/>
<rect x="1786" y="304" width="10.6" height="10.6" fill="#5e5e5e"/>
<rect x="1796" y="304" width="10.6" height="10.6" fill="#5e5e5e"/>
<rect x="1806" y="304" width="10.6" height="10.6" fill="#5e5e5e"/>
<rect x="1816" y="304" width="10.6" height="10.6" fill="#5e5e5e"/>
<rect x="1396" y="314" width="10.6" height="10.6" fill="#5a5a5a"/>
<rect x="1406" y="314" width="10.6" height="10.6" fill="#5a5a5a"/>
<rect x="1416" y="314" width="10.6" height="10.6" fill="#5b5b5b"/>
<rect x="1426" y="314" width="10.6" height="10.6" fill="#5b5b5b"/>
<rect x="1436" y="314" width="10.6" height="10.6" fill="#5c5c5c"/>
<rect x="1446" y="314" width="10.6" height="10.6" fill="#5d5d5d"/>
<rect x="1456" y="314" width="10.6" height="10.6" fill="#5d5d5d"/>
<rect x="1466" y="314" width="10.6" height="10.6" fill="#5e5e5e"/>
<rect x="1476" y="314" width="10.6" height="10.6" fill="#5e5e5e"/>
<rect x="1486" y="314" width="10.6" height="10.6" fill="#5e5e5e"/>
<rect x="1496" y="314" width="10.6" height="10.6" fill="#5f5f5f"/>
<rect x="1506" y="314" width="10.6" height="10.6" fill="#5f5f5f"/>
<rect x="1516" y="314" width="10.6" height="10.6" fill="#606060"/>
<rect x="1526" y="314" width="10.6" height="10.6" fill="#606060"/>
<rect x="1536" y="314" width="10.6" height="10.6" fill="#606060"/>
<rect x="1546" y="314" width="10.6" height="10.6" fill="#616161"/>
<rect x="1556" y="314" width="10.6" height="10.6" fill="#616161"/>
<rect x="1566" y="314" width="10.6" height="10.6" fill="#616161"/>
<rect x="1576" y="314" width="10.6" height="10.6" fill="#616161"/>
<rect x="1586" y="314" width="10.6" height="10.6" fill="#626262"/>
<rect x="1596" y="314" width="10.6" height="10.6" fill="#626262"/>
<rect x="1606" y="314" width="10.6" height="10.6" fill="#626262"/>
<rect x="1616" y="314" width="10.6" height="10.6" fill="#626262"/>
<rect x="1626" y="314" width="10.6" height="10.6" fill="#626262"/>
<rect x="1636" y="314" width="10.6" height="10.6" fill="#626262"/>
<rect x="1646" y="314" width="10.6" height="10.6" fill="#626262"/>
<rect x="1656" y="314" width="10.6" height="10.6" fill="#626262"/>
<rect x="1666" y="314" width="10.6" height="10.6" fill="#616161"/>
<rect x="1676" y="314" width="10.6" height="10.6" fill="#616161"/>
<rect x="1686" y="314" width="10.6" height="10.6" fill="#606060"/>
<rect x="1696" y="314" width="10.6" height="10.6" fill="#606060"/>
<rect x="1706" y="314" width="10.6" height="10.6" fill="#606060"/>
<rect x="1716" y="314" width="10.6" height="10.6" fill="#606060"/>
<rect x="1726" y="314" width="10.6" height="10.6" fill="#606060"/>
<rect x="1736" y="314" width="10.6" height="10.6" fill="#606060"/>
<rect x="1746" y="314" width="10.6" height="10.6" fill="#5f5f5f"/>
<rect x="1756" y="314" width="10.6" height="10.6" fill="#5f5f5f"/>
<rect x="1766" y="314" width="10.6" height="10.6" fill="#5e5e5e"/>
<rect x="1776" y="314" width="10.6" height="10.6" fill="#5e5e5e"/>
<rect x="1786" y="314" width="10.6" height="10.6" fill="#5e5e5e"/>
<rect x="1796" y="314" width="10.6" height="10.6" fill="#5e5e5e"/>
<rect x="1806" y="314" width="10.6" height="10.6" fill="#5e5e5e"/>
<rect x="1816" y="314" width="10.6" height="10.6" fill="#5e5e5e"/>
<rect x="1396" y="324" width="10.6" height="10.6" fill="#5a5a5a"/>
<rect x="1406" y="324" width="10.6" height="10.6" fill="#5a5a5a"/>
<rect x="1416" y="324" width="10.6" height="10.6" fill="#5b5b5b"/>
<rect x="1426" y="324" width="10.6" height="10.6" fill="#5b5b5b"/>
<rect x="1436" y="324" width="10.6" height="10.6" fill="#5c5c5c"/>
<rect x="1446" y="324" width="10.6" height="10.6" fill="#5d5d5d"/>
<rect x="1456" y="324" width="10.6" height="10.6" fill="#5d5d5d"/>
<rect x="1466" y="324" width="10.6" height="10.6" fill="#5e5e5e"/>
<rect x="1476" y="324" width="10.6" height="10.6" fill="#5e5e5e"/>
<rect x="1486" y="324" width="10.6" height="10.6" fill="#5e5e5e"/>
<rect x="1496" y="324" width="10.6" height="10.6" fill="#5f5f5f"/>
<rect x="1506" y="324" width="10.6" height="10.6" fill="#5f5f5f"/>
<rect x="1516" y="324" width="10.6" height="10.6" fill="#606060"/>
<rect x="1526" y="324" width="10.6" height="10.6" fill="#606060"/>
<rect x="1536" y="324" width="10.6" height="10.6" fill="#606060"/>
<rect x="1546" y="324" width="10.6" height="10.6" fill="#616161"/>
<rect x="1556" y="324" width="10.6" height="10.6" fill="#616161"/>
<rect x="1566" y="324" width="10.6" height="10.6" fill="#616161"/>
<rect x="1576" y="324" width="10.6" height="10.6" fill="#616161"/>
<rect x="1586" y="324" width="10.6" height="10.6" fill="#626262"/>
<rect x="1596" y="324" width="10.6" height="10.6" fill="#626262"/>
<rect x="1606" y="324" width="10.6" height="10.6" fill="#626262"/>
<rect x="1616" y="324" width="10.6" height="10.6" fill="#626262"/>
<rect x="1626" y="324" width="10.6" height="10.6" fill="#626262"/>
<rect x="1636" y="324" width="10.6" height="10.6" fill="#626262"/>
<rect x="1646" y="324" width="10.6" height="10.6" fill="#626262"/>
<rect x="1656" y="324" width="10.6" height="10.6" fill="#626262"/>
<rect x="1666" y="324" width="10.6" height="10.6" fill="#616161"/>
<rect x="1676" y="324" width="10.6" height="10.6" fill="#616161"/>
<rect x="1686" y="324" width="10.6" height="10.6" fill="#606060"/>
<rect x="1696" y="324" width="10.6" height="10.6" fill="#606060"/>
<rect x="1706" y="324" width="10.6" height="10.6" fill="#606060"/>
<rect x="1716" y="324" width="10.6" height="10.6" fill="#606060"/>
<rect x="1726" y="324" width="10.6" height="10.6" fill="#606060"/>
<rect x="1736" y="324" width="10.6" height="10.6" fill="#606060"/>
<rect x="1746" y="324" width="10.6" height="10.6" fill="#5f5f5f"/>
<rect x="1756" y="324" width="10.6" height="10.6" fill="#5f5f5f"/>
<rect x="1766" y="324" width="10.6" height="10.6" fill="#5e5e5e"/>
<rect x="1776" y="324" width="10.6" height="10.6" fill="#5e5e5e"/>
<rect x="1786" y="324" width="10.6" height="10.6" fill="#5e5e5e"/>
<rect x="1796" y="324" width="10.6" height="10.6" fill="#5e5e5e"/>
<rect x="1806" y="324" width="10.6" height="10.6" fill="#5e5e5e"/>
<rect x="1816" y="324" width="10.6" height="10.6" fill="#5e5e5e"/></g>
<!-- rod -->
<g filter="url(#soft)">
 <polygon points="1406,153.9 1470,139.3 1533.4,124.9 1551,133.6 1551,138 1470,161.4 1406,180" fill="#7b857f"/>
 <polygon points="1406,153.9 1470,139.3 1533.4,124.9 1550.8,133.6 1470,153.8 1406,169.8" fill="#ece6e0"/>
 <polygon points="1533.4,119 1548,116.5 1552.3,133.6 1537,136.5" fill="#cdbba0"/>
 <polygon points="1552.3,115.5 1594,109 1623,103.2 1655,98.8 1655,101.7 1623,113.3 1594,127.8 1558,136.5" fill="#d8d2cb"/>
 <polygon points="1560,119 1600,112 1630,106 1600,118 1562,126" fill="#efebe6" opacity="0.7"/>
</g>
<!-- glove -->
<g filter="url(#soft)">
 <path d="M1705.3,61.1 C1709,59 1714,58.3 1719.2,58.3 C1730,58 1740,59 1749.7,61.1 C1760,64 1770,68 1780.2,72.2 C1792,77 1802,81 1811.5,86 L1811.5,316 L1742,316 C1734,310 1727,304 1722.5,297 C1718,290 1716,283 1716,277 C1716,270 1718,265 1722,261 C1730,256 1738,252 1741.4,246.8 C1746,241 1748,237 1749.7,233 C1751,227 1752,222 1752.5,216.3 C1753,210 1753,203 1752.5,196.9 C1752,190 1751,183 1749.7,177.5 C1748,172 1746,166 1744.2,160.9 C1742,155 1740,150 1738.6,144.3 C1737,138 1737,133 1735.8,127.6 C1734,122 1733,118 1730.3,113.8 C1727,110 1724,108 1722,105.4 C1719,102 1717,99 1716.4,97.1 C1715,90 1715,85 1713.7,80.5 C1712,76 1710,73 1708.1,70.8 C1707,66 1706,63 1705.3,61.1 Z" fill="url(#glove)"/>
 <path d="M1716,60 C1745,60 1775,70 1805,86 C1795,100 1775,110 1752,104 C1738,95 1726,80 1716,60 Z" fill="#80cce2" opacity="0.5"/>
 <path d="M1760,190 C1780,184 1800,186 1811.5,192 L1811.5,228 C1795,226 1775,226 1760,222 Z" fill="#4aa4c4" opacity="0.5"/>
 <path d="M1752,168 C1772,166 1795,170 1811.5,174 L1811.5,182 C1795,178 1772,176 1754,180 Z" fill="#1f5f78" opacity="0.75"/>
 <path d="M1750,234 C1772,230 1795,234 1811.5,240 L1811.5,246 C1795,240 1772,238 1752,242 Z" fill="#2a7490" opacity="0.6"/>
 <path d="M1720,262 C1732,270 1744,280 1762,290 C1742,292 1730,286 1720,276 Z" fill="#2f86b0" opacity="0.45"/>
 <path d="M1740,55.5 C1746,54 1751,57 1755,64 C1758,71 1760,78 1761,86 L1756,87 C1754,79 1751,70 1747,63 C1745,60 1742,59 1740,59 Z" fill="#c8a2a0"/>
</g>
<!-- mouse c -->
<g filter="url(#soft)">
 <path d="M1674.9,227.4 C1668,234 1662,240 1652,244 L1654,251 C1664,248 1672,242 1680,235 Z" fill="#3e3026"/>
 <path d="M1643.8,94.4 C1644.5,88 1645,84 1645.7,80.5 C1648,77 1651,76 1655.4,75 C1662,72 1670,69 1677.6,68 C1684,67 1691,66 1697,66.6 C1701,67 1705,68 1708.1,70.8 C1711,74 1713,77 1713.7,80.5 C1715,86 1715.5,92 1716.4,97.1 C1718,101 1720,103 1722,105.4 C1725,108 1728,111 1730.3,113.8 C1733,118 1734,123 1735.8,127.6 C1737,133 1738,139 1738.6,144.3 C1740,150 1742,155 1744.2,160.9 C1746,166 1748,172 1749.7,177.5 C1751,184 1752,190 1752.5,196.9 C1753,203 1753,210 1752.5,216.3 C1752,222 1751,228 1749.7,233 C1747,238 1745,243 1741.4,246.8 C1737,251 1732,254 1727.5,255.2 C1722,256 1716,256 1710.9,255.2 C1705,254 1699,252 1694.3,249.6 C1689,247 1684,244 1680.4,241.3 C1676,238 1672,236 1669.3,233 C1667,228 1665,222 1663.8,216.3 C1662,210 1661,205 1659.6,199.7 C1658,193 1657,187 1655.4,180.3 C1654,174 1652,167 1651.3,160.9 C1650,155 1648,149 1645.7,144.3 C1644,140 1642,137 1641.6,133.2 C1641.5,128 1642,124 1643,119.3 C1644,114 1644.5,110 1644.4,105.4 C1644,101 1643.6,97 1643.8,94.4 Z" fill="url(#mc)"/>
 <path d="M1650,82 C1660,72 1685,66 1706,70 C1712,78 1712,88 1700,96 C1685,100 1665,98 1652,92 Z" fill="#4b3a2c" opacity="0.65"/>
 <path d="M1665,112 C1690,104 1715,108 1728,118 C1715,126 1690,124 1668,122 Z" fill="#4a3a2c" opacity="0.5"/>
 <path d="M1645,84 C1650,79 1658,79 1662,84 C1663,90 1658,95 1650,95 C1646,93 1644,89 1645,84 Z" fill="#7f5445"/>
 <ellipse cx="1705" cy="72" rx="6" ry="4" fill="#9a7460"/>
 <circle cx="1679" cy="78.6" r="2.2" fill="#140d0a"/>
 <path d="M1616.6,150 C1624,146 1634,144 1645,144 L1646,153 C1636,154 1626,156 1618,156 Z" fill="#d6a69b"/>
 <path d="M1694.3,128 C1700,122 1710,121 1719,124 C1717,131 1708,134 1697,134 Z" fill="#dbad9f"/>
 <path d="M1699.8,218 C1710,213 1724,218 1730.3,229 C1726,236 1714,235 1702,227 Z" fill="#d8a497"/>
 <path d="M1627.7,254 C1635,247 1645,243 1655,242 L1656,250 C1648,254 1638,258 1630,259 Z" fill="#d2a092"/>
</g>

</g>
<text x="1.7" y="32.7" font-size="38.5" font-weight="bold" stroke="#000" stroke-width="1.7" paint-order="stroke" textLength="19.5" lengthAdjust="spacingAndGlyphs">a</text>
<text x="729.8" y="33.4" font-size="38.5" font-weight="bold" stroke="#000" stroke-width="1.7" paint-order="stroke" textLength="25.4" lengthAdjust="spacingAndGlyphs">b</text>
<text x="1371.4" y="32.7" font-size="38.5" font-weight="bold" stroke="#000" stroke-width="1.7" paint-order="stroke" textLength="23.3" lengthAdjust="spacingAndGlyphs">c</text>
<text x="1.3" y="397.6" font-size="38.5" font-weight="bold" stroke="#000" stroke-width="1.7" paint-order="stroke" textLength="25.9" lengthAdjust="spacingAndGlyphs">d</text>
<text x="1286.9" y="397.8" font-size="38.5" font-weight="bold" stroke="#000" stroke-width="1.7" paint-order="stroke" textLength="23.6" lengthAdjust="spacingAndGlyphs">e</text>
<line x1="87.50" y1="209.60" x2="632.00" y2="209.60" stroke="#3e4c62" stroke-width="4.3" />
<polygon points="627.2,202.6 643.9,209.6 627.2,216.6 630.6,209.6" fill="#3e4c62"/>
<rect x="213.45" y="129.00" width="4.30" height="66.00" fill="#3e4c62" />
<polygon points="208.6,191 215.6,207.4 222.6,191 215.6,194.5" fill="#3e4c62"/>
<rect x="328.15" y="129.00" width="4.30" height="66.00" fill="#3e4c62" />
<polygon points="323.3,191 330.3,207.4 337.3,191 330.3,194.5" fill="#3e4c62"/>
<rect x="441.95" y="129.00" width="4.30" height="66.00" fill="#3e4c62" />
<polygon points="437.1,191 444.1,207.4 451.1,191 444.1,194.5" fill="#3e4c62"/>
<rect x="554.70" y="129.00" width="4.80" height="66.00" fill="#c40a12" />
<polygon points="549.9,190.9 557.1,207.6 564.3000000000001,190.9 557.1,194.2" fill="#c40a12"/>
<text x="330.2" y="98.9" font-size="23" text-anchor="middle" textLength="87" lengthAdjust="spacingAndGlyphs">Training</text>
<text x="556.1" y="98.9" font-size="23" text-anchor="middle" fill="#c40a12" textLength="75" lengthAdjust="spacingAndGlyphs">1× TAM</text>
<text x="215.0" y="254.8" font-size="24" text-anchor="middle" textLength="22.9" lengthAdjust="spacingAndGlyphs">d1</text>
<text x="330.3" y="254.8" font-size="24" text-anchor="middle">d2</text>
<text x="444.1" y="254.8" font-size="24" text-anchor="middle">d3</text>
<text x="557.0" y="254.8" font-size="24" text-anchor="middle" fill="#c40a12">d4</text>
<text x="296.1" y="425.8" font-size="27.5" text-anchor="middle" textLength="37.5" lengthAdjust="spacingAndGlyphs">Oil</text>
<text transform="translate(77.9,601.5) rotate(-90)" font-size="27.5" text-anchor="middle" textLength="247.8" lengthAdjust="spacingAndGlyphs">Percentage of mice</text>
<line x1="163.50" y1="469.90" x2="163.50" y2="735.00" stroke="#000" stroke-width="1.3" />
<line x1="152.10" y1="734.30" x2="429.50" y2="734.30" stroke="#000" stroke-width="1.3" />
<line x1="157.30" y1="721.08" x2="163.50" y2="721.08" stroke="#000" stroke-width="1.3" />
<line x1="157.30" y1="707.86" x2="163.50" y2="707.86" stroke="#000" stroke-width="1.3" />
<line x1="157.30" y1="694.64" x2="163.50" y2="694.64" stroke="#000" stroke-width="1.3" />
<line x1="157.30" y1="681.42" x2="163.50" y2="681.42" stroke="#000" stroke-width="1.3" />
<line x1="152.10" y1="668.20" x2="163.50" y2="668.20" stroke="#000" stroke-width="1.3" />
<line x1="157.30" y1="654.98" x2="163.50" y2="654.98" stroke="#000" stroke-width="1.3" />
<line x1="157.30" y1="641.76" x2="163.50" y2="641.76" stroke="#000" stroke-width="1.3" />
<line x1="157.30" y1="628.54" x2="163.50" y2="628.54" stroke="#000" stroke-width="1.3" />
<line x1="157.30" y1="615.32" x2="163.50" y2="615.32" stroke="#000" stroke-width="1.3" />
<line x1="152.10" y1="602.10" x2="163.50" y2="602.10" stroke="#000" stroke-width="1.3" />
<line x1="157.30" y1="588.88" x2="163.50" y2="588.88" stroke="#000" stroke-width="1.3" />
<line x1="157.30" y1="575.66" x2="163.50" y2="575.66" stroke="#000" stroke-width="1.3" />
<line x1="157.30" y1="562.44" x2="163.50" y2="562.44" stroke="#000" stroke-width="1.3" />
<line x1="157.30" y1="549.22" x2="163.50" y2="549.22" stroke="#000" stroke-width="1.3" />
<line x1="152.10" y1="536.00" x2="163.50" y2="536.00" stroke="#000" stroke-width="1.3" />
<line x1="157.30" y1="522.78" x2="163.50" y2="522.78" stroke="#000" stroke-width="1.3" />
<line x1="157.30" y1="509.56" x2="163.50" y2="509.56" stroke="#000" stroke-width="1.3" />
<line x1="157.30" y1="496.34" x2="163.50" y2="496.34" stroke="#000" stroke-width="1.3" />
<line x1="157.30" y1="483.12" x2="163.50" y2="483.12" stroke="#000" stroke-width="1.3" />
<line x1="152.10" y1="469.90" x2="163.50" y2="469.90" stroke="#000" stroke-width="1.3" />
<text x="140.5" y="741.9" font-size="23.5" text-anchor="end">0</text>
<text x="140.5" y="675.8" font-size="23.5" text-anchor="end">25</text>
<text x="140.5" y="609.7" font-size="23.5" text-anchor="end">50</text>
<text x="140.5" y="543.6" font-size="23.5" text-anchor="end">75</text>
<text x="140.5" y="477.5" font-size="23.5" text-anchor="end">100</text>
<rect x="184.40" y="710.24" width="39.60" height="24.06" fill="#407c04" stroke="#000" stroke-width="1.3" />
<rect x="245.40" y="722.40" width="39.60" height="11.90" fill="#407c04" stroke="#000" stroke-width="1.3" />
<rect x="306.40" y="710.24" width="39.60" height="24.06" fill="#407c04" stroke="#000" stroke-width="1.3" />
<rect x="367.40" y="668.99" width="39.60" height="65.31" fill="#fffde0" stroke="#000" stroke-width="1.3" />
<line x1="172.50" y1="767.80" x2="424.70" y2="767.80" stroke="#000" stroke-width="1.3" />
<line x1="235.50" y1="734.30" x2="235.50" y2="801.30" stroke="#000" stroke-width="1.3" />
<line x1="298.20" y1="734.30" x2="298.20" y2="801.30" stroke="#000" stroke-width="1.3" />
<line x1="360.80" y1="734.30" x2="360.80" y2="801.30" stroke="#000" stroke-width="1.3" />
<text x="204.0" y="759.7" font-size="22.5" text-anchor="middle" textLength="22.4" lengthAdjust="spacingAndGlyphs">d1</text>
<text x="266.9" y="759.7" font-size="22.5" text-anchor="middle">d2</text>
<text x="329.5" y="759.7" font-size="22.5" text-anchor="middle">d3</text>
<text x="392.8" y="759.7" font-size="22.5" text-anchor="middle" textLength="10.6" lengthAdjust="spacingAndGlyphs">–</text>
<text x="204.0" y="792.6" font-size="22.5" text-anchor="middle" textLength="10.6" lengthAdjust="spacingAndGlyphs">–</text>
<text x="266.9" y="792.6" font-size="22.5" text-anchor="middle" textLength="10.6" lengthAdjust="spacingAndGlyphs">–</text>
<text x="329.5" y="792.6" font-size="22.5" text-anchor="middle" textLength="10.6" lengthAdjust="spacingAndGlyphs">–</text>
<text x="392.8" y="792.6" font-size="22.5" text-anchor="middle">d4</text>
<text x="699.7" y="425.8" font-size="27.5" text-anchor="middle" textLength="60.6" lengthAdjust="spacingAndGlyphs">MOE</text>
<text transform="translate(481.5,601.5) rotate(-90)" font-size="27.5" text-anchor="middle" textLength="247.8" lengthAdjust="spacingAndGlyphs">Percentage of mice</text>
<line x1="567.10" y1="469.90" x2="567.10" y2="735.00" stroke="#000" stroke-width="1.3" />
<line x1="555.70" y1="734.30" x2="833.10" y2="734.30" stroke="#000" stroke-width="1.3" />
<line x1="560.90" y1="721.08" x2="567.10" y2="721.08" stroke="#000" stroke-width="1.3" />
<line x1="560.90" y1="707.86" x2="567.10" y2="707.86" stroke="#000" stroke-width="1.3" />
<line x1="560.90" y1="694.64" x2="567.10" y2="694.64" stroke="#000" stroke-width="1.3" />
<line x1="560.90" y1="681.42" x2="567.10" y2="681.42" stroke="#000" stroke-width="1.3" />
<line x1="555.70" y1="668.20" x2="567.10" y2="668.20" stroke="#000" stroke-width="1.3" />
<line x1="560.90" y1="654.98" x2="567.10" y2="654.98" stroke="#000" stroke-width="1.3" />
<line x1="560.90" y1="641.76" x2="567.10" y2="641.76" stroke="#000" stroke-width="1.3" />
<line x1="560.90" y1="628.54" x2="567.10" y2="628.54" stroke="#000" stroke-width="1.3" />
<line x1="560.90" y1="615.32" x2="567.10" y2="615.32" stroke="#000" stroke-width="1.3" />
<line x1="555.70" y1="602.10" x2="567.10" y2="602.10" stroke="#000" stroke-width="1.3" />
<line x1="560.90" y1="588.88" x2="567.10" y2="588.88" stroke="#000" stroke-width="1.3" />
<line x1="560.90" y1="575.66" x2="567.10" y2="575.66" stroke="#000" stroke-width="1.3" />
<line x1="560.90" y1="562.44" x2="567.10" y2="562.44" stroke="#000" stroke-width="1.3" />
<line x1="560.90" y1="549.22" x2="567.10" y2="549.22" stroke="#000" stroke-width="1.3" />
<line x1="555.70" y1="536.00" x2="567.10" y2="536.00" stroke="#000" stroke-width="1.3" />
<line x1="560.90" y1="522.78" x2="567.10" y2="522.78" stroke="#000" stroke-width="1.3" />
<line x1="560.90" y1="509.56" x2="567.10" y2="509.56" stroke="#000" stroke-width="1.3" />
<line x1="560.90" y1="496.34" x2="567.10" y2="496.34" stroke="#000" stroke-width="1.3" />
<line x1="560.90" y1="483.12" x2="567.10" y2="483.12" stroke="#000" stroke-width="1.3" />
<line x1="555.70" y1="469.90" x2="567.10" y2="469.90" stroke="#000" stroke-width="1.3" />
<text x="544.1" y="741.9" font-size="23.5" text-anchor="end">0</text>
<text x="544.1" y="675.8" font-size="23.5" text-anchor="end">25</text>
<text x="544.1" y="609.7" font-size="23.5" text-anchor="end">50</text>
<text x="544.1" y="543.6" font-size="23.5" text-anchor="end">75</text>
<text x="544.1" y="477.5" font-size="23.5" text-anchor="end">100</text>
<rect x="588.00" y="576.72" width="39.60" height="157.58" fill="#407c04" stroke="#000" stroke-width="1.3" />
<rect x="649.00" y="546.05" width="39.60" height="188.25" fill="#407c04" stroke="#000" stroke-width="1.3" />
<rect x="710.00" y="541.29" width="39.60" height="193.01" fill="#407c04" stroke="#000" stroke-width="1.3" />
<rect x="771.00" y="570.37" width="39.60" height="163.93" fill="#8c8cff" stroke="#000" stroke-width="1.3" />
<line x1="574.10" y1="767.80" x2="826.30" y2="767.80" stroke="#000" stroke-width="1.3" />
<line x1="637.10" y1="734.30" x2="637.10" y2="801.30" stroke="#000" stroke-width="1.3" />
<line x1="699.80" y1="734.30" x2="699.80" y2="801.30" stroke="#000" stroke-width="1.3" />
<line x1="762.40" y1="734.30" x2="762.40" y2="801.30" stroke="#000" stroke-width="1.3" />
<text x="605.6" y="759.7" font-size="22.5" text-anchor="middle" textLength="22.4" lengthAdjust="spacingAndGlyphs">d1</text>
<text x="668.5" y="759.7" font-size="22.5" text-anchor="middle">d2</text>
<text x="731.1" y="759.7" font-size="22.5" text-anchor="middle">d3</text>
<text x="794.4" y="759.7" font-size="22.5" text-anchor="middle" textLength="10.6" lengthAdjust="spacingAndGlyphs">–</text>
<text x="605.6" y="792.6" font-size="22.5" text-anchor="middle" textLength="10.6" lengthAdjust="spacingAndGlyphs">–</text>
<text x="668.5" y="792.6" font-size="22.5" text-anchor="middle" textLength="10.6" lengthAdjust="spacingAndGlyphs">–</text>
<text x="731.1" y="792.6" font-size="22.5" text-anchor="middle" textLength="10.6" lengthAdjust="spacingAndGlyphs">–</text>
<text x="794.4" y="792.6" font-size="22.5" text-anchor="middle">d4</text>
<text x="1108.0" y="425.8" font-size="27.5" text-anchor="middle" textLength="55" lengthAdjust="spacingAndGlyphs">SOE</text>
<text transform="translate(889.8,601.5) rotate(-90)" font-size="27.5" text-anchor="middle" textLength="247.8" lengthAdjust="spacingAndGlyphs">Percentage of mice</text>
<line x1="975.40" y1="469.90" x2="975.40" y2="735.00" stroke="#000" stroke-width="1.3" />
<line x1="964.00" y1="734.30" x2="1241.40" y2="734.30" stroke="#000" stroke-width="1.3" />
<line x1="969.20" y1="721.08" x2="975.40" y2="721.08" stroke="#000" stroke-width="1.3" />
<line x1="969.20" y1="707.86" x2="975.40" y2="707.86" stroke="#000" stroke-width="1.3" />
<line x1="969.20" y1="694.64" x2="975.40" y2="694.64" stroke="#000" stroke-width="1.3" />
<line x1="969.20" y1="681.42" x2="975.40" y2="681.42" stroke="#000" stroke-width="1.3" />
<line x1="964.00" y1="668.20" x2="975.40" y2="668.20" stroke="#000" stroke-width="1.3" />
<line x1="969.20" y1="654.98" x2="975.40" y2="654.98" stroke="#000" stroke-width="1.3" />
<line x1="969.20" y1="641.76" x2="975.40" y2="641.76" stroke="#000" stroke-width="1.3" />
<line x1="969.20" y1="628.54" x2="975.40" y2="628.54" stroke="#000" stroke-width="1.3" />
<line x1="969.20" y1="615.32" x2="975.40" y2="615.32" stroke="#000" stroke-width="1.3" />
<line x1="964.00" y1="602.10" x2="975.40" y2="602.10" stroke="#000" stroke-width="1.3" />
<line x1="969.20" y1="588.88" x2="975.40" y2="588.88" stroke="#000" stroke-width="1.3" />
<line x1="969.20" y1="575.66" x2="975.40" y2="575.66" stroke="#000" stroke-width="1.3" />
<line x1="969.20" y1="562.44" x2="975.40" y2="562.44" stroke="#000" stroke-width="1.3" />
<line x1="969.20" y1="549.22" x2="975.40" y2="549.22" stroke="#000" stroke-width="1.3" />
<line x1="964.00" y1="536.00" x2="975.40" y2="536.00" stroke="#000" stroke-width="1.3" />
<line x1="969.20" y1="522.78" x2="975.40" y2="522.78" stroke="#000" stroke-width="1.3" />
<line x1="969.20" y1="509.56" x2="975.40" y2="509.56" stroke="#000" stroke-width="1.3" />
<line x1="969.20" y1="496.34" x2="975.40" y2="496.34" stroke="#000" stroke-width="1.3" />
<line x1="969.20" y1="483.12" x2="975.40" y2="483.12" stroke="#000" stroke-width="1.3" />
<line x1="964.00" y1="469.90" x2="975.40" y2="469.90" stroke="#000" stroke-width="1.3" />
<text x="952.4" y="741.9" font-size="23.5" text-anchor="end">0</text>
<text x="952.4" y="675.8" font-size="23.5" text-anchor="end">25</text>
<text x="952.4" y="609.7" font-size="23.5" text-anchor="end">50</text>
<text x="952.4" y="543.6" font-size="23.5" text-anchor="end">75</text>
<text x="952.4" y="477.5" font-size="23.5" text-anchor="end">100</text>
<rect x="996.30" y="573.81" width="39.60" height="160.49" fill="#407c04" stroke="#000" stroke-width="1.3" />
<rect x="1057.30" y="518.29" width="39.60" height="216.01" fill="#407c04" stroke="#000" stroke-width="1.3" />
<rect x="1118.30" y="510.09" width="39.60" height="224.21" fill="#407c04" stroke="#000" stroke-width="1.3" />
<rect x="1179.30" y="546.84" width="39.60" height="187.46" fill="#ffa040" stroke="#000" stroke-width="1.3" />
<line x1="983.10" y1="767.80" x2="1235.30" y2="767.80" stroke="#000" stroke-width="1.3" />
<line x1="1046.10" y1="734.30" x2="1046.10" y2="801.30" stroke="#000" stroke-width="1.3" />
<line x1="1108.80" y1="734.30" x2="1108.80" y2="801.30" stroke="#000" stroke-width="1.3" />
<line x1="1171.40" y1="734.30" x2="1171.40" y2="801.30" stroke="#000" stroke-width="1.3" />
<text x="1014.6" y="759.7" font-size="22.5" text-anchor="middle" textLength="22.4" lengthAdjust="spacingAndGlyphs">d1</text>
<text x="1077.5" y="759.7" font-size="22.5" text-anchor="middle">d2</text>
<text x="1140.1" y="759.7" font-size="22.5" text-anchor="middle">d3</text>
<text x="1203.3" y="759.7" font-size="22.5" text-anchor="middle" textLength="10.6" lengthAdjust="spacingAndGlyphs">–</text>
<text x="1014.6" y="792.6" font-size="22.5" text-anchor="middle" textLength="10.6" lengthAdjust="spacingAndGlyphs">–</text>
<text x="1077.5" y="792.6" font-size="22.5" text-anchor="middle" textLength="10.6" lengthAdjust="spacingAndGlyphs">–</text>
<text x="1140.1" y="792.6" font-size="22.5" text-anchor="middle" textLength="10.6" lengthAdjust="spacingAndGlyphs">–</text>
<text x="1203.3" y="792.6" font-size="22.5" text-anchor="middle">d4</text>
<text x="0.3" y="759.8" font-size="22.5" text-anchor="start" textLength="88" lengthAdjust="spacingAndGlyphs">Training</text>
<text x="0.3" y="792.9" font-size="22.5" text-anchor="start" textLength="158.6" lengthAdjust="spacingAndGlyphs">TAM treatment</text>
<rect x="1436.20" y="438.90" width="381.30" height="148.60" fill="#fde0e2" />
<line x1="1435.4" y1="587.50" x2="1816" y2="587.50" stroke="#fa2a2a" stroke-width="3.4" stroke-dasharray="0 8.8" stroke-linecap="round"/>
<line x1="1434.80" y1="440.20" x2="1434.80" y2="734.30" stroke="#000" stroke-width="1.6" />
<line x1="1422.20" y1="733.60" x2="1823.00" y2="733.60" stroke="#000" stroke-width="1.6" />
<line x1="1422.20" y1="733.60" x2="1434.80" y2="733.60" stroke="#000" stroke-width="1.5" />
<text x="1411.0" y="741.1" font-size="23.5" text-anchor="end">0</text>
<line x1="1422.20" y1="684.90" x2="1434.80" y2="684.90" stroke="#000" stroke-width="1.5" />
<text x="1411.0" y="692.4" font-size="23.5" text-anchor="end">20</text>
<line x1="1422.20" y1="636.20" x2="1434.80" y2="636.20" stroke="#000" stroke-width="1.5" />
<text x="1411.0" y="643.7" font-size="23.5" text-anchor="end">40</text>
<line x1="1422.20" y1="587.50" x2="1434.80" y2="587.50" stroke="#000" stroke-width="1.5" />
<text x="1411.0" y="595.0" font-size="23.5" text-anchor="end">60</text>
<line x1="1422.20" y1="538.80" x2="1434.80" y2="538.80" stroke="#000" stroke-width="1.5" />
<text x="1411.0" y="546.3" font-size="23.5" text-anchor="end">80</text>
<line x1="1422.20" y1="490.10" x2="1434.80" y2="490.10" stroke="#000" stroke-width="1.5" />
<text x="1411.0" y="497.6" font-size="23.5" text-anchor="end">100</text>
<line x1="1422.20" y1="441.40" x2="1434.80" y2="441.40" stroke="#000" stroke-width="1.5" />
<text x="1411.0" y="448.9" font-size="23.5" text-anchor="end">120</text>
<line x1="1471.50" y1="733.60" x2="1471.50" y2="746.00" stroke="#000" stroke-width="1.5" />
<text x="1467.5" y="777.2" font-size="24" text-anchor="middle" textLength="23.7" lengthAdjust="spacingAndGlyphs">d1</text>
<line x1="1526.90" y1="733.60" x2="1526.90" y2="746.00" stroke="#000" stroke-width="1.5" />
<text x="1524.4" y="777.2" font-size="24" text-anchor="middle">d2</text>
<line x1="1582.00" y1="733.60" x2="1582.00" y2="746.00" stroke="#000" stroke-width="1.5" />
<text x="1579.5" y="777.2" font-size="24" text-anchor="middle">d3</text>
<line x1="1673.80" y1="733.60" x2="1673.80" y2="746.00" stroke="#000" stroke-width="1.5" />
<text x="1669.8" y="777.2" font-size="24" text-anchor="middle" textLength="23.7" lengthAdjust="spacingAndGlyphs">d1</text>
<line x1="1729.00" y1="733.60" x2="1729.00" y2="746.00" stroke="#000" stroke-width="1.5" />
<text x="1726.5" y="777.2" font-size="24" text-anchor="middle">d2</text>
<line x1="1783.80" y1="733.60" x2="1783.80" y2="746.00" stroke="#000" stroke-width="1.5" />
<text x="1781.3" y="777.2" font-size="24" text-anchor="middle">d3</text>
<text x="1628.5" y="822.0" font-size="27.5" text-anchor="middle" textLength="188" lengthAdjust="spacingAndGlyphs">Training (days)</text>
<text transform="translate(1311,588) rotate(-90)" font-size="27.5" text-anchor="middle" textLength="240" lengthAdjust="spacingAndGlyphs">Consumption time</text>
<text transform="translate(1342.5,586.5) rotate(-90)" font-size="27.5" text-anchor="middle" textLength="251" lengthAdjust="spacingAndGlyphs">(seconds per 80 µl)</text>
<rect x="1462.10" y="447.00" width="23.00" height="22.60" fill="#8c8cff" stroke="#000" stroke-width="1.5" />
<rect x="1462.10" y="484.20" width="23.00" height="22.60" fill="#ffa040" stroke="#000" stroke-width="1.5" />
<text x="1499.2" y="466.7" font-size="23" text-anchor="start" textLength="51.6" lengthAdjust="spacingAndGlyphs">MOE</text>
<text x="1499.2" y="503.2" font-size="23" text-anchor="start" textLength="46.1" lengthAdjust="spacingAndGlyphs">SOE</text>
<line x1="1471.50" y1="543.80" x2="1471.50" y2="616.00" stroke="#000" stroke-width="1.8" />
<line x1="1462.50" y1="543.80" x2="1480.50" y2="543.80" stroke="#000" stroke-width="1.8" />
<line x1="1471.50" y1="698.40" x2="1471.50" y2="709.00" stroke="#000" stroke-width="1.8" />
<line x1="1462.50" y1="709.00" x2="1480.50" y2="709.00" stroke="#000" stroke-width="1.8" />
<rect x="1453.70" y="616.00" width="35.60" height="82.40" fill="#8c8cff" stroke="#000" stroke-width="1.6" />
<line x1="1453.70" y1="670.00" x2="1489.30" y2="670.00" stroke="#000" stroke-width="1.6" />
<line x1="1527.00" y1="713.50" x2="1527.00" y2="713.50" stroke="#000" stroke-width="1.8" />
<rect x="1508.70" y="688.90" width="36.30" height="24.60" fill="#8c8cff" stroke="#000" stroke-width="1.6" />
<line x1="1508.70" y1="708.60" x2="1545.00" y2="708.60" stroke="#000" stroke-width="1.6" />
<line x1="1582.00" y1="667.80" x2="1582.00" y2="691.80" stroke="#000" stroke-width="1.8" />
<line x1="1573.00" y1="667.80" x2="1591.00" y2="667.80" stroke="#000" stroke-width="1.8" />
<line x1="1582.00" y1="714.40" x2="1582.00" y2="719.00" stroke="#000" stroke-width="1.8" />
<line x1="1573.00" y1="719.00" x2="1591.00" y2="719.00" stroke="#000" stroke-width="1.8" />
<rect x="1563.90" y="691.80" width="36.00" height="22.60" fill="#8c8cff" stroke="#000" stroke-width="1.6" />
<line x1="1563.90" y1="709.60" x2="1599.90" y2="709.60" stroke="#000" stroke-width="1.6" />
<line x1="1673.70" y1="606.80" x2="1673.70" y2="658.60" stroke="#000" stroke-width="1.8" />
<line x1="1664.70" y1="606.80" x2="1682.70" y2="606.80" stroke="#000" stroke-width="1.8" />
<line x1="1673.70" y1="697.70" x2="1673.70" y2="708.40" stroke="#000" stroke-width="1.8" />
<line x1="1664.70" y1="708.40" x2="1682.70" y2="708.40" stroke="#000" stroke-width="1.8" />
<rect x="1655.70" y="658.60" width="36.20" height="39.10" fill="#ffa040" stroke="#000" stroke-width="1.6" />
<line x1="1655.70" y1="682.30" x2="1691.90" y2="682.30" stroke="#000" stroke-width="1.6" />
<line x1="1729.00" y1="662.80" x2="1729.00" y2="676.90" stroke="#000" stroke-width="1.8" />
<line x1="1720.00" y1="662.80" x2="1738.00" y2="662.80" stroke="#000" stroke-width="1.8" />
<line x1="1729.00" y1="701.00" x2="1729.00" y2="709.30" stroke="#000" stroke-width="1.8" />
<line x1="1720.00" y1="709.30" x2="1738.00" y2="709.30" stroke="#000" stroke-width="1.8" />
<rect x="1711.20" y="676.90" width="36.00" height="24.10" fill="#ffa040" stroke="#000" stroke-width="1.6" />
<line x1="1711.20" y1="684.50" x2="1747.20" y2="684.50" stroke="#000" stroke-width="1.6" />
<line x1="1784.20" y1="667.70" x2="1784.20" y2="683.00" stroke="#000" stroke-width="1.8" />
<line x1="1775.20" y1="667.70" x2="1793.20" y2="667.70" stroke="#000" stroke-width="1.8" />
<line x1="1784.20" y1="711.10" x2="1784.20" y2="716.90" stroke="#000" stroke-width="1.8" />
<line x1="1775.20" y1="716.90" x2="1793.20" y2="716.90" stroke="#000" stroke-width="1.8" />
<rect x="1766.40" y="683.00" width="36.00" height="28.10" fill="#ffa040" stroke="#000" stroke-width="1.6" />
<line x1="1766.40" y1="684.00" x2="1802.40" y2="684.00" stroke="#000" stroke-width="1.6" />
<circle cx="1471.5" cy="543.8" r="4.15" fill="#d3d3d3" stroke="#111" stroke-width="1.3"/>
<circle cx="1471.5" cy="563.3" r="4.15" fill="#d3d3d3" stroke="#111" stroke-width="1.3"/>
<circle cx="1471.5" cy="587.4" r="4.15" fill="#d3d3d3" stroke="#111" stroke-width="1.3"/>
<circle cx="1471.4" cy="643.2" r="4.15" fill="#d3d3d3" stroke="#111" stroke-width="1.3"/>
<circle cx="1466.9" cy="657.8" r="4.15" fill="#d3d3d3" stroke="#111" stroke-width="1.3"/>
<circle cx="1476.0" cy="660.8" r="4.15" fill="#d3d3d3" stroke="#111" stroke-width="1.3"/>
<circle cx="1476.0" cy="670.5" r="4.15" fill="#d3d3d3" stroke="#111" stroke-width="1.3"/>
<circle cx="1466.9" cy="675.3" r="4.15" fill="#d3d3d3" stroke="#111" stroke-width="1.3"/>
<circle cx="1457.7" cy="699.8" r="4.15" fill="#d3d3d3" stroke="#111" stroke-width="1.3"/>
<circle cx="1466.9" cy="699.8" r="4.15" fill="#d3d3d3" stroke="#111" stroke-width="1.3"/>
<circle cx="1476.0" cy="701.7" r="4.15" fill="#d3d3d3" stroke="#111" stroke-width="1.3"/>
<circle cx="1485.2" cy="699.8" r="4.15" fill="#d3d3d3" stroke="#111" stroke-width="1.3"/>
<circle cx="1466.9" cy="709.5" r="4.15" fill="#d3d3d3" stroke="#111" stroke-width="1.3"/>
<circle cx="1517.9" cy="648.1" r="4.15" fill="#d3d3d3" stroke="#111" stroke-width="1.3"/>
<circle cx="1535.6" cy="645.7" r="4.15" fill="#d3d3d3" stroke="#111" stroke-width="1.3"/>
<circle cx="1522.1" cy="686.7" r="4.15" fill="#d3d3d3" stroke="#111" stroke-width="1.3"/>
<circle cx="1531.4" cy="689.3" r="4.15" fill="#d3d3d3" stroke="#111" stroke-width="1.3"/>
<circle cx="1517.5" cy="696.9" r="4.15" fill="#d3d3d3" stroke="#111" stroke-width="1.3"/>
<circle cx="1531.4" cy="701.8" r="4.15" fill="#d3d3d3" stroke="#111" stroke-width="1.3"/>
<circle cx="1513.5" cy="707.0" r="4.15" fill="#d3d3d3" stroke="#111" stroke-width="1.3"/>
<circle cx="1536.2" cy="707.2" r="4.15" fill="#d3d3d3" stroke="#111" stroke-width="1.3"/>
<circle cx="1522.1" cy="709.0" r="4.15" fill="#d3d3d3" stroke="#111" stroke-width="1.3"/>
<circle cx="1512.7" cy="711.8" r="4.15" fill="#d3d3d3" stroke="#111" stroke-width="1.3"/>
<circle cx="1531.4" cy="714.2" r="4.15" fill="#d3d3d3" stroke="#111" stroke-width="1.3"/>
<circle cx="1540.4" cy="711.8" r="4.15" fill="#d3d3d3" stroke="#111" stroke-width="1.3"/>
<circle cx="1581.7" cy="667.8" r="4.15" fill="#d3d3d3" stroke="#111" stroke-width="1.3"/>
<circle cx="1587.1" cy="684.5" r="4.15" fill="#d3d3d3" stroke="#111" stroke-width="1.3"/>
<circle cx="1581.8" cy="689.1" r="4.15" fill="#d3d3d3" stroke="#111" stroke-width="1.3"/>
<circle cx="1576.0" cy="692.1" r="4.15" fill="#d3d3d3" stroke="#111" stroke-width="1.3"/>
<circle cx="1567.9" cy="704.2" r="4.15" fill="#d3d3d3" stroke="#111" stroke-width="1.3"/>
<circle cx="1595.9" cy="701.8" r="4.15" fill="#d3d3d3" stroke="#111" stroke-width="1.3"/>
<circle cx="1590.2" cy="709.0" r="4.15" fill="#d3d3d3" stroke="#111" stroke-width="1.3"/>
<circle cx="1573.2" cy="711.4" r="4.15" fill="#d3d3d3" stroke="#111" stroke-width="1.3"/>
<circle cx="1584.4" cy="713.2" r="4.15" fill="#d3d3d3" stroke="#111" stroke-width="1.3"/>
<circle cx="1567.9" cy="716.6" r="4.15" fill="#d3d3d3" stroke="#111" stroke-width="1.3"/>
<circle cx="1579.0" cy="716.6" r="4.15" fill="#d3d3d3" stroke="#111" stroke-width="1.3"/>
<circle cx="1595.9" cy="716.6" r="4.15" fill="#d3d3d3" stroke="#111" stroke-width="1.3"/>
<circle cx="1589.9" cy="719.3" r="4.15" fill="#d3d3d3" stroke="#111" stroke-width="1.3"/>
<circle cx="1673.7" cy="570.0" r="4.15" fill="#d3d3d3" stroke="#111" stroke-width="1.3"/>
<circle cx="1673.7" cy="606.8" r="4.15" fill="#d3d3d3" stroke="#111" stroke-width="1.3"/>
<circle cx="1673.7" cy="650.5" r="4.15" fill="#d3d3d3" stroke="#111" stroke-width="1.3"/>
<circle cx="1673.7" cy="665.0" r="4.15" fill="#d3d3d3" stroke="#111" stroke-width="1.3"/>
<circle cx="1659.8" cy="674.8" r="4.15" fill="#d3d3d3" stroke="#111" stroke-width="1.3"/>
<circle cx="1687.8" cy="677.1" r="4.15" fill="#d3d3d3" stroke="#111" stroke-width="1.3"/>
<circle cx="1659.8" cy="684.4" r="4.15" fill="#d3d3d3" stroke="#111" stroke-width="1.3"/>
<circle cx="1673.7" cy="682.3" r="4.15" fill="#d3d3d3" stroke="#111" stroke-width="1.3"/>
<circle cx="1687.8" cy="689.6" r="4.15" fill="#d3d3d3" stroke="#111" stroke-width="1.3"/>
<circle cx="1659.8" cy="696.8" r="4.15" fill="#d3d3d3" stroke="#111" stroke-width="1.3"/>
<circle cx="1673.7" cy="699.1" r="4.15" fill="#d3d3d3" stroke="#111" stroke-width="1.3"/>
<circle cx="1687.8" cy="701.2" r="4.15" fill="#d3d3d3" stroke="#111" stroke-width="1.3"/>
<circle cx="1659.8" cy="708.4" r="4.15" fill="#d3d3d3" stroke="#111" stroke-width="1.3"/>
<circle cx="1728.9" cy="526.6" r="4.15" fill="#d3d3d3" stroke="#111" stroke-width="1.3"/>
<circle cx="1728.8" cy="662.8" r="4.15" fill="#d3d3d3" stroke="#111" stroke-width="1.3"/>
<circle cx="1724.1" cy="674.7" r="4.15" fill="#d3d3d3" stroke="#111" stroke-width="1.3"/>
<circle cx="1733.7" cy="677.2" r="4.15" fill="#d3d3d3" stroke="#111" stroke-width="1.3"/>
<circle cx="1714.9" cy="684.5" r="4.15" fill="#d3d3d3" stroke="#111" stroke-width="1.3"/>
<circle cx="1724.4" cy="684.5" r="4.15" fill="#d3d3d3" stroke="#111" stroke-width="1.3"/>
<circle cx="1742.9" cy="684.5" r="4.15" fill="#d3d3d3" stroke="#111" stroke-width="1.3"/>
<circle cx="1733.7" cy="692.1" r="4.15" fill="#d3d3d3" stroke="#111" stroke-width="1.3"/>
<circle cx="1715.2" cy="694.3" r="4.15" fill="#d3d3d3" stroke="#111" stroke-width="1.3"/>
<circle cx="1724.4" cy="701.9" r="4.15" fill="#d3d3d3" stroke="#111" stroke-width="1.3"/>
<circle cx="1733.7" cy="704.1" r="4.15" fill="#d3d3d3" stroke="#111" stroke-width="1.3"/>
<circle cx="1742.9" cy="701.9" r="4.15" fill="#d3d3d3" stroke="#111" stroke-width="1.3"/>
<circle cx="1715.2" cy="709.3" r="4.15" fill="#d3d3d3" stroke="#111" stroke-width="1.3"/>
<circle cx="1784.0" cy="543.4" r="4.15" fill="#d3d3d3" stroke="#111" stroke-width="1.3"/>
<circle cx="1784.1" cy="667.7" r="4.15" fill="#d3d3d3" stroke="#111" stroke-width="1.3"/>
<circle cx="1770.4" cy="679.6" r="4.15" fill="#d3d3d3" stroke="#111" stroke-width="1.3"/>
<circle cx="1777.3" cy="677.2" r="4.15" fill="#d3d3d3" stroke="#111" stroke-width="1.3"/>
<circle cx="1784.1" cy="684.5" r="4.15" fill="#d3d3d3" stroke="#111" stroke-width="1.3"/>
<circle cx="1790.7" cy="682.1" r="4.15" fill="#d3d3d3" stroke="#111" stroke-width="1.3"/>
<circle cx="1798.0" cy="679.6" r="4.15" fill="#d3d3d3" stroke="#111" stroke-width="1.3"/>
<circle cx="1777.1" cy="706.4" r="4.15" fill="#d3d3d3" stroke="#111" stroke-width="1.3"/>
<circle cx="1784.1" cy="711.4" r="4.15" fill="#d3d3d3" stroke="#111" stroke-width="1.3"/>
<circle cx="1791.0" cy="711.4" r="4.15" fill="#d3d3d3" stroke="#111" stroke-width="1.3"/>
<circle cx="1798.0" cy="706.4" r="4.15" fill="#d3d3d3" stroke="#111" stroke-width="1.3"/>
<circle cx="1770.4" cy="716.5" r="4.15" fill="#d3d3d3" stroke="#111" stroke-width="1.3"/>
<circle cx="1798.0" cy="716.5" r="4.15" fill="#d3d3d3" stroke="#111" stroke-width="1.3"/>
</svg>
</body></html>
